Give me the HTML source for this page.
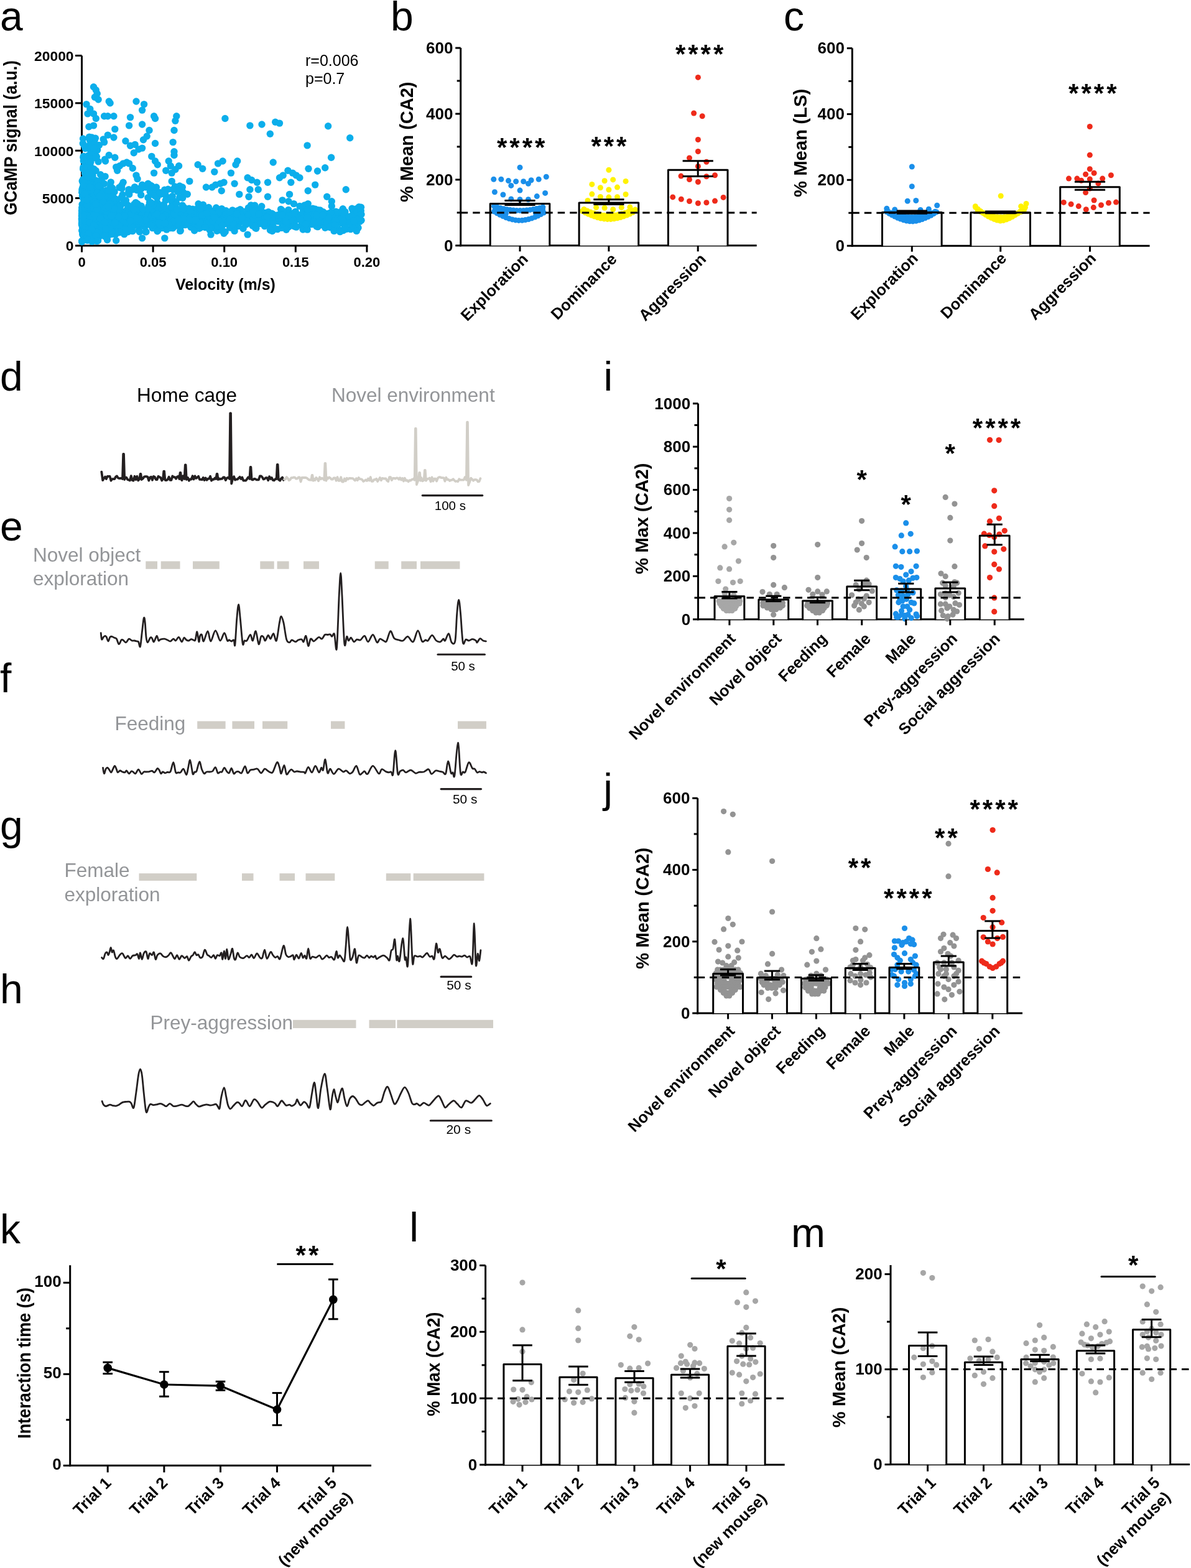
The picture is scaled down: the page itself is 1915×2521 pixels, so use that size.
<!DOCTYPE html>
<html><head><meta charset="utf-8"><title>Figure</title>
<style>html,body{margin:0;padding:0;background:#fff;} svg{display:block;} text{font-family:'Liberation Sans', Arial, Helvetica, sans-serif;}</style>
</head><body>
<svg width="1915" height="2521" viewBox="0 0 1915 2521">
<rect width="1915" height="2521" fill="#fff"/>
<text x="0" y="48.5" font-size="66">a</text>
<line x1="131.5" y1="89.5" x2="131.5" y2="396.5" stroke="#000" stroke-width="3"/>
<line x1="130" y1="395" x2="591.5" y2="395" stroke="#000" stroke-width="3"/>
<line x1="121" y1="395" x2="131.5" y2="395" stroke="#000" stroke-width="3"/>
<text x="118.5" y="403.4" font-size="22.8" font-weight="bold" text-anchor="end">0</text>
<line x1="121" y1="318.6" x2="131.5" y2="318.6" stroke="#000" stroke-width="3"/>
<text x="118.5" y="327" font-size="22.8" font-weight="bold" text-anchor="end">5000</text>
<line x1="121" y1="242.2" x2="131.5" y2="242.2" stroke="#000" stroke-width="3"/>
<text x="118.5" y="250.6" font-size="22.8" font-weight="bold" text-anchor="end">10000</text>
<line x1="121" y1="165.8" x2="131.5" y2="165.8" stroke="#000" stroke-width="3"/>
<text x="118.5" y="174.2" font-size="22.8" font-weight="bold" text-anchor="end">15000</text>
<line x1="121" y1="89.4" x2="131.5" y2="89.4" stroke="#000" stroke-width="3"/>
<text x="118.5" y="97.8" font-size="22.8" font-weight="bold" text-anchor="end">20000</text>
<line x1="131.5" y1="395" x2="131.5" y2="405.5" stroke="#000" stroke-width="3"/>
<text x="131.5" y="428.5" font-size="22" font-weight="bold" text-anchor="middle">0</text>
<line x1="246.1" y1="395" x2="246.1" y2="405.5" stroke="#000" stroke-width="3"/>
<text x="246.1" y="428.5" font-size="22" font-weight="bold" text-anchor="middle">0.05</text>
<line x1="360.7" y1="395" x2="360.7" y2="405.5" stroke="#000" stroke-width="3"/>
<text x="360.7" y="428.5" font-size="22" font-weight="bold" text-anchor="middle">0.10</text>
<line x1="475.3" y1="395" x2="475.3" y2="405.5" stroke="#000" stroke-width="3"/>
<text x="475.3" y="428.5" font-size="22" font-weight="bold" text-anchor="middle">0.15</text>
<line x1="589.9" y1="395" x2="589.9" y2="405.5" stroke="#000" stroke-width="3"/>
<text x="589.9" y="428.5" font-size="22" font-weight="bold" text-anchor="middle">0.20</text>
<g fill="#0BAEEB"><circle cx="205.8" cy="344.2" r="5.7"/><circle cx="138.3" cy="341.4" r="5.7"/><circle cx="297.9" cy="353.4" r="5.7"/><circle cx="284" cy="349.2" r="5.7"/><circle cx="133.9" cy="354.4" r="5.7"/><circle cx="141.2" cy="350.1" r="5.7"/><circle cx="246.1" cy="349.4" r="5.7"/><circle cx="172.5" cy="355.3" r="5.7"/><circle cx="345.7" cy="340.8" r="5.7"/><circle cx="234.3" cy="355.1" r="5.7"/><circle cx="566" cy="335.3" r="5.7"/><circle cx="193.7" cy="346.6" r="5.7"/><circle cx="151.9" cy="346" r="5.7"/><circle cx="457.7" cy="346.5" r="5.7"/><circle cx="160.7" cy="362.1" r="5.7"/><circle cx="224.5" cy="357.4" r="5.7"/><circle cx="303.8" cy="348.7" r="5.7"/><circle cx="167.5" cy="350.3" r="5.7"/><circle cx="375.3" cy="358.1" r="5.7"/><circle cx="323.3" cy="348.2" r="5.7"/><circle cx="258.8" cy="356.1" r="5.7"/><circle cx="386.1" cy="337" r="5.7"/><circle cx="178.8" cy="360.8" r="5.7"/><circle cx="496.3" cy="356.2" r="5.7"/><circle cx="404.1" cy="357.1" r="5.7"/><circle cx="146.3" cy="328.2" r="5.7"/><circle cx="243.4" cy="351.2" r="5.7"/><circle cx="275.2" cy="356.4" r="5.7"/><circle cx="134" cy="358.6" r="5.7"/><circle cx="316.8" cy="364.1" r="5.7"/><circle cx="496.5" cy="356.6" r="5.7"/><circle cx="327.9" cy="339.3" r="5.7"/><circle cx="320.3" cy="367.2" r="5.7"/><circle cx="543.7" cy="347" r="5.7"/><circle cx="268.3" cy="353" r="5.7"/><circle cx="387.5" cy="354" r="5.7"/><circle cx="356.5" cy="335.6" r="5.7"/><circle cx="192" cy="352.1" r="5.7"/><circle cx="229.9" cy="352.3" r="5.7"/><circle cx="262.6" cy="353" r="5.7"/><circle cx="157.5" cy="349.2" r="5.7"/><circle cx="427.6" cy="349.5" r="5.7"/><circle cx="148.6" cy="351.3" r="5.7"/><circle cx="493.8" cy="342.9" r="5.7"/><circle cx="139.5" cy="361.7" r="5.7"/><circle cx="501.8" cy="348.1" r="5.7"/><circle cx="459.7" cy="346.9" r="5.7"/><circle cx="242.2" cy="356.7" r="5.7"/><circle cx="219.1" cy="335.4" r="5.7"/><circle cx="153.4" cy="365.8" r="5.7"/><circle cx="159.6" cy="350.7" r="5.7"/><circle cx="273.3" cy="345.3" r="5.7"/><circle cx="325.1" cy="351.5" r="5.7"/><circle cx="243.7" cy="350.7" r="5.7"/><circle cx="223.2" cy="370.8" r="5.7"/><circle cx="381.2" cy="360" r="5.7"/><circle cx="287.9" cy="361" r="5.7"/><circle cx="135.7" cy="360.1" r="5.7"/><circle cx="512.7" cy="348.2" r="5.7"/><circle cx="446.1" cy="368.6" r="5.7"/><circle cx="232.6" cy="354.7" r="5.7"/><circle cx="349.4" cy="349.1" r="5.7"/><circle cx="136.8" cy="346.1" r="5.7"/><circle cx="156.1" cy="349" r="5.7"/><circle cx="211.9" cy="351.3" r="5.7"/><circle cx="153.5" cy="351.4" r="5.7"/><circle cx="143.1" cy="352.7" r="5.7"/><circle cx="495.7" cy="350" r="5.7"/><circle cx="338.4" cy="347.6" r="5.7"/><circle cx="214.7" cy="346.2" r="5.7"/><circle cx="221.2" cy="339.5" r="5.7"/><circle cx="578.1" cy="339.8" r="5.7"/><circle cx="264.6" cy="355.1" r="5.7"/><circle cx="143.2" cy="351.1" r="5.7"/><circle cx="212.9" cy="352.9" r="5.7"/><circle cx="155.9" cy="335.4" r="5.7"/><circle cx="132.6" cy="341.5" r="5.7"/><circle cx="152.4" cy="354.6" r="5.7"/><circle cx="301.6" cy="341.1" r="5.7"/><circle cx="567.6" cy="349.7" r="5.7"/><circle cx="488.4" cy="353.7" r="5.7"/><circle cx="222.2" cy="357.7" r="5.7"/><circle cx="157.3" cy="350" r="5.7"/><circle cx="434.3" cy="361.9" r="5.7"/><circle cx="208" cy="348.8" r="5.7"/><circle cx="572.2" cy="336" r="5.7"/><circle cx="481.4" cy="346" r="5.7"/><circle cx="410.3" cy="366.3" r="5.7"/><circle cx="173.5" cy="359.4" r="5.7"/><circle cx="133.1" cy="352.3" r="5.7"/><circle cx="133" cy="352.7" r="5.7"/><circle cx="382.3" cy="344.9" r="5.7"/><circle cx="552" cy="370.5" r="5.7"/><circle cx="574.4" cy="344.9" r="5.7"/><circle cx="551" cy="355.4" r="5.7"/><circle cx="173.6" cy="346.9" r="5.7"/><circle cx="165" cy="348.1" r="5.7"/><circle cx="513.2" cy="340" r="5.7"/><circle cx="473.4" cy="363.8" r="5.7"/><circle cx="447.2" cy="349.9" r="5.7"/><circle cx="140.2" cy="361.5" r="5.7"/><circle cx="436.3" cy="367.3" r="5.7"/><circle cx="416.5" cy="356.8" r="5.7"/><circle cx="440.6" cy="350.7" r="5.7"/><circle cx="209.1" cy="344.3" r="5.7"/><circle cx="234" cy="372.8" r="5.7"/><circle cx="236.3" cy="338.5" r="5.7"/><circle cx="158" cy="356" r="5.7"/><circle cx="148.1" cy="340.7" r="5.7"/><circle cx="451.6" cy="336.4" r="5.7"/><circle cx="152.3" cy="340.4" r="5.7"/><circle cx="362.2" cy="372.7" r="5.7"/><circle cx="215.8" cy="355.8" r="5.7"/><circle cx="132" cy="352.8" r="5.7"/><circle cx="562.2" cy="357.6" r="5.7"/><circle cx="536" cy="359.9" r="5.7"/><circle cx="250.2" cy="340.4" r="5.7"/><circle cx="169" cy="363" r="5.7"/><circle cx="181.2" cy="353.1" r="5.7"/><circle cx="323.7" cy="345.3" r="5.7"/><circle cx="183.6" cy="355.4" r="5.7"/><circle cx="519.8" cy="349.2" r="5.7"/><circle cx="217.1" cy="362.4" r="5.7"/><circle cx="515.9" cy="348.5" r="5.7"/><circle cx="244.5" cy="342.7" r="5.7"/><circle cx="295.9" cy="356.4" r="5.7"/><circle cx="291.8" cy="342.3" r="5.7"/><circle cx="161.4" cy="350.4" r="5.7"/><circle cx="131.6" cy="349.9" r="5.7"/><circle cx="268" cy="356.5" r="5.7"/><circle cx="401.5" cy="358.6" r="5.7"/><circle cx="289.3" cy="354.1" r="5.7"/><circle cx="307.7" cy="350.6" r="5.7"/><circle cx="310.2" cy="355.4" r="5.7"/><circle cx="180.2" cy="353.9" r="5.7"/><circle cx="284.1" cy="336.9" r="5.7"/><circle cx="310.9" cy="350.3" r="5.7"/><circle cx="254.3" cy="370.3" r="5.7"/><circle cx="337.6" cy="361.7" r="5.7"/><circle cx="382.4" cy="351.8" r="5.7"/><circle cx="258.4" cy="361" r="5.7"/><circle cx="541.5" cy="353.5" r="5.7"/><circle cx="386.2" cy="336.9" r="5.7"/><circle cx="183.7" cy="365.8" r="5.7"/><circle cx="309.8" cy="336.1" r="5.7"/><circle cx="150.3" cy="357.2" r="5.7"/><circle cx="147" cy="354.6" r="5.7"/><circle cx="177.7" cy="350.3" r="5.7"/><circle cx="138.4" cy="358.7" r="5.7"/><circle cx="511" cy="364.6" r="5.7"/><circle cx="154.2" cy="354.1" r="5.7"/><circle cx="151.6" cy="363.7" r="5.7"/><circle cx="501.4" cy="345.6" r="5.7"/><circle cx="549.2" cy="352.7" r="5.7"/><circle cx="235" cy="372.8" r="5.7"/><circle cx="468.2" cy="349.4" r="5.7"/><circle cx="155.9" cy="360.8" r="5.7"/><circle cx="211.5" cy="347.2" r="5.7"/><circle cx="164.7" cy="357.2" r="5.7"/><circle cx="132.3" cy="339" r="5.7"/><circle cx="307" cy="353" r="5.7"/><circle cx="208.7" cy="350.9" r="5.7"/><circle cx="343.8" cy="354.6" r="5.7"/><circle cx="572.3" cy="351.7" r="5.7"/><circle cx="440.1" cy="347.5" r="5.7"/><circle cx="185.6" cy="352.2" r="5.7"/><circle cx="134.1" cy="350.2" r="5.7"/><circle cx="148.7" cy="358.1" r="5.7"/><circle cx="245.2" cy="338" r="5.7"/><circle cx="183.4" cy="359.8" r="5.7"/><circle cx="153.1" cy="341.7" r="5.7"/><circle cx="386.9" cy="356.9" r="5.7"/><circle cx="141" cy="339.2" r="5.7"/><circle cx="246.5" cy="346.8" r="5.7"/><circle cx="138.3" cy="340.2" r="5.7"/><circle cx="448.5" cy="356" r="5.7"/><circle cx="140" cy="349.5" r="5.7"/><circle cx="488" cy="353.9" r="5.7"/><circle cx="259" cy="357.2" r="5.7"/><circle cx="531.2" cy="342.3" r="5.7"/><circle cx="186.4" cy="344.2" r="5.7"/><circle cx="177" cy="343.9" r="5.7"/><circle cx="144.6" cy="350" r="5.7"/><circle cx="166.4" cy="349.1" r="5.7"/><circle cx="201.5" cy="356.3" r="5.7"/><circle cx="193.8" cy="337.9" r="5.7"/><circle cx="280.5" cy="348" r="5.7"/><circle cx="132.2" cy="344.3" r="5.7"/><circle cx="180.8" cy="337.6" r="5.7"/><circle cx="305.5" cy="350.1" r="5.7"/><circle cx="163" cy="371.2" r="5.7"/><circle cx="144" cy="348.3" r="5.7"/><circle cx="459.5" cy="360.6" r="5.7"/><circle cx="469.6" cy="347.3" r="5.7"/><circle cx="232.9" cy="364.5" r="5.7"/><circle cx="570.4" cy="352" r="5.7"/><circle cx="212.9" cy="344.8" r="5.7"/><circle cx="350.4" cy="363.1" r="5.7"/><circle cx="237.7" cy="353.1" r="5.7"/><circle cx="148.7" cy="349.1" r="5.7"/><circle cx="138" cy="351.8" r="5.7"/><circle cx="156.3" cy="358" r="5.7"/><circle cx="140.2" cy="342.1" r="5.7"/><circle cx="369.7" cy="366" r="5.7"/><circle cx="191.1" cy="351.1" r="5.7"/><circle cx="261.6" cy="344.3" r="5.7"/><circle cx="155" cy="357.8" r="5.7"/><circle cx="555.7" cy="349.2" r="5.7"/><circle cx="563.4" cy="357.6" r="5.7"/><circle cx="558.5" cy="353.3" r="5.7"/><circle cx="200.7" cy="351.7" r="5.7"/><circle cx="228.2" cy="351.1" r="5.7"/><circle cx="268.5" cy="357.2" r="5.7"/><circle cx="282.7" cy="351.6" r="5.7"/><circle cx="131.6" cy="351.8" r="5.7"/><circle cx="235.5" cy="347.8" r="5.7"/><circle cx="134.3" cy="344.2" r="5.7"/><circle cx="175.3" cy="350.4" r="5.7"/><circle cx="323.3" cy="365.5" r="5.7"/><circle cx="362.4" cy="354.1" r="5.7"/><circle cx="396.1" cy="345.3" r="5.7"/><circle cx="206.7" cy="357.3" r="5.7"/><circle cx="572" cy="343.3" r="5.7"/><circle cx="354.4" cy="340.4" r="5.7"/><circle cx="134.5" cy="342.2" r="5.7"/><circle cx="345.6" cy="367" r="5.7"/><circle cx="406.7" cy="349.7" r="5.7"/><circle cx="291.9" cy="355.8" r="5.7"/><circle cx="282.5" cy="343.6" r="5.7"/><circle cx="464.3" cy="364.8" r="5.7"/><circle cx="322.5" cy="341.3" r="5.7"/><circle cx="382.8" cy="359.5" r="5.7"/><circle cx="174.5" cy="347" r="5.7"/><circle cx="219.8" cy="350.6" r="5.7"/><circle cx="143.7" cy="345.8" r="5.7"/><circle cx="345.9" cy="360.8" r="5.7"/><circle cx="345" cy="355.6" r="5.7"/><circle cx="131.5" cy="360.4" r="5.7"/><circle cx="446" cy="351.6" r="5.7"/><circle cx="297.6" cy="361.6" r="5.7"/><circle cx="363.4" cy="338.7" r="5.7"/><circle cx="181.3" cy="345.8" r="5.7"/><circle cx="138.6" cy="352.8" r="5.7"/><circle cx="167.3" cy="337.7" r="5.7"/><circle cx="410.3" cy="341.6" r="5.7"/><circle cx="228.6" cy="353" r="5.7"/><circle cx="270.6" cy="357.4" r="5.7"/><circle cx="340" cy="364.8" r="5.7"/><circle cx="354.1" cy="347.2" r="5.7"/><circle cx="181.9" cy="349.2" r="5.7"/><circle cx="412.3" cy="355.2" r="5.7"/><circle cx="131.9" cy="341" r="5.7"/><circle cx="136.6" cy="353" r="5.7"/><circle cx="382.1" cy="338.8" r="5.7"/><circle cx="372.7" cy="354.1" r="5.7"/><circle cx="264" cy="341.5" r="5.7"/><circle cx="264.7" cy="338.1" r="5.7"/><circle cx="165.7" cy="339.2" r="5.7"/><circle cx="567.3" cy="350" r="5.7"/><circle cx="261.4" cy="352.1" r="5.7"/><circle cx="460.1" cy="342.3" r="5.7"/><circle cx="186.6" cy="353.3" r="5.7"/><circle cx="168.6" cy="345.9" r="5.7"/><circle cx="321.1" cy="353.4" r="5.7"/><circle cx="151.3" cy="372.4" r="5.7"/><circle cx="149.3" cy="354.6" r="5.7"/><circle cx="460.3" cy="369.3" r="5.7"/><circle cx="388.6" cy="352.4" r="5.7"/><circle cx="174.9" cy="343.5" r="5.7"/><circle cx="132.7" cy="357.4" r="5.7"/><circle cx="131.6" cy="360.8" r="5.7"/><circle cx="198" cy="351" r="5.7"/><circle cx="151.1" cy="355.6" r="5.7"/><circle cx="473.3" cy="345.3" r="5.7"/><circle cx="131.5" cy="351.4" r="5.7"/><circle cx="146.7" cy="367.8" r="5.7"/><circle cx="531" cy="355.7" r="5.7"/><circle cx="193.7" cy="369.4" r="5.7"/><circle cx="224.4" cy="372.8" r="5.7"/><circle cx="325.2" cy="331.9" r="5.7"/><circle cx="219.8" cy="357.6" r="5.7"/><circle cx="135" cy="348.5" r="5.7"/><circle cx="143.2" cy="347.9" r="5.7"/><circle cx="537.4" cy="357.5" r="5.7"/><circle cx="180.4" cy="352.5" r="5.7"/><circle cx="163.1" cy="341.3" r="5.7"/><circle cx="224.8" cy="334.4" r="5.7"/><circle cx="455" cy="356.3" r="5.7"/><circle cx="347.6" cy="334" r="5.7"/><circle cx="304.6" cy="362" r="5.7"/><circle cx="398.2" cy="338.2" r="5.7"/><circle cx="257.7" cy="347.2" r="5.7"/><circle cx="418.1" cy="355.8" r="5.7"/><circle cx="135.1" cy="357" r="5.7"/><circle cx="531.3" cy="344.7" r="5.7"/><circle cx="213.3" cy="344.5" r="5.7"/><circle cx="196.5" cy="353.1" r="5.7"/><circle cx="183.9" cy="372.8" r="5.7"/><circle cx="361.5" cy="354.9" r="5.7"/><circle cx="233.4" cy="341.1" r="5.7"/><circle cx="157.3" cy="348.4" r="5.7"/><circle cx="517" cy="346.5" r="5.7"/><circle cx="279.1" cy="348" r="5.7"/><circle cx="580.5" cy="333.2" r="5.7"/><circle cx="257.3" cy="347.9" r="5.7"/><circle cx="141.2" cy="347.2" r="5.7"/><circle cx="212.6" cy="346.1" r="5.7"/><circle cx="183.3" cy="348" r="5.7"/><circle cx="315" cy="340.6" r="5.7"/><circle cx="241.1" cy="360.7" r="5.7"/><circle cx="241.6" cy="359.7" r="5.7"/><circle cx="211.2" cy="352.7" r="5.7"/><circle cx="136.8" cy="355.3" r="5.7"/><circle cx="147.9" cy="329.4" r="5.7"/><circle cx="282.1" cy="363.2" r="5.7"/><circle cx="170.4" cy="363.9" r="5.7"/><circle cx="187.4" cy="351.4" r="5.7"/><circle cx="255.5" cy="342.8" r="5.7"/><circle cx="550.2" cy="341.4" r="5.7"/><circle cx="132.5" cy="365.6" r="5.7"/><circle cx="133.4" cy="356" r="5.7"/><circle cx="267.9" cy="369.1" r="5.7"/><circle cx="324.1" cy="342.9" r="5.7"/><circle cx="531.3" cy="351.4" r="5.7"/><circle cx="463.8" cy="337.4" r="5.7"/><circle cx="180.2" cy="369.5" r="5.7"/><circle cx="144.5" cy="345.6" r="5.7"/><circle cx="376.3" cy="342.9" r="5.7"/><circle cx="541.5" cy="353.6" r="5.7"/><circle cx="425.5" cy="363.6" r="5.7"/><circle cx="260.6" cy="353.8" r="5.7"/><circle cx="436.3" cy="352.2" r="5.7"/><circle cx="175.3" cy="340.7" r="5.7"/><circle cx="198.6" cy="357.4" r="5.7"/><circle cx="148.3" cy="351.6" r="5.7"/><circle cx="385.8" cy="339.3" r="5.7"/><circle cx="145.1" cy="342" r="5.7"/><circle cx="321.9" cy="347" r="5.7"/><circle cx="230.8" cy="349.5" r="5.7"/><circle cx="131.8" cy="340" r="5.7"/><circle cx="197.8" cy="372.4" r="5.7"/><circle cx="355.1" cy="346.2" r="5.7"/><circle cx="502" cy="357.6" r="5.7"/><circle cx="179.7" cy="350.5" r="5.7"/><circle cx="554.9" cy="353.5" r="5.7"/><circle cx="132.5" cy="358.5" r="5.7"/><circle cx="279.6" cy="355.5" r="5.7"/><circle cx="182.9" cy="359.4" r="5.7"/><circle cx="367.9" cy="346" r="5.7"/><circle cx="133.5" cy="354.2" r="5.7"/><circle cx="211.1" cy="362.8" r="5.7"/><circle cx="165.4" cy="345.2" r="5.7"/><circle cx="445.6" cy="352.1" r="5.7"/><circle cx="167.3" cy="361.6" r="5.7"/><circle cx="561.4" cy="357.4" r="5.7"/><circle cx="174.7" cy="336.8" r="5.7"/><circle cx="172" cy="351" r="5.7"/><circle cx="548.8" cy="358.6" r="5.7"/><circle cx="278.4" cy="349.1" r="5.7"/><circle cx="242.9" cy="345.8" r="5.7"/><circle cx="366.7" cy="346.9" r="5.7"/><circle cx="233" cy="353" r="5.7"/><circle cx="169.5" cy="346.8" r="5.7"/><circle cx="135.5" cy="352.2" r="5.7"/><circle cx="136.5" cy="365.8" r="5.7"/><circle cx="501.9" cy="340.1" r="5.7"/><circle cx="406" cy="331.6" r="5.7"/><circle cx="207.8" cy="351.8" r="5.7"/><circle cx="162" cy="338.4" r="5.7"/><circle cx="133.3" cy="357" r="5.7"/><circle cx="366.2" cy="357.4" r="5.7"/><circle cx="208.7" cy="345.7" r="5.7"/><circle cx="157.8" cy="344.5" r="5.7"/><circle cx="216.2" cy="351.3" r="5.7"/><circle cx="551.3" cy="335.7" r="5.7"/><circle cx="167.9" cy="336" r="5.7"/><circle cx="218.2" cy="344.5" r="5.7"/><circle cx="249.6" cy="365.8" r="5.7"/><circle cx="135.2" cy="359.6" r="5.7"/><circle cx="526.3" cy="350.1" r="5.7"/><circle cx="164" cy="363.5" r="5.7"/><circle cx="133.2" cy="337.7" r="5.7"/><circle cx="240.3" cy="345.9" r="5.7"/><circle cx="134.2" cy="365" r="5.7"/><circle cx="133.6" cy="333.7" r="5.7"/><circle cx="182.9" cy="344.1" r="5.7"/><circle cx="414.8" cy="345.2" r="5.7"/><circle cx="187.8" cy="356.1" r="5.7"/><circle cx="552.8" cy="356.4" r="5.7"/><circle cx="396.4" cy="355.9" r="5.7"/><circle cx="203.2" cy="351.6" r="5.7"/><circle cx="419.9" cy="350.7" r="5.7"/><circle cx="524.2" cy="365.1" r="5.7"/><circle cx="132.7" cy="366.7" r="5.7"/><circle cx="175.7" cy="372.6" r="5.7"/><circle cx="550.2" cy="348.1" r="5.7"/><circle cx="230.2" cy="351.5" r="5.7"/><circle cx="277.3" cy="342.4" r="5.7"/><circle cx="532.2" cy="345.1" r="5.7"/><circle cx="409.5" cy="337.4" r="5.7"/><circle cx="462" cy="349.8" r="5.7"/><circle cx="207.3" cy="363" r="5.7"/><circle cx="204.3" cy="361.1" r="5.7"/><circle cx="139.3" cy="340.1" r="5.7"/><circle cx="165.1" cy="351.3" r="5.7"/><circle cx="137.2" cy="357.9" r="5.7"/><circle cx="133.5" cy="358.6" r="5.7"/><circle cx="568.8" cy="353.9" r="5.7"/><circle cx="501.8" cy="344.8" r="5.7"/><circle cx="140.1" cy="352" r="5.7"/><circle cx="142.2" cy="364.9" r="5.7"/><circle cx="256" cy="351.3" r="5.7"/><circle cx="175.8" cy="361.8" r="5.7"/><circle cx="371.7" cy="345.5" r="5.7"/><circle cx="415.2" cy="344.2" r="5.7"/><circle cx="146.9" cy="361.8" r="5.7"/><circle cx="473.7" cy="354.5" r="5.7"/><circle cx="224.7" cy="340.8" r="5.7"/><circle cx="409.2" cy="349.4" r="5.7"/><circle cx="179.2" cy="345.3" r="5.7"/><circle cx="154" cy="343.1" r="5.7"/><circle cx="206.8" cy="358.9" r="5.7"/><circle cx="234.1" cy="341.3" r="5.7"/><circle cx="174.9" cy="351.9" r="5.7"/><circle cx="452.8" cy="366.4" r="5.7"/><circle cx="143.3" cy="372.8" r="5.7"/><circle cx="268.6" cy="344.6" r="5.7"/><circle cx="522.8" cy="366.3" r="5.7"/><circle cx="134.2" cy="352.6" r="5.7"/><circle cx="163.1" cy="347.3" r="5.7"/><circle cx="563.7" cy="368.6" r="5.7"/><circle cx="224.4" cy="361.3" r="5.7"/><circle cx="490.3" cy="357.8" r="5.7"/><circle cx="433.5" cy="349.4" r="5.7"/><circle cx="544.4" cy="342.4" r="5.7"/><circle cx="341.6" cy="344.3" r="5.7"/><circle cx="170.9" cy="354.7" r="5.7"/><circle cx="167" cy="348" r="5.7"/><circle cx="182.2" cy="361.5" r="5.7"/><circle cx="166.8" cy="358.7" r="5.7"/><circle cx="131.9" cy="357.5" r="5.7"/><circle cx="161.9" cy="340.1" r="5.7"/><circle cx="201.6" cy="347.1" r="5.7"/><circle cx="304" cy="336.9" r="5.7"/><circle cx="137" cy="344.6" r="5.7"/><circle cx="305.1" cy="346.3" r="5.7"/><circle cx="352.1" cy="347.2" r="5.7"/><circle cx="384" cy="348.7" r="5.7"/><circle cx="239.8" cy="353" r="5.7"/><circle cx="549.7" cy="344.3" r="5.7"/><circle cx="201.7" cy="358.8" r="5.7"/><circle cx="242.7" cy="354.7" r="5.7"/><circle cx="489" cy="343.3" r="5.7"/><circle cx="165.1" cy="351.6" r="5.7"/><circle cx="403.2" cy="351.2" r="5.7"/><circle cx="514.1" cy="350.6" r="5.7"/><circle cx="245.8" cy="347.7" r="5.7"/><circle cx="501.4" cy="359.3" r="5.7"/><circle cx="262.3" cy="350.7" r="5.7"/><circle cx="305.8" cy="350.2" r="5.7"/><circle cx="353" cy="348.3" r="5.7"/><circle cx="342.8" cy="353.4" r="5.7"/><circle cx="223.8" cy="356.3" r="5.7"/><circle cx="191.5" cy="351.6" r="5.7"/><circle cx="290.7" cy="347.8" r="5.7"/><circle cx="275.9" cy="353.3" r="5.7"/><circle cx="450.5" cy="345.9" r="5.7"/><circle cx="148.1" cy="352.6" r="5.7"/><circle cx="542.6" cy="341.7" r="5.7"/><circle cx="135.7" cy="353" r="5.7"/><circle cx="530.9" cy="365.6" r="5.7"/><circle cx="341.8" cy="339.5" r="5.7"/><circle cx="463.1" cy="343.4" r="5.7"/><circle cx="172.2" cy="338.8" r="5.7"/><circle cx="237.6" cy="342.3" r="5.7"/><circle cx="161.3" cy="364.7" r="5.7"/><circle cx="171" cy="359.8" r="5.7"/><circle cx="229" cy="345.4" r="5.7"/><circle cx="147.3" cy="351.2" r="5.7"/><circle cx="511.1" cy="337.7" r="5.7"/><circle cx="134.2" cy="364.8" r="5.7"/><circle cx="133.9" cy="357" r="5.7"/><circle cx="471.9" cy="342.9" r="5.7"/><circle cx="305" cy="343.6" r="5.7"/><circle cx="345.5" cy="354.5" r="5.7"/><circle cx="321.7" cy="343.1" r="5.7"/><circle cx="246.7" cy="356.5" r="5.7"/><circle cx="252.2" cy="359.3" r="5.7"/><circle cx="132.6" cy="358.7" r="5.7"/><circle cx="176.1" cy="358.2" r="5.7"/><circle cx="424.7" cy="349.7" r="5.7"/><circle cx="160.4" cy="360.8" r="5.7"/><circle cx="267.9" cy="347.9" r="5.7"/><circle cx="248.8" cy="348.7" r="5.7"/><circle cx="141.4" cy="361" r="5.7"/><circle cx="134.2" cy="347.8" r="5.7"/><circle cx="350.6" cy="339.4" r="5.7"/><circle cx="433.4" cy="344.6" r="5.7"/><circle cx="286" cy="341.9" r="5.7"/><circle cx="226.7" cy="348.1" r="5.7"/><circle cx="548.1" cy="340.4" r="5.7"/><circle cx="580.2" cy="338.7" r="5.7"/><circle cx="405.6" cy="349.2" r="5.7"/><circle cx="569.9" cy="356.6" r="5.7"/><circle cx="276.6" cy="333.1" r="5.7"/><circle cx="156.8" cy="356.6" r="5.7"/><circle cx="440.1" cy="348.6" r="5.7"/><circle cx="216" cy="352.8" r="5.7"/><circle cx="420.2" cy="341.6" r="5.7"/><circle cx="188.7" cy="336.1" r="5.7"/><circle cx="457.4" cy="345.2" r="5.7"/><circle cx="526.6" cy="343.5" r="5.7"/><circle cx="168.2" cy="352.3" r="5.7"/><circle cx="204.1" cy="341.3" r="5.7"/><circle cx="133.8" cy="349.4" r="5.7"/><circle cx="538" cy="346.8" r="5.7"/><circle cx="374.9" cy="347.3" r="5.7"/><circle cx="437.9" cy="354.6" r="5.7"/><circle cx="145.7" cy="363.4" r="5.7"/><circle cx="219.5" cy="353.8" r="5.7"/><circle cx="494.8" cy="362.1" r="5.7"/><circle cx="501.2" cy="355.3" r="5.7"/><circle cx="143.7" cy="339.4" r="5.7"/><circle cx="233.3" cy="352" r="5.7"/><circle cx="446" cy="353.9" r="5.7"/><circle cx="319" cy="327.8" r="5.7"/><circle cx="219.7" cy="350.6" r="5.7"/><circle cx="159.7" cy="360.7" r="5.7"/><circle cx="412.6" cy="336.3" r="5.7"/><circle cx="181.8" cy="346.7" r="5.7"/><circle cx="352.2" cy="340.1" r="5.7"/><circle cx="365.8" cy="352.6" r="5.7"/><circle cx="201.8" cy="349.2" r="5.7"/><circle cx="153.1" cy="351.4" r="5.7"/><circle cx="339.5" cy="360.8" r="5.7"/><circle cx="510" cy="347.2" r="5.7"/><circle cx="149.2" cy="349.7" r="5.7"/><circle cx="132.5" cy="339.1" r="5.7"/><circle cx="131.5" cy="353.9" r="5.7"/><circle cx="218.4" cy="348.2" r="5.7"/><circle cx="172.8" cy="361.3" r="5.7"/><circle cx="167" cy="357.2" r="5.7"/><circle cx="343.8" cy="356" r="5.7"/><circle cx="538.1" cy="350.7" r="5.7"/><circle cx="178.6" cy="349.2" r="5.7"/><circle cx="351.6" cy="348.4" r="5.7"/><circle cx="493.7" cy="349.7" r="5.7"/><circle cx="185.2" cy="360" r="5.7"/><circle cx="131.9" cy="358.2" r="5.7"/><circle cx="215.8" cy="360.1" r="5.7"/><circle cx="355.7" cy="370.3" r="5.7"/><circle cx="406.5" cy="344.5" r="5.7"/><circle cx="180.2" cy="349.3" r="5.7"/><circle cx="295.8" cy="352.9" r="5.7"/><circle cx="238.2" cy="351.2" r="5.7"/><circle cx="434.2" cy="348.5" r="5.7"/><circle cx="131.9" cy="370.8" r="5.7"/><circle cx="151.4" cy="357.9" r="5.7"/><circle cx="165.7" cy="359.4" r="5.7"/><circle cx="353.5" cy="357.8" r="5.7"/><circle cx="456" cy="348.1" r="5.7"/><circle cx="197.4" cy="344.9" r="5.7"/><circle cx="135.1" cy="340" r="5.7"/><circle cx="395.7" cy="361" r="5.7"/><circle cx="131.6" cy="343.5" r="5.7"/><circle cx="264.2" cy="363.2" r="5.7"/><circle cx="411.5" cy="357.3" r="5.7"/><circle cx="143.8" cy="349.7" r="5.7"/><circle cx="175.2" cy="343.9" r="5.7"/><circle cx="416.2" cy="349.6" r="5.7"/><circle cx="383.8" cy="343.8" r="5.7"/><circle cx="185.8" cy="362.6" r="5.7"/><circle cx="306.9" cy="365.3" r="5.7"/><circle cx="291.7" cy="345.6" r="5.7"/><circle cx="185.5" cy="365.4" r="5.7"/><circle cx="170.7" cy="368.7" r="5.7"/><circle cx="499.5" cy="344.8" r="5.7"/><circle cx="176.3" cy="350.8" r="5.7"/><circle cx="412.7" cy="338.1" r="5.7"/><circle cx="207" cy="356.3" r="5.7"/><circle cx="499.6" cy="354.4" r="5.7"/><circle cx="518.1" cy="345.9" r="5.7"/><circle cx="347.5" cy="355.9" r="5.7"/><circle cx="568" cy="363.3" r="5.7"/><circle cx="266.2" cy="344.4" r="5.7"/><circle cx="484.6" cy="362.6" r="5.7"/><circle cx="251.7" cy="353.2" r="5.7"/><circle cx="200" cy="362.4" r="5.7"/><circle cx="169.2" cy="353.9" r="5.7"/><circle cx="520.3" cy="353.9" r="5.7"/><circle cx="152" cy="347.4" r="5.7"/><circle cx="532.8" cy="350.8" r="5.7"/><circle cx="213.7" cy="350.2" r="5.7"/><circle cx="134.3" cy="349.8" r="5.7"/><circle cx="382.4" cy="360.3" r="5.7"/><circle cx="408.5" cy="361.3" r="5.7"/><circle cx="137.3" cy="358.3" r="5.7"/><circle cx="458.6" cy="355.8" r="5.7"/><circle cx="459.9" cy="349" r="5.7"/><circle cx="491.4" cy="353.4" r="5.7"/><circle cx="522.8" cy="347.6" r="5.7"/><circle cx="167.5" cy="352.8" r="5.7"/><circle cx="145.1" cy="335.2" r="5.7"/><circle cx="455.1" cy="347.9" r="5.7"/><circle cx="349.4" cy="346" r="5.7"/><circle cx="192.9" cy="362.2" r="5.7"/><circle cx="142.8" cy="339.7" r="5.7"/><circle cx="167.3" cy="343.1" r="5.7"/><circle cx="204.1" cy="353" r="5.7"/><circle cx="182.8" cy="350.6" r="5.7"/><circle cx="191.3" cy="353.2" r="5.7"/><circle cx="204.7" cy="359.5" r="5.7"/><circle cx="557.3" cy="368.2" r="5.7"/><circle cx="340.7" cy="351.8" r="5.7"/><circle cx="133.2" cy="359.3" r="5.7"/><circle cx="430.6" cy="346.7" r="5.7"/><circle cx="214.4" cy="354.4" r="5.7"/><circle cx="170.6" cy="361.7" r="5.7"/><circle cx="487.7" cy="338.1" r="5.7"/><circle cx="158.1" cy="342.9" r="5.7"/><circle cx="131.5" cy="347.1" r="5.7"/><circle cx="567.1" cy="337.6" r="5.7"/><circle cx="131.6" cy="361.4" r="5.7"/><circle cx="445.4" cy="350.9" r="5.7"/><circle cx="161.7" cy="359.3" r="5.7"/><circle cx="467.8" cy="351.2" r="5.7"/><circle cx="184" cy="344.9" r="5.7"/><circle cx="170" cy="353.9" r="5.7"/><circle cx="386.4" cy="355.6" r="5.7"/><circle cx="350.7" cy="351.4" r="5.7"/><circle cx="139.6" cy="348.3" r="5.7"/><circle cx="439.2" cy="364.3" r="5.7"/><circle cx="346" cy="356.8" r="5.7"/><circle cx="233.5" cy="344.6" r="5.7"/><circle cx="506.5" cy="336.1" r="5.7"/><circle cx="132.7" cy="342.2" r="5.7"/><circle cx="167.6" cy="353" r="5.7"/><circle cx="281" cy="333.1" r="5.7"/><circle cx="227.2" cy="346.8" r="5.7"/><circle cx="262.3" cy="355.6" r="5.7"/><circle cx="295.8" cy="351" r="5.7"/><circle cx="356.1" cy="365.8" r="5.7"/><circle cx="215.1" cy="353.8" r="5.7"/><circle cx="475.1" cy="347" r="5.7"/><circle cx="364.9" cy="351.7" r="5.7"/><circle cx="252.4" cy="356.7" r="5.7"/><circle cx="430.8" cy="355.4" r="5.7"/><circle cx="262.8" cy="353.6" r="5.7"/><circle cx="502.9" cy="351" r="5.7"/><circle cx="197.8" cy="345.9" r="5.7"/><circle cx="388.5" cy="348.7" r="5.7"/><circle cx="154.6" cy="355.6" r="5.7"/><circle cx="179.9" cy="356.3" r="5.7"/><circle cx="155.8" cy="342.2" r="5.7"/><circle cx="207.4" cy="342.8" r="5.7"/><circle cx="403.6" cy="329.9" r="5.7"/><circle cx="143.2" cy="347.6" r="5.7"/><circle cx="229.2" cy="352.4" r="5.7"/><circle cx="571.4" cy="347.6" r="5.7"/><circle cx="250.7" cy="364.8" r="5.7"/><circle cx="164.8" cy="354.1" r="5.7"/><circle cx="167.7" cy="354.6" r="5.7"/><circle cx="230.9" cy="343" r="5.7"/><circle cx="441.8" cy="349.6" r="5.7"/><circle cx="382.9" cy="363.6" r="5.7"/><circle cx="263.3" cy="351.5" r="5.7"/><circle cx="151.3" cy="358.4" r="5.7"/><circle cx="411" cy="356.7" r="5.7"/><circle cx="518.4" cy="361.6" r="5.7"/><circle cx="415.9" cy="346.7" r="5.7"/><circle cx="244.7" cy="349.6" r="5.7"/><circle cx="499.6" cy="337.9" r="5.7"/><circle cx="431.2" cy="356.6" r="5.7"/><circle cx="374.9" cy="367.4" r="5.7"/><circle cx="353.4" cy="358.6" r="5.7"/><circle cx="346.1" cy="349.3" r="5.7"/><circle cx="142.5" cy="364.5" r="5.7"/><circle cx="394.4" cy="344.2" r="5.7"/><circle cx="346.9" cy="351.5" r="5.7"/><circle cx="259.7" cy="342.5" r="5.7"/><circle cx="342.5" cy="362.3" r="5.7"/><circle cx="533.7" cy="344.5" r="5.7"/><circle cx="161.3" cy="359.8" r="5.7"/><circle cx="231.1" cy="363.7" r="5.7"/><circle cx="275.6" cy="349.1" r="5.7"/><circle cx="301.6" cy="351.8" r="5.7"/><circle cx="155.8" cy="347.4" r="5.7"/><circle cx="289.7" cy="371.4" r="5.7"/><circle cx="143" cy="361" r="5.7"/><circle cx="396.8" cy="356.3" r="5.7"/><circle cx="286.3" cy="361.8" r="5.7"/><circle cx="290.9" cy="363.8" r="5.7"/><circle cx="240.1" cy="345.9" r="5.7"/><circle cx="377.6" cy="353.3" r="5.7"/><circle cx="232.6" cy="351.1" r="5.7"/><circle cx="571.9" cy="355.8" r="5.7"/><circle cx="217.8" cy="345" r="5.7"/><circle cx="235.6" cy="349.1" r="5.7"/><circle cx="132" cy="359.2" r="5.7"/><circle cx="385.7" cy="347.1" r="5.7"/><circle cx="216.5" cy="352" r="5.7"/><circle cx="411.3" cy="345.4" r="5.7"/><circle cx="540.4" cy="357.4" r="5.7"/><circle cx="448.4" cy="352.5" r="5.7"/><circle cx="232.4" cy="350.4" r="5.7"/><circle cx="432.8" cy="347.1" r="5.7"/><circle cx="453.5" cy="357.9" r="5.7"/><circle cx="311.1" cy="358.6" r="5.7"/><circle cx="173.3" cy="343.7" r="5.7"/><circle cx="351.9" cy="353.2" r="5.7"/><circle cx="459.4" cy="347.6" r="5.7"/><circle cx="195.3" cy="360.2" r="5.7"/><circle cx="304.1" cy="340" r="5.7"/><circle cx="217.5" cy="340" r="5.7"/><circle cx="480.1" cy="352.4" r="5.7"/><circle cx="181.8" cy="343.2" r="5.7"/><circle cx="246.8" cy="351.2" r="5.7"/><circle cx="399.5" cy="350.9" r="5.7"/><circle cx="190.8" cy="351.2" r="5.7"/><circle cx="270.8" cy="344.2" r="5.7"/><circle cx="247.9" cy="359.6" r="5.7"/><circle cx="220.5" cy="361" r="5.7"/><circle cx="532.6" cy="349.7" r="5.7"/><circle cx="465.3" cy="353.8" r="5.7"/><circle cx="516.9" cy="350.5" r="5.7"/><circle cx="467.5" cy="356.1" r="5.7"/><circle cx="348.8" cy="350.2" r="5.7"/><circle cx="548.7" cy="351.3" r="5.7"/><circle cx="361.5" cy="351.5" r="5.7"/><circle cx="151.5" cy="347.5" r="5.7"/><circle cx="175.6" cy="350.2" r="5.7"/><circle cx="153.8" cy="359.2" r="5.7"/><circle cx="515.8" cy="350.1" r="5.7"/><circle cx="507" cy="356.5" r="5.7"/><circle cx="335.4" cy="349" r="5.7"/><circle cx="508.9" cy="363.9" r="5.7"/><circle cx="440" cy="348.4" r="5.7"/><circle cx="382.5" cy="356.3" r="5.7"/><circle cx="295.4" cy="351.9" r="5.7"/><circle cx="501.3" cy="360.6" r="5.7"/><circle cx="307.5" cy="352" r="5.7"/><circle cx="150.8" cy="345.2" r="5.7"/><circle cx="277.2" cy="342.5" r="5.7"/><circle cx="151.9" cy="348" r="5.7"/><circle cx="276.4" cy="362.1" r="5.7"/><circle cx="488.1" cy="351.3" r="5.7"/><circle cx="131.6" cy="346.3" r="5.7"/><circle cx="311.4" cy="359.5" r="5.7"/><circle cx="366.7" cy="347" r="5.7"/><circle cx="243.7" cy="358.4" r="5.7"/><circle cx="554.9" cy="340.6" r="5.7"/><circle cx="350.5" cy="345.9" r="5.7"/><circle cx="133" cy="361.5" r="5.7"/><circle cx="534.6" cy="359.7" r="5.7"/><circle cx="208.3" cy="341.3" r="5.7"/><circle cx="273.2" cy="352.6" r="5.7"/><circle cx="511.3" cy="338.1" r="5.7"/><circle cx="344.5" cy="348.6" r="5.7"/><circle cx="211.3" cy="346.2" r="5.7"/><circle cx="268.5" cy="357.7" r="5.7"/><circle cx="292.8" cy="350.7" r="5.7"/><circle cx="250.8" cy="357.3" r="5.7"/><circle cx="245.2" cy="366.6" r="5.7"/><circle cx="194.8" cy="356.8" r="5.7"/><circle cx="465.2" cy="359.8" r="5.7"/><circle cx="187.6" cy="345.7" r="5.7"/><circle cx="283.5" cy="339.1" r="5.7"/><circle cx="442.4" cy="353.4" r="5.7"/><circle cx="208.4" cy="354.4" r="5.7"/><circle cx="323.7" cy="344.9" r="5.7"/><circle cx="349.7" cy="350.9" r="5.7"/><circle cx="400" cy="353.8" r="5.7"/><circle cx="503.3" cy="354.1" r="5.7"/><circle cx="197.4" cy="352.2" r="5.7"/><circle cx="131.6" cy="344.3" r="5.7"/><circle cx="335.5" cy="333.5" r="5.7"/><circle cx="362.6" cy="346.9" r="5.7"/><circle cx="337.2" cy="369.7" r="5.7"/><circle cx="339.9" cy="360.7" r="5.7"/><circle cx="328.9" cy="360.9" r="5.7"/><circle cx="375.7" cy="348.5" r="5.7"/><circle cx="260.9" cy="339.1" r="5.7"/><circle cx="424.2" cy="347.1" r="5.7"/><circle cx="133.8" cy="348.2" r="5.7"/><circle cx="431.5" cy="340.7" r="5.7"/><circle cx="223.1" cy="357.9" r="5.7"/><circle cx="461.9" cy="348.9" r="5.7"/><circle cx="183.2" cy="362.2" r="5.7"/><circle cx="198" cy="358.1" r="5.7"/><circle cx="248.8" cy="347.9" r="5.7"/><circle cx="353.6" cy="348.8" r="5.7"/><circle cx="313.9" cy="352.6" r="5.7"/><circle cx="134.1" cy="340" r="5.7"/><circle cx="317.9" cy="340.9" r="5.7"/><circle cx="525.7" cy="352.8" r="5.7"/><circle cx="230.4" cy="351" r="5.7"/><circle cx="326.6" cy="329.2" r="5.7"/><circle cx="268.9" cy="360.6" r="5.7"/><circle cx="241" cy="341.6" r="5.7"/><circle cx="169.3" cy="344.1" r="5.7"/><circle cx="153.6" cy="350.6" r="5.7"/><circle cx="377.3" cy="351.4" r="5.7"/><circle cx="147" cy="347.9" r="5.7"/><circle cx="492.5" cy="352.2" r="5.7"/><circle cx="148.5" cy="337.9" r="5.7"/><circle cx="178.2" cy="349.9" r="5.7"/><circle cx="406.5" cy="350.4" r="5.7"/><circle cx="431.2" cy="348.9" r="5.7"/><circle cx="394.6" cy="342.9" r="5.7"/><circle cx="140.1" cy="362.4" r="5.7"/><circle cx="346.3" cy="353.9" r="5.7"/><circle cx="535.1" cy="360.6" r="5.7"/><circle cx="181.9" cy="338.2" r="5.7"/><circle cx="131.9" cy="354.5" r="5.7"/><circle cx="132" cy="360.7" r="5.7"/><circle cx="139.4" cy="364.3" r="5.7"/><circle cx="201.2" cy="352.1" r="5.7"/><circle cx="486.9" cy="356.6" r="5.7"/><circle cx="274" cy="343.8" r="5.7"/><circle cx="317.8" cy="348.4" r="5.7"/><circle cx="252.3" cy="353.6" r="5.7"/><circle cx="445.8" cy="355.7" r="5.7"/><circle cx="220.8" cy="358.9" r="5.7"/><circle cx="243.3" cy="361" r="5.7"/><circle cx="229.8" cy="346.8" r="5.7"/><circle cx="437.8" cy="371.5" r="5.7"/><circle cx="313.5" cy="352.2" r="5.7"/><circle cx="564.4" cy="348.5" r="5.7"/><circle cx="388.6" cy="347.9" r="5.7"/><circle cx="334" cy="358.2" r="5.7"/><circle cx="566.8" cy="345.8" r="5.7"/><circle cx="200.3" cy="361.6" r="5.7"/><circle cx="247.9" cy="345.1" r="5.7"/><circle cx="377.9" cy="356.8" r="5.7"/><circle cx="331.8" cy="339.1" r="5.7"/><circle cx="191.5" cy="360.9" r="5.7"/><circle cx="131.5" cy="352.2" r="5.7"/><circle cx="323.8" cy="342.5" r="5.7"/><circle cx="457.6" cy="349.5" r="5.7"/><circle cx="468.7" cy="353.1" r="5.7"/><circle cx="454.9" cy="344" r="5.7"/><circle cx="188.3" cy="359.7" r="5.7"/><circle cx="480.4" cy="346.9" r="5.7"/><circle cx="522.3" cy="363.6" r="5.7"/><circle cx="214.5" cy="342.1" r="5.7"/><circle cx="445.8" cy="345.9" r="5.7"/><circle cx="166" cy="351.4" r="5.7"/><circle cx="175.7" cy="371.3" r="5.7"/><circle cx="334.6" cy="355.7" r="5.7"/><circle cx="167.7" cy="360.1" r="5.7"/><circle cx="182.1" cy="351.3" r="5.7"/><circle cx="261.7" cy="366.6" r="5.7"/><circle cx="140.7" cy="346.3" r="5.7"/><circle cx="175.4" cy="365.2" r="5.7"/><circle cx="320.2" cy="337.3" r="5.7"/><circle cx="291" cy="362.2" r="5.7"/><circle cx="269.4" cy="356.1" r="5.7"/><circle cx="163.8" cy="354.4" r="5.7"/><circle cx="160.7" cy="353.9" r="5.7"/><circle cx="312.3" cy="359.2" r="5.7"/><circle cx="236.8" cy="356.3" r="5.7"/><circle cx="134.6" cy="352" r="5.7"/><circle cx="581" cy="354.3" r="5.7"/><circle cx="348.6" cy="348.6" r="5.7"/><circle cx="439.5" cy="345" r="5.7"/><circle cx="213.7" cy="341.9" r="5.7"/><circle cx="289.8" cy="349.2" r="5.7"/><circle cx="576.1" cy="351.2" r="5.7"/><circle cx="490.2" cy="362.5" r="5.7"/><circle cx="184.3" cy="350.5" r="5.7"/><circle cx="434.4" cy="370" r="5.7"/><circle cx="427" cy="342.2" r="5.7"/><circle cx="459.4" cy="345.1" r="5.7"/><circle cx="133.9" cy="352.9" r="5.7"/><circle cx="166.2" cy="349.9" r="5.7"/><circle cx="135.4" cy="348.2" r="5.7"/><circle cx="308.7" cy="344.9" r="5.7"/><circle cx="545.5" cy="358.3" r="5.7"/><circle cx="519.7" cy="340.8" r="5.7"/><circle cx="234.6" cy="346.9" r="5.7"/><circle cx="146.7" cy="345.1" r="5.7"/><circle cx="312.3" cy="353.1" r="5.7"/><circle cx="352.9" cy="339.2" r="5.7"/><circle cx="232.9" cy="354.9" r="5.7"/><circle cx="256.6" cy="339.5" r="5.7"/><circle cx="577.1" cy="332.7" r="5.7"/><circle cx="172" cy="345.1" r="5.7"/><circle cx="216.5" cy="349.9" r="5.7"/><circle cx="514.8" cy="338" r="5.7"/><circle cx="134.9" cy="360.7" r="5.7"/><circle cx="438.9" cy="354.6" r="5.7"/><circle cx="572.5" cy="363.4" r="5.7"/><circle cx="136" cy="342.6" r="5.7"/><circle cx="540" cy="340.1" r="5.7"/><circle cx="373.3" cy="354.9" r="5.7"/><circle cx="421.3" cy="340.5" r="5.7"/><circle cx="143.8" cy="354.4" r="5.7"/><circle cx="147.5" cy="345.6" r="5.7"/><circle cx="271.6" cy="348.4" r="5.7"/><circle cx="151.6" cy="345.9" r="5.7"/><circle cx="373.8" cy="337.9" r="5.7"/><circle cx="164.5" cy="350.4" r="5.7"/><circle cx="133.7" cy="346" r="5.7"/><circle cx="536.3" cy="354.1" r="5.7"/><circle cx="490.7" cy="347.9" r="5.7"/><circle cx="256.1" cy="354.5" r="5.7"/><circle cx="142.3" cy="336.6" r="5.7"/><circle cx="346.2" cy="358.6" r="5.7"/><circle cx="258.4" cy="360" r="5.7"/><circle cx="269.9" cy="338" r="5.7"/><circle cx="346.1" cy="347.7" r="5.7"/><circle cx="136.1" cy="346.7" r="5.7"/><circle cx="394.7" cy="356" r="5.7"/><circle cx="493.3" cy="353" r="5.7"/><circle cx="185.9" cy="355.7" r="5.7"/><circle cx="187.4" cy="348.8" r="5.7"/><circle cx="472.8" cy="354.1" r="5.7"/><circle cx="276.2" cy="347" r="5.7"/><circle cx="203.7" cy="348" r="5.7"/><circle cx="567.7" cy="353.9" r="5.7"/><circle cx="136.1" cy="341.4" r="5.7"/><circle cx="169" cy="359.2" r="5.7"/><circle cx="269.8" cy="352.9" r="5.7"/><circle cx="166.3" cy="345" r="5.7"/><circle cx="221.2" cy="327.8" r="5.7"/><circle cx="530.1" cy="353.2" r="5.7"/><circle cx="142.4" cy="355.9" r="5.7"/><circle cx="136.2" cy="333.8" r="5.7"/><circle cx="402.3" cy="357.9" r="5.7"/><circle cx="132.1" cy="328.6" r="5.7"/><circle cx="451.9" cy="354" r="5.7"/><circle cx="131.5" cy="347.5" r="5.7"/><circle cx="468.1" cy="356.9" r="5.7"/><circle cx="250.8" cy="352.4" r="5.7"/><circle cx="521.1" cy="349.2" r="5.7"/><circle cx="150.5" cy="340.5" r="5.7"/><circle cx="160.6" cy="349.7" r="5.7"/><circle cx="165" cy="364.8" r="5.7"/><circle cx="139.3" cy="341.5" r="5.7"/><circle cx="278.3" cy="345.3" r="5.7"/><circle cx="188.4" cy="348.2" r="5.7"/><circle cx="391.2" cy="340.1" r="5.7"/><circle cx="454.8" cy="356.4" r="5.7"/><circle cx="137.3" cy="354.3" r="5.7"/><circle cx="406" cy="362.9" r="5.7"/><circle cx="135.9" cy="344" r="5.7"/><circle cx="454.2" cy="359.8" r="5.7"/><circle cx="489.2" cy="337.3" r="5.7"/><circle cx="277.1" cy="332.8" r="5.7"/><circle cx="269.5" cy="349.6" r="5.7"/><circle cx="494.2" cy="352" r="5.7"/><circle cx="467.7" cy="346" r="5.7"/><circle cx="222.4" cy="347.2" r="5.7"/><circle cx="328.2" cy="344.4" r="5.7"/><circle cx="131.6" cy="360.7" r="5.7"/><circle cx="288" cy="352.6" r="5.7"/><circle cx="146.8" cy="354.9" r="5.7"/><circle cx="489.8" cy="366.8" r="5.7"/><circle cx="204.8" cy="353.5" r="5.7"/><circle cx="417.3" cy="359.6" r="5.7"/><circle cx="136.7" cy="336.6" r="5.7"/><circle cx="278" cy="366.7" r="5.7"/><circle cx="286.8" cy="361.9" r="5.7"/><circle cx="132.4" cy="353.5" r="5.7"/><circle cx="559.7" cy="350.6" r="5.7"/><circle cx="143.3" cy="346.1" r="5.7"/><circle cx="180.8" cy="350.6" r="5.7"/><circle cx="142.2" cy="353.4" r="5.7"/><circle cx="386.1" cy="350.9" r="5.7"/><circle cx="330.6" cy="349.9" r="5.7"/><circle cx="318.5" cy="364.6" r="5.7"/><circle cx="143.4" cy="353.4" r="5.7"/><circle cx="492.5" cy="352" r="5.7"/><circle cx="147.3" cy="354" r="5.7"/><circle cx="277.4" cy="358.4" r="5.7"/><circle cx="147.1" cy="351.5" r="5.7"/><circle cx="238.1" cy="344" r="5.7"/><circle cx="486.9" cy="342.8" r="5.7"/><circle cx="152.6" cy="364.2" r="5.7"/><circle cx="156.6" cy="357.7" r="5.7"/><circle cx="464.1" cy="343.6" r="5.7"/><circle cx="244.4" cy="354.7" r="5.7"/><circle cx="472.9" cy="359.9" r="5.7"/><circle cx="541.4" cy="352.8" r="5.7"/><circle cx="433" cy="354.8" r="5.7"/><circle cx="210" cy="346.1" r="5.7"/><circle cx="251" cy="336.1" r="5.7"/><circle cx="521.7" cy="353.3" r="5.7"/><circle cx="457" cy="349.8" r="5.7"/><circle cx="288.8" cy="353.8" r="5.7"/><circle cx="553" cy="345.5" r="5.7"/><circle cx="245.1" cy="354.1" r="5.7"/><circle cx="348.6" cy="358.4" r="5.7"/><circle cx="137.8" cy="343.5" r="5.7"/><circle cx="249.8" cy="353.2" r="5.7"/><circle cx="150.8" cy="351.5" r="5.7"/><circle cx="561.3" cy="348.1" r="5.7"/><circle cx="348.8" cy="371.3" r="5.7"/><circle cx="453.3" cy="338.2" r="5.7"/><circle cx="133.6" cy="363.3" r="5.7"/><circle cx="353.5" cy="352.7" r="5.7"/><circle cx="188.2" cy="338.6" r="5.7"/><circle cx="301.1" cy="340.8" r="5.7"/><circle cx="180.8" cy="356.9" r="5.7"/><circle cx="290.2" cy="370.7" r="5.7"/><circle cx="193" cy="343" r="5.7"/><circle cx="199.2" cy="354.1" r="5.7"/><circle cx="327.9" cy="354.9" r="5.7"/><circle cx="551.7" cy="358.2" r="5.7"/><circle cx="264.8" cy="352" r="5.7"/><circle cx="296.9" cy="348.8" r="5.7"/><circle cx="149" cy="347.9" r="5.7"/><circle cx="195" cy="357.3" r="5.7"/><circle cx="178.6" cy="347.5" r="5.7"/><circle cx="140.7" cy="367.1" r="5.7"/><circle cx="336.2" cy="356.2" r="5.7"/><circle cx="315.3" cy="354.8" r="5.7"/><circle cx="392.7" cy="356.1" r="5.7"/><circle cx="262.2" cy="362.7" r="5.7"/><circle cx="265.9" cy="355" r="5.7"/><circle cx="201" cy="351.2" r="5.7"/><circle cx="286.4" cy="345.4" r="5.7"/><circle cx="228.8" cy="352.6" r="5.7"/><circle cx="216.7" cy="352.1" r="5.7"/><circle cx="487.4" cy="350.7" r="5.7"/><circle cx="276.4" cy="340.6" r="5.7"/><circle cx="192" cy="344.3" r="5.7"/><circle cx="430" cy="352" r="5.7"/><circle cx="155.2" cy="335.6" r="5.7"/><circle cx="252.9" cy="344.4" r="5.7"/><circle cx="136.8" cy="358.5" r="5.7"/><circle cx="407.6" cy="345.5" r="5.7"/><circle cx="144.6" cy="348.1" r="5.7"/><circle cx="409.6" cy="330.1" r="5.7"/><circle cx="154.3" cy="355.6" r="5.7"/><circle cx="372.4" cy="344.6" r="5.7"/><circle cx="339.6" cy="342.1" r="5.7"/><circle cx="289" cy="364.3" r="5.7"/><circle cx="409.7" cy="352.1" r="5.7"/><circle cx="268.8" cy="365.9" r="5.7"/><circle cx="438" cy="356.3" r="5.7"/><circle cx="148.2" cy="369.8" r="5.7"/><circle cx="493.4" cy="336.9" r="5.7"/><circle cx="323.4" cy="351.1" r="5.7"/><circle cx="279.4" cy="340.6" r="5.7"/><circle cx="243.3" cy="354" r="5.7"/><circle cx="437.2" cy="343.3" r="5.7"/><circle cx="227.3" cy="359.8" r="5.7"/><circle cx="258.4" cy="364.7" r="5.7"/><circle cx="194.8" cy="347.9" r="5.7"/><circle cx="231.9" cy="359.4" r="5.7"/><circle cx="205.2" cy="354.3" r="5.7"/><circle cx="439.3" cy="345.6" r="5.7"/><circle cx="254.7" cy="359.6" r="5.7"/><circle cx="161.6" cy="353" r="5.7"/><circle cx="318" cy="346.9" r="5.7"/><circle cx="321.2" cy="335.1" r="5.7"/><circle cx="205.8" cy="341.4" r="5.7"/><circle cx="475.3" cy="340.1" r="5.7"/><circle cx="167.1" cy="369.8" r="5.7"/><circle cx="247" cy="350.4" r="5.7"/><circle cx="134.9" cy="352.1" r="5.7"/><circle cx="312.6" cy="370.7" r="5.7"/><circle cx="430.9" cy="351.1" r="5.7"/><circle cx="299.2" cy="341.1" r="5.7"/><circle cx="288.8" cy="351.6" r="5.7"/><circle cx="378.1" cy="357.6" r="5.7"/><circle cx="328.1" cy="346.3" r="5.7"/><circle cx="216.1" cy="339.3" r="5.7"/><circle cx="292.7" cy="355.6" r="5.7"/><circle cx="142.7" cy="357.6" r="5.7"/><circle cx="310.7" cy="345.3" r="5.7"/><circle cx="317.3" cy="335.4" r="5.7"/><circle cx="274.2" cy="366.6" r="5.7"/><circle cx="253" cy="371.7" r="5.7"/><circle cx="213.1" cy="371.6" r="5.7"/><circle cx="295.1" cy="349.3" r="5.7"/><circle cx="203.7" cy="356.2" r="5.7"/><circle cx="567.5" cy="346.7" r="5.7"/><circle cx="144.8" cy="360.6" r="5.7"/><circle cx="509.3" cy="357.3" r="5.7"/><circle cx="576" cy="366.2" r="5.7"/><circle cx="505" cy="355.8" r="5.7"/><circle cx="193.8" cy="349.1" r="5.7"/><circle cx="286" cy="357" r="5.7"/><circle cx="161.2" cy="351.6" r="5.7"/><circle cx="347.1" cy="357.8" r="5.7"/><circle cx="578.5" cy="356.3" r="5.7"/><circle cx="350.7" cy="343" r="5.7"/><circle cx="439.7" cy="349.1" r="5.7"/><circle cx="199.7" cy="351.7" r="5.7"/><circle cx="198.8" cy="352.2" r="5.7"/><circle cx="474.5" cy="362.3" r="5.7"/><circle cx="165" cy="358" r="5.7"/><circle cx="279.4" cy="357.8" r="5.7"/><circle cx="356.4" cy="353.7" r="5.7"/><circle cx="295.7" cy="340.3" r="5.7"/><circle cx="240.4" cy="351.7" r="5.7"/><circle cx="147" cy="343.5" r="5.7"/><circle cx="144.1" cy="339.4" r="5.7"/><circle cx="142.9" cy="346.5" r="5.7"/><circle cx="462.2" cy="342.3" r="5.7"/><circle cx="337.9" cy="350.4" r="5.7"/><circle cx="131.9" cy="354.3" r="5.7"/><circle cx="429.1" cy="357.4" r="5.7"/><circle cx="217.2" cy="339.3" r="5.7"/><circle cx="157.9" cy="351.9" r="5.7"/><circle cx="515.6" cy="347.6" r="5.7"/><circle cx="321.5" cy="356.9" r="5.7"/><circle cx="229.8" cy="343.8" r="5.7"/><circle cx="135.8" cy="342.7" r="5.7"/><circle cx="554.2" cy="358.6" r="5.7"/><circle cx="252.7" cy="356.2" r="5.7"/><circle cx="134.5" cy="355.9" r="5.7"/><circle cx="534.1" cy="346.9" r="5.7"/><circle cx="512.2" cy="357.3" r="5.7"/><circle cx="457.6" cy="355.3" r="5.7"/><circle cx="554.5" cy="340.5" r="5.7"/><circle cx="278.3" cy="345.4" r="5.7"/><circle cx="231.5" cy="353.4" r="5.7"/><circle cx="397.5" cy="350.1" r="5.7"/><circle cx="496.4" cy="344.2" r="5.7"/><circle cx="273.1" cy="349.8" r="5.7"/><circle cx="158.9" cy="357.6" r="5.7"/><circle cx="218.9" cy="342.6" r="5.7"/><circle cx="194" cy="330.4" r="5.7"/><circle cx="310.8" cy="343.5" r="5.7"/><circle cx="229.8" cy="344.5" r="5.7"/><circle cx="237.1" cy="347.4" r="5.7"/><circle cx="463.9" cy="349.7" r="5.7"/><circle cx="216.2" cy="351.3" r="5.7"/><circle cx="191.6" cy="345.9" r="5.7"/><circle cx="176.7" cy="339.1" r="5.7"/><circle cx="212.4" cy="348.7" r="5.7"/><circle cx="154.6" cy="352.5" r="5.7"/><circle cx="187" cy="355.1" r="5.7"/><circle cx="469.9" cy="345" r="5.7"/><circle cx="470.7" cy="344.8" r="5.7"/><circle cx="450.6" cy="347.1" r="5.7"/><circle cx="399.9" cy="344.7" r="5.7"/><circle cx="226.3" cy="345.8" r="5.7"/><circle cx="548.1" cy="353" r="5.7"/><circle cx="282.8" cy="350.1" r="5.7"/><circle cx="149" cy="342.2" r="5.7"/><circle cx="390.5" cy="352.7" r="5.7"/><circle cx="324.3" cy="333.1" r="5.7"/><circle cx="222.7" cy="351.2" r="5.7"/><circle cx="169.4" cy="339.7" r="5.7"/><circle cx="494.4" cy="344.1" r="5.7"/><circle cx="301.3" cy="344.3" r="5.7"/><circle cx="187.2" cy="350.3" r="5.7"/><circle cx="362.4" cy="359.8" r="5.7"/><circle cx="314" cy="354.6" r="5.7"/><circle cx="140.4" cy="343.6" r="5.7"/><circle cx="159.8" cy="347" r="5.7"/><circle cx="365.3" cy="357.5" r="5.7"/><circle cx="144.5" cy="359" r="5.7"/><circle cx="280.6" cy="354.5" r="5.7"/><circle cx="196.2" cy="344.7" r="5.7"/><circle cx="173.4" cy="348.5" r="5.7"/><circle cx="147.9" cy="352.9" r="5.7"/><circle cx="237.1" cy="358.3" r="5.7"/><circle cx="519" cy="348.7" r="5.7"/><circle cx="487.1" cy="369" r="5.7"/><circle cx="149.2" cy="351.8" r="5.7"/><circle cx="374.9" cy="349.4" r="5.7"/><circle cx="365.8" cy="356.7" r="5.7"/><circle cx="363.2" cy="344.4" r="5.7"/><circle cx="386.2" cy="351.3" r="5.7"/><circle cx="216.5" cy="334.9" r="5.7"/><circle cx="346.4" cy="349.7" r="5.7"/><circle cx="521.6" cy="347.6" r="5.7"/><circle cx="406.8" cy="352" r="5.7"/><circle cx="134.1" cy="353.8" r="5.7"/><circle cx="156" cy="349.1" r="5.7"/><circle cx="227.8" cy="344.6" r="5.7"/><circle cx="134" cy="356" r="5.7"/><circle cx="160.5" cy="340.1" r="5.7"/><circle cx="472.8" cy="363.7" r="5.7"/><circle cx="182.1" cy="357.3" r="5.7"/><circle cx="250.7" cy="354.6" r="5.7"/><circle cx="131.5" cy="358.7" r="5.7"/><circle cx="469.4" cy="350.3" r="5.7"/><circle cx="134.4" cy="358.4" r="5.7"/><circle cx="482.4" cy="353.5" r="5.7"/><circle cx="178.9" cy="353.1" r="5.7"/><circle cx="144.9" cy="349.9" r="5.7"/><circle cx="522.8" cy="357.1" r="5.7"/><circle cx="416.2" cy="340.2" r="5.7"/><circle cx="233.1" cy="344.7" r="5.7"/><circle cx="415" cy="348.2" r="5.7"/><circle cx="141.1" cy="357.6" r="5.7"/><circle cx="544.9" cy="369" r="5.7"/><circle cx="381.8" cy="342.4" r="5.7"/><circle cx="409.6" cy="345.7" r="5.7"/><circle cx="258.6" cy="362" r="5.7"/><circle cx="135.8" cy="354.3" r="5.7"/><circle cx="286.2" cy="360" r="5.7"/><circle cx="532.2" cy="341.4" r="5.7"/><circle cx="134.5" cy="341" r="5.7"/><circle cx="388.3" cy="349.2" r="5.7"/><circle cx="303.2" cy="357.7" r="5.7"/><circle cx="561.1" cy="358.4" r="5.7"/><circle cx="180.5" cy="359.6" r="5.7"/><circle cx="136.4" cy="357" r="5.7"/><circle cx="166.3" cy="344.6" r="5.7"/><circle cx="201" cy="342.7" r="5.7"/><circle cx="369.6" cy="341.3" r="5.7"/><circle cx="176.9" cy="350.9" r="5.7"/><circle cx="255.1" cy="341.2" r="5.7"/><circle cx="537.6" cy="355.7" r="5.7"/><circle cx="502.6" cy="345.7" r="5.7"/><circle cx="151.4" cy="358.6" r="5.7"/><circle cx="457.2" cy="354.4" r="5.7"/><circle cx="304.1" cy="351.1" r="5.7"/><circle cx="367.4" cy="356.7" r="5.7"/><circle cx="330.2" cy="365.6" r="5.7"/><circle cx="467.4" cy="347.9" r="5.7"/><circle cx="145.6" cy="353.4" r="5.7"/><circle cx="167.7" cy="343.6" r="5.7"/><circle cx="136.6" cy="352.5" r="5.7"/><circle cx="387.6" cy="345.9" r="5.7"/><circle cx="256.5" cy="345.7" r="5.7"/><circle cx="265.8" cy="346.5" r="5.7"/><circle cx="220.7" cy="349.8" r="5.7"/><circle cx="131.8" cy="348.6" r="5.7"/><circle cx="577.4" cy="351.4" r="5.7"/><circle cx="396.7" cy="355" r="5.7"/><circle cx="568.8" cy="355.2" r="5.7"/><circle cx="275.2" cy="353.1" r="5.7"/><circle cx="250.4" cy="347.5" r="5.7"/><circle cx="131.7" cy="341.5" r="5.7"/><circle cx="526.3" cy="358.9" r="5.7"/><circle cx="537.2" cy="360.9" r="5.7"/><circle cx="359.6" cy="351.5" r="5.7"/><circle cx="150.6" cy="345" r="5.7"/><circle cx="133" cy="348.9" r="5.7"/><circle cx="196" cy="367.6" r="5.7"/><circle cx="162" cy="362.1" r="5.7"/><circle cx="531.2" cy="364.1" r="5.7"/><circle cx="157.6" cy="348" r="5.7"/><circle cx="411.8" cy="367.2" r="5.7"/><circle cx="206.9" cy="345.1" r="5.7"/><circle cx="204.5" cy="336.8" r="5.7"/><circle cx="222.9" cy="359.2" r="5.7"/><circle cx="467.5" cy="354" r="5.7"/><circle cx="177.3" cy="340.8" r="5.7"/><circle cx="346.1" cy="348.6" r="5.7"/><circle cx="460" cy="356.6" r="5.7"/><circle cx="543.9" cy="369.3" r="5.7"/><circle cx="277.8" cy="356.5" r="5.7"/><circle cx="197.1" cy="351.4" r="5.7"/><circle cx="321" cy="340" r="5.7"/><circle cx="156.4" cy="345.1" r="5.7"/><circle cx="254.3" cy="347.8" r="5.7"/><circle cx="134.1" cy="352.2" r="5.7"/><circle cx="252.7" cy="346.5" r="5.7"/><circle cx="131.5" cy="338.7" r="5.7"/><circle cx="473.6" cy="342.2" r="5.7"/><circle cx="246.5" cy="363.3" r="5.7"/><circle cx="191.5" cy="356.9" r="5.7"/><circle cx="244.7" cy="360.2" r="5.7"/><circle cx="211.4" cy="363.2" r="5.7"/><circle cx="464.1" cy="346.7" r="5.7"/><circle cx="515.7" cy="347.8" r="5.7"/><circle cx="254.3" cy="345.3" r="5.7"/><circle cx="311.8" cy="354.7" r="5.7"/><circle cx="140.3" cy="346.8" r="5.7"/><circle cx="205.8" cy="372.8" r="5.7"/><circle cx="518.9" cy="345.8" r="5.7"/><circle cx="489.8" cy="329.9" r="5.7"/><circle cx="341.6" cy="355" r="5.7"/><circle cx="454.5" cy="339.5" r="5.7"/><circle cx="335.8" cy="346.7" r="5.7"/><circle cx="196.2" cy="370.5" r="5.7"/><circle cx="271.4" cy="360.6" r="5.7"/><circle cx="356.7" cy="353.8" r="5.7"/><circle cx="502.9" cy="344" r="5.7"/><circle cx="133" cy="346.6" r="5.7"/><circle cx="256.2" cy="339.5" r="5.7"/><circle cx="140.3" cy="355.9" r="5.7"/><circle cx="320.8" cy="358.4" r="5.7"/><circle cx="242.6" cy="362.3" r="5.7"/><circle cx="234.2" cy="353.5" r="5.7"/><circle cx="145.5" cy="343.8" r="5.7"/><circle cx="304" cy="335.2" r="5.7"/><circle cx="145.1" cy="347.2" r="5.7"/><circle cx="141.9" cy="356.4" r="5.7"/><circle cx="295.4" cy="351.5" r="5.7"/><circle cx="307" cy="341.5" r="5.7"/><circle cx="173.5" cy="355.2" r="5.7"/><circle cx="286.8" cy="353.3" r="5.7"/><circle cx="324.8" cy="343.8" r="5.7"/><circle cx="138.4" cy="347.2" r="5.7"/><circle cx="252.7" cy="344.4" r="5.7"/><circle cx="395.2" cy="359.6" r="5.7"/><circle cx="420.7" cy="331.8" r="5.7"/><circle cx="399.4" cy="334.2" r="5.7"/><circle cx="143.2" cy="347.3" r="5.7"/><circle cx="158.3" cy="358.9" r="5.7"/><circle cx="554.5" cy="365.1" r="5.7"/><circle cx="150.2" cy="357.2" r="5.7"/><circle cx="432.5" cy="345.6" r="5.7"/><circle cx="224.4" cy="349.2" r="5.7"/><circle cx="132.1" cy="356.4" r="5.7"/><circle cx="197.3" cy="354.8" r="5.7"/><circle cx="391" cy="367.5" r="5.7"/><circle cx="342.3" cy="343.4" r="5.7"/><circle cx="494.2" cy="369.1" r="5.7"/><circle cx="493.4" cy="358.8" r="5.7"/><circle cx="157.5" cy="351.7" r="5.7"/><circle cx="424.8" cy="359.3" r="5.7"/><circle cx="375.4" cy="349.4" r="5.7"/><circle cx="224.7" cy="355.3" r="5.7"/><circle cx="408.7" cy="338.5" r="5.7"/><circle cx="134.5" cy="355.8" r="5.7"/><circle cx="332.9" cy="342.7" r="5.7"/><circle cx="449.4" cy="345.1" r="5.7"/><circle cx="145.3" cy="340" r="5.7"/><circle cx="182.1" cy="357.3" r="5.7"/><circle cx="164" cy="366.9" r="5.7"/><circle cx="321.1" cy="346.1" r="5.7"/><circle cx="145.4" cy="347.3" r="5.7"/><circle cx="447.9" cy="350.9" r="5.7"/><circle cx="161.9" cy="358.1" r="5.7"/><circle cx="379.2" cy="353.8" r="5.7"/><circle cx="227.8" cy="340.7" r="5.7"/><circle cx="299.2" cy="337.7" r="5.7"/><circle cx="380.6" cy="344" r="5.7"/><circle cx="132" cy="370.9" r="5.7"/><circle cx="212.8" cy="345.6" r="5.7"/><circle cx="494.9" cy="343.2" r="5.7"/><circle cx="447.7" cy="346.2" r="5.7"/><circle cx="459.1" cy="350.3" r="5.7"/><circle cx="374.8" cy="359" r="5.7"/><circle cx="155.1" cy="345.4" r="5.7"/><circle cx="476.4" cy="365.1" r="5.7"/><circle cx="336.7" cy="340.7" r="5.7"/><circle cx="138.8" cy="354.3" r="5.7"/><circle cx="508.9" cy="346.2" r="5.7"/><circle cx="325.2" cy="346.4" r="5.7"/><circle cx="219.9" cy="350" r="5.7"/><circle cx="265.4" cy="359" r="5.7"/><circle cx="217.1" cy="355.4" r="5.7"/><circle cx="131.6" cy="358.2" r="5.7"/><circle cx="132.4" cy="355.1" r="5.7"/><circle cx="261.6" cy="348.9" r="5.7"/><circle cx="152.2" cy="351.7" r="5.7"/><circle cx="370" cy="352.4" r="5.7"/><circle cx="280.4" cy="344.7" r="5.7"/><circle cx="184.5" cy="361" r="5.7"/><circle cx="552.3" cy="355.9" r="5.7"/><circle cx="577.4" cy="340.7" r="5.7"/><circle cx="429.3" cy="349.1" r="5.7"/><circle cx="494.4" cy="349.6" r="5.7"/><circle cx="349.6" cy="363.4" r="5.7"/><circle cx="220.7" cy="354.5" r="5.7"/><circle cx="494.7" cy="336.5" r="5.7"/><circle cx="539.5" cy="354.5" r="5.7"/><circle cx="424.6" cy="358.1" r="5.7"/><circle cx="410.1" cy="363.6" r="5.7"/><circle cx="215.8" cy="352.1" r="5.7"/><circle cx="305.4" cy="354" r="5.7"/><circle cx="210.8" cy="349.8" r="5.7"/><circle cx="205.6" cy="341.7" r="5.7"/><circle cx="222.4" cy="352.2" r="5.7"/><circle cx="178.6" cy="350.7" r="5.7"/><circle cx="150" cy="343.6" r="5.7"/><circle cx="131.7" cy="345" r="5.7"/><circle cx="255.3" cy="358.3" r="5.7"/><circle cx="314.5" cy="353.1" r="5.7"/><circle cx="137.4" cy="346.5" r="5.7"/><circle cx="197.8" cy="356.4" r="5.7"/><circle cx="305.6" cy="338.6" r="5.7"/><circle cx="538.7" cy="361.8" r="5.7"/><circle cx="322.1" cy="335.2" r="5.7"/><circle cx="139.4" cy="346.6" r="5.7"/><circle cx="574" cy="341.3" r="5.7"/><circle cx="218.4" cy="350.1" r="5.7"/><circle cx="491.7" cy="360.4" r="5.7"/><circle cx="137.6" cy="369.7" r="5.7"/><circle cx="189" cy="349.7" r="5.7"/><circle cx="183" cy="346.4" r="5.7"/><circle cx="186.4" cy="350.7" r="5.7"/><circle cx="389.2" cy="349.7" r="5.7"/><circle cx="166" cy="343" r="5.7"/><circle cx="332.4" cy="343.3" r="5.7"/><circle cx="165" cy="360.8" r="5.7"/><circle cx="406.7" cy="340.2" r="5.7"/><circle cx="139.3" cy="354.1" r="5.7"/><circle cx="453.5" cy="345.9" r="5.7"/><circle cx="150.2" cy="357" r="5.7"/><circle cx="162.7" cy="368.4" r="5.7"/><circle cx="352.5" cy="355.5" r="5.7"/><circle cx="528.6" cy="349.7" r="5.7"/><circle cx="416" cy="344.1" r="5.7"/><circle cx="357.5" cy="362.1" r="5.7"/><circle cx="211" cy="344.2" r="5.7"/><circle cx="136.2" cy="353.7" r="5.7"/><circle cx="345.1" cy="350.1" r="5.7"/><circle cx="147.6" cy="353.8" r="5.7"/><circle cx="158" cy="369.7" r="5.7"/><circle cx="136.7" cy="310" r="5.7"/><circle cx="133.6" cy="355.9" r="5.7"/><circle cx="141.2" cy="352.7" r="5.7"/><circle cx="133.3" cy="344" r="5.7"/><circle cx="138" cy="373" r="5.7"/><circle cx="142.5" cy="373.4" r="5.7"/><circle cx="133.8" cy="333.7" r="5.7"/><circle cx="143.5" cy="363.1" r="5.7"/><circle cx="165.3" cy="356.4" r="5.7"/><circle cx="140.7" cy="349.6" r="5.7"/><circle cx="150.8" cy="342.3" r="5.7"/><circle cx="146.1" cy="369.7" r="5.7"/><circle cx="142.9" cy="338.6" r="5.7"/><circle cx="174.2" cy="367.8" r="5.7"/><circle cx="142.5" cy="361.7" r="5.7"/><circle cx="201.4" cy="369" r="5.7"/><circle cx="192" cy="373.8" r="5.7"/><circle cx="141.4" cy="377.2" r="5.7"/><circle cx="169" cy="338.8" r="5.7"/><circle cx="138.2" cy="365.7" r="5.7"/><circle cx="150.8" cy="340.7" r="5.7"/><circle cx="133.8" cy="375" r="5.7"/><circle cx="146" cy="375.8" r="5.7"/><circle cx="135" cy="359.3" r="5.7"/><circle cx="147.7" cy="304.5" r="5.7"/><circle cx="138.1" cy="365.6" r="5.7"/><circle cx="142" cy="342.7" r="5.7"/><circle cx="145.4" cy="311.3" r="5.7"/><circle cx="135.9" cy="338.3" r="5.7"/><circle cx="137.9" cy="370.2" r="5.7"/><circle cx="162.1" cy="351.2" r="5.7"/><circle cx="135.9" cy="366.5" r="5.7"/><circle cx="141.4" cy="367.3" r="5.7"/><circle cx="159.2" cy="316.7" r="5.7"/><circle cx="164.6" cy="375.7" r="5.7"/><circle cx="158.3" cy="350.5" r="5.7"/><circle cx="173.7" cy="375.8" r="5.7"/><circle cx="161.8" cy="355.9" r="5.7"/><circle cx="180.4" cy="302.1" r="5.7"/><circle cx="163" cy="351.8" r="5.7"/><circle cx="135.8" cy="369.5" r="5.7"/><circle cx="151.6" cy="362.7" r="5.7"/><circle cx="134.6" cy="340.4" r="5.7"/><circle cx="149.5" cy="350.7" r="5.7"/><circle cx="156.9" cy="371.1" r="5.7"/><circle cx="210" cy="355.5" r="5.7"/><circle cx="160.5" cy="324.6" r="5.7"/><circle cx="174.5" cy="369.3" r="5.7"/><circle cx="133.1" cy="368.8" r="5.7"/><circle cx="179.5" cy="367" r="5.7"/><circle cx="185.5" cy="372.8" r="5.7"/><circle cx="137.5" cy="347.6" r="5.7"/><circle cx="155.3" cy="354.9" r="5.7"/><circle cx="148.6" cy="321.7" r="5.7"/><circle cx="145.7" cy="365.8" r="5.7"/><circle cx="183.3" cy="338.1" r="5.7"/><circle cx="143.1" cy="325.6" r="5.7"/><circle cx="144.8" cy="240.7" r="5.7"/><circle cx="134.3" cy="374.4" r="5.7"/><circle cx="138" cy="282.3" r="5.7"/><circle cx="188.1" cy="373.2" r="5.7"/><circle cx="135.9" cy="342.8" r="5.7"/><circle cx="145.2" cy="347.6" r="5.7"/><circle cx="141.5" cy="375" r="5.7"/><circle cx="162.8" cy="344.7" r="5.7"/><circle cx="180.4" cy="321.9" r="5.7"/><circle cx="139.1" cy="370.5" r="5.7"/><circle cx="133.5" cy="336.6" r="5.7"/><circle cx="135.2" cy="359.2" r="5.7"/><circle cx="139.2" cy="370.6" r="5.7"/><circle cx="143.4" cy="376.9" r="5.7"/><circle cx="137.7" cy="255.7" r="5.7"/><circle cx="153.7" cy="374.1" r="5.7"/><circle cx="180" cy="360.1" r="5.7"/><circle cx="150.2" cy="372.3" r="5.7"/><circle cx="152.7" cy="347.4" r="5.7"/><circle cx="157.3" cy="359.4" r="5.7"/><circle cx="165.7" cy="374.3" r="5.7"/><circle cx="150.5" cy="312.2" r="5.7"/><circle cx="156.1" cy="366.3" r="5.7"/><circle cx="147" cy="321.7" r="5.7"/><circle cx="197.1" cy="343.3" r="5.7"/><circle cx="134.9" cy="369.4" r="5.7"/><circle cx="148.2" cy="375.6" r="5.7"/><circle cx="161.6" cy="363.8" r="5.7"/><circle cx="140.7" cy="356.3" r="5.7"/><circle cx="135" cy="347.2" r="5.7"/><circle cx="135.4" cy="349.9" r="5.7"/><circle cx="163.2" cy="347" r="5.7"/><circle cx="141.3" cy="272.5" r="5.7"/><circle cx="160.8" cy="364.2" r="5.7"/><circle cx="161.2" cy="367.5" r="5.7"/><circle cx="191.8" cy="364.7" r="5.7"/><circle cx="165.6" cy="364.8" r="5.7"/><circle cx="140.2" cy="377.3" r="5.7"/><circle cx="177.5" cy="369.8" r="5.7"/><circle cx="168.7" cy="352.9" r="5.7"/><circle cx="146" cy="371.7" r="5.7"/><circle cx="145.7" cy="374.2" r="5.7"/><circle cx="157" cy="315.3" r="5.7"/><circle cx="169.5" cy="376.1" r="5.7"/><circle cx="140.3" cy="350.4" r="5.7"/><circle cx="153.6" cy="356.7" r="5.7"/><circle cx="159.6" cy="377.4" r="5.7"/><circle cx="194.3" cy="341.8" r="5.7"/><circle cx="150.9" cy="354.1" r="5.7"/><circle cx="156.6" cy="241.1" r="5.7"/><circle cx="136.1" cy="342.1" r="5.7"/><circle cx="168" cy="365.1" r="5.7"/><circle cx="138.6" cy="358" r="5.7"/><circle cx="157.2" cy="352.8" r="5.7"/><circle cx="142.5" cy="351.7" r="5.7"/><circle cx="152.6" cy="357.1" r="5.7"/><circle cx="138.5" cy="369.4" r="5.7"/><circle cx="166.9" cy="315.2" r="5.7"/><circle cx="172.4" cy="358.3" r="5.7"/><circle cx="139.4" cy="360.6" r="5.7"/><circle cx="135.2" cy="309.3" r="5.7"/><circle cx="146.4" cy="357.9" r="5.7"/><circle cx="163.2" cy="333.8" r="5.7"/><circle cx="137.3" cy="370.3" r="5.7"/><circle cx="154.6" cy="361.4" r="5.7"/><circle cx="174" cy="350.9" r="5.7"/><circle cx="157.6" cy="324.9" r="5.7"/><circle cx="179.9" cy="376.3" r="5.7"/><circle cx="167.6" cy="333.2" r="5.7"/><circle cx="165" cy="374" r="5.7"/><circle cx="143.5" cy="374.6" r="5.7"/><circle cx="148.4" cy="366" r="5.7"/><circle cx="142.7" cy="361.8" r="5.7"/><circle cx="161.6" cy="375" r="5.7"/><circle cx="200.7" cy="346.6" r="5.7"/><circle cx="185" cy="361.9" r="5.7"/><circle cx="177.3" cy="340.5" r="5.7"/><circle cx="138.8" cy="373.2" r="5.7"/><circle cx="142.9" cy="358.3" r="5.7"/><circle cx="154.5" cy="370.4" r="5.7"/><circle cx="148.5" cy="365" r="5.7"/><circle cx="149.3" cy="377" r="5.7"/><circle cx="142.6" cy="375.9" r="5.7"/><circle cx="163.9" cy="372.3" r="5.7"/><circle cx="136.7" cy="367.3" r="5.7"/><circle cx="152.4" cy="370.2" r="5.7"/><circle cx="138.2" cy="351.2" r="5.7"/><circle cx="142.2" cy="326.6" r="5.7"/><circle cx="140.6" cy="336.6" r="5.7"/><circle cx="157.9" cy="352.4" r="5.7"/><circle cx="137.9" cy="362.2" r="5.7"/><circle cx="138.1" cy="365.5" r="5.7"/><circle cx="137.6" cy="363.8" r="5.7"/><circle cx="153.2" cy="350.3" r="5.7"/><circle cx="141.4" cy="364.8" r="5.7"/><circle cx="154.5" cy="355" r="5.7"/><circle cx="147.3" cy="285.1" r="5.7"/><circle cx="140.1" cy="345.1" r="5.7"/><circle cx="158.6" cy="367" r="5.7"/><circle cx="159.5" cy="375.5" r="5.7"/><circle cx="133.6" cy="358" r="5.7"/><circle cx="157.3" cy="359.6" r="5.7"/><circle cx="167.2" cy="376.8" r="5.7"/><circle cx="157.3" cy="354.1" r="5.7"/><circle cx="160" cy="329.9" r="5.7"/><circle cx="139.2" cy="363.5" r="5.7"/><circle cx="184.9" cy="362.4" r="5.7"/><circle cx="141.4" cy="359.9" r="5.7"/><circle cx="179.6" cy="348.6" r="5.7"/><circle cx="136.1" cy="342.4" r="5.7"/><circle cx="138.6" cy="347.8" r="5.7"/><circle cx="136.8" cy="356.5" r="5.7"/><circle cx="137.9" cy="374.2" r="5.7"/><circle cx="175.5" cy="371" r="5.7"/><circle cx="173.8" cy="374.6" r="5.7"/><circle cx="154.3" cy="375" r="5.7"/><circle cx="133.3" cy="376" r="5.7"/><circle cx="165.1" cy="347.8" r="5.7"/><circle cx="139.7" cy="376" r="5.7"/><circle cx="160.7" cy="346.9" r="5.7"/><circle cx="149.1" cy="333.3" r="5.7"/><circle cx="142.4" cy="366.9" r="5.7"/><circle cx="142.8" cy="358.5" r="5.7"/><circle cx="208.1" cy="369.1" r="5.7"/><circle cx="135.5" cy="369.5" r="5.7"/><circle cx="140.1" cy="326.6" r="5.7"/><circle cx="150.5" cy="356.4" r="5.7"/><circle cx="158.9" cy="376.1" r="5.7"/><circle cx="134.5" cy="368" r="5.7"/><circle cx="163" cy="327" r="5.7"/><circle cx="166.3" cy="369.7" r="5.7"/><circle cx="135.1" cy="357.4" r="5.7"/><circle cx="140.5" cy="365.3" r="5.7"/><circle cx="161.1" cy="354.7" r="5.7"/><circle cx="139.2" cy="365.6" r="5.7"/><circle cx="138" cy="312" r="5.7"/><circle cx="148.6" cy="356.3" r="5.7"/><circle cx="153.4" cy="357.6" r="5.7"/><circle cx="139.6" cy="363.8" r="5.7"/><circle cx="153.1" cy="369.1" r="5.7"/><circle cx="141.5" cy="336.1" r="5.7"/><circle cx="142.9" cy="335.3" r="5.7"/><circle cx="171" cy="354.1" r="5.7"/><circle cx="189.2" cy="362.1" r="5.7"/><circle cx="149.2" cy="322.8" r="5.7"/><circle cx="157.8" cy="350.9" r="5.7"/><circle cx="142.2" cy="376.1" r="5.7"/><circle cx="139" cy="353.9" r="5.7"/><circle cx="140" cy="372.3" r="5.7"/><circle cx="161.2" cy="335.5" r="5.7"/><circle cx="147.8" cy="359.5" r="5.7"/><circle cx="150" cy="368.4" r="5.7"/><circle cx="166.2" cy="371.3" r="5.7"/><circle cx="140.1" cy="312.5" r="5.7"/><circle cx="144.7" cy="371.4" r="5.7"/><circle cx="141.7" cy="337.6" r="5.7"/><circle cx="139.3" cy="299.2" r="5.7"/><circle cx="164.4" cy="369.7" r="5.7"/><circle cx="151.5" cy="316" r="5.7"/><circle cx="138.4" cy="375.9" r="5.7"/><circle cx="146.1" cy="346.5" r="5.7"/><circle cx="179" cy="368.4" r="5.7"/><circle cx="145.1" cy="370.5" r="5.7"/><circle cx="151.9" cy="356.1" r="5.7"/><circle cx="143.5" cy="373.1" r="5.7"/><circle cx="151.6" cy="329.6" r="5.7"/><circle cx="144.4" cy="373.1" r="5.7"/><circle cx="154.2" cy="364.5" r="5.7"/><circle cx="199.8" cy="376.6" r="5.7"/><circle cx="158.9" cy="370.9" r="5.7"/><circle cx="157.3" cy="356.9" r="5.7"/><circle cx="156.1" cy="343.6" r="5.7"/><circle cx="148.3" cy="362.8" r="5.7"/><circle cx="138" cy="331.6" r="5.7"/><circle cx="143.9" cy="374" r="5.7"/><circle cx="207.1" cy="304.6" r="5.7"/><circle cx="171.6" cy="358" r="5.7"/><circle cx="138.6" cy="341.4" r="5.7"/><circle cx="155.2" cy="359.6" r="5.7"/><circle cx="142.7" cy="360.2" r="5.7"/><circle cx="137.4" cy="325.6" r="5.7"/><circle cx="158.3" cy="375" r="5.7"/><circle cx="150.8" cy="373.5" r="5.7"/><circle cx="139.7" cy="328.9" r="5.7"/><circle cx="185.5" cy="370.7" r="5.7"/><circle cx="138.4" cy="353.7" r="5.7"/><circle cx="135.6" cy="288.5" r="5.7"/><circle cx="166.5" cy="349.7" r="5.7"/><circle cx="182.9" cy="376.1" r="5.7"/><circle cx="146.4" cy="370" r="5.7"/><circle cx="156.5" cy="342.2" r="5.7"/><circle cx="151.8" cy="368.2" r="5.7"/><circle cx="172.7" cy="375.6" r="5.7"/><circle cx="143.2" cy="356.6" r="5.7"/><circle cx="136.8" cy="337.1" r="5.7"/><circle cx="155.8" cy="376.5" r="5.7"/><circle cx="148.5" cy="358.7" r="5.7"/><circle cx="162.4" cy="373.8" r="5.7"/><circle cx="153.5" cy="355" r="5.7"/><circle cx="147.4" cy="349.2" r="5.7"/><circle cx="152.1" cy="372.8" r="5.7"/><circle cx="161.7" cy="367" r="5.7"/><circle cx="185.2" cy="329.4" r="5.7"/><circle cx="152.8" cy="373.2" r="5.7"/><circle cx="153.2" cy="374.9" r="5.7"/><circle cx="141.8" cy="359.6" r="5.7"/><circle cx="141.3" cy="357.5" r="5.7"/><circle cx="153.6" cy="372.8" r="5.7"/><circle cx="151.7" cy="357.5" r="5.7"/><circle cx="156.7" cy="371.7" r="5.7"/><circle cx="133.7" cy="364" r="5.7"/><circle cx="136.4" cy="370.3" r="5.7"/><circle cx="145.2" cy="324.1" r="5.7"/><circle cx="185.7" cy="377" r="5.7"/><circle cx="133.2" cy="302.9" r="5.7"/><circle cx="177.1" cy="355.5" r="5.7"/><circle cx="135.9" cy="347.1" r="5.7"/><circle cx="138.1" cy="373.1" r="5.7"/><circle cx="174.3" cy="369.5" r="5.7"/><circle cx="157.4" cy="358.5" r="5.7"/><circle cx="137.5" cy="368.5" r="5.7"/><circle cx="140.8" cy="355" r="5.7"/><circle cx="139.4" cy="370.5" r="5.7"/><circle cx="169.1" cy="345.2" r="5.7"/><circle cx="157.5" cy="375.8" r="5.7"/><circle cx="133.6" cy="271.7" r="5.7"/><circle cx="166.7" cy="376.3" r="5.7"/><circle cx="161.1" cy="333.6" r="5.7"/><circle cx="158.8" cy="366.6" r="5.7"/><circle cx="143.1" cy="311.5" r="5.7"/><circle cx="158.7" cy="377.1" r="5.7"/><circle cx="156.8" cy="363.8" r="5.7"/><circle cx="142.2" cy="375" r="5.7"/><circle cx="134" cy="347.9" r="5.7"/><circle cx="173.6" cy="373.2" r="5.7"/><circle cx="140.4" cy="371.7" r="5.7"/><circle cx="144.1" cy="371" r="5.7"/><circle cx="166.2" cy="223.9" r="5.7"/><circle cx="192.8" cy="336.7" r="5.7"/><circle cx="162" cy="338.2" r="5.7"/><circle cx="136.4" cy="315.4" r="5.7"/><circle cx="133" cy="371.7" r="5.7"/><circle cx="168.5" cy="351.9" r="5.7"/><circle cx="157.7" cy="374.9" r="5.7"/><circle cx="169.2" cy="344.6" r="5.7"/><circle cx="141.4" cy="289.8" r="5.7"/><circle cx="144.8" cy="348.4" r="5.7"/><circle cx="133" cy="331.6" r="5.7"/><circle cx="146.2" cy="305.6" r="5.7"/><circle cx="167.1" cy="331" r="5.7"/><circle cx="156.1" cy="335.3" r="5.7"/><circle cx="155.4" cy="332.1" r="5.7"/><circle cx="147.1" cy="337.6" r="5.7"/><circle cx="147.3" cy="293.2" r="5.7"/><circle cx="148.1" cy="357.7" r="5.7"/><circle cx="144.4" cy="287.6" r="5.7"/><circle cx="136.8" cy="337.2" r="5.7"/><circle cx="133.3" cy="370.6" r="5.7"/><circle cx="180.8" cy="371.7" r="5.7"/><circle cx="150.5" cy="359.8" r="5.7"/><circle cx="137.5" cy="315.4" r="5.7"/><circle cx="148.3" cy="364.5" r="5.7"/><circle cx="169.1" cy="337.6" r="5.7"/><circle cx="143" cy="303.6" r="5.7"/><circle cx="169.4" cy="332" r="5.7"/><circle cx="141.6" cy="350" r="5.7"/><circle cx="138.6" cy="330.4" r="5.7"/><circle cx="150.7" cy="330.4" r="5.7"/><circle cx="161.3" cy="336.5" r="5.7"/><circle cx="161.9" cy="377" r="5.7"/><circle cx="133.5" cy="374.4" r="5.7"/><circle cx="142.7" cy="353.3" r="5.7"/><circle cx="156.9" cy="361.5" r="5.7"/><circle cx="141.6" cy="366.1" r="5.7"/><circle cx="147.7" cy="329.1" r="5.7"/><circle cx="148" cy="375" r="5.7"/><circle cx="146.9" cy="369.2" r="5.7"/><circle cx="140.9" cy="349.3" r="5.7"/><circle cx="158.6" cy="334.7" r="5.7"/><circle cx="160.4" cy="376.3" r="5.7"/><circle cx="158.9" cy="332.5" r="5.7"/><circle cx="140.7" cy="295.3" r="5.7"/><circle cx="151" cy="365.7" r="5.7"/><circle cx="141.2" cy="353" r="5.7"/><circle cx="184.9" cy="319.2" r="5.7"/><circle cx="156" cy="296.4" r="5.7"/><circle cx="150.9" cy="359.1" r="5.7"/><circle cx="148.9" cy="331.3" r="5.7"/><circle cx="133.8" cy="372.8" r="5.7"/><circle cx="133.3" cy="372.4" r="5.7"/><circle cx="132.8" cy="302.1" r="5.7"/><circle cx="176.7" cy="369.9" r="5.7"/><circle cx="145.6" cy="366.1" r="5.7"/><circle cx="158.4" cy="325.9" r="5.7"/><circle cx="151.6" cy="358.7" r="5.7"/><circle cx="174" cy="319.2" r="5.7"/><circle cx="173.2" cy="348.9" r="5.7"/><circle cx="164" cy="362.2" r="5.7"/><circle cx="148.8" cy="295.2" r="5.7"/><circle cx="156.6" cy="351.5" r="5.7"/><circle cx="161" cy="365.2" r="5.7"/><circle cx="170.2" cy="315.7" r="5.7"/><circle cx="137.9" cy="359.5" r="5.7"/><circle cx="177.8" cy="375.9" r="5.7"/><circle cx="184.7" cy="330.7" r="5.7"/><circle cx="145.7" cy="362" r="5.7"/><circle cx="162.1" cy="341.3" r="5.7"/><circle cx="164.2" cy="341.4" r="5.7"/><circle cx="158.4" cy="376.5" r="5.7"/><circle cx="138.9" cy="298" r="5.7"/><circle cx="144.8" cy="319.8" r="5.7"/><circle cx="153.3" cy="355.1" r="5.7"/><circle cx="159.1" cy="376.2" r="5.7"/><circle cx="165.2" cy="350.8" r="5.7"/><circle cx="158.9" cy="368.9" r="5.7"/><circle cx="134.3" cy="357" r="5.7"/><circle cx="153.5" cy="363.2" r="5.7"/><circle cx="168.8" cy="335" r="5.7"/><circle cx="137.6" cy="348.1" r="5.7"/><circle cx="180" cy="345.3" r="5.7"/><circle cx="176.8" cy="346.9" r="5.7"/><circle cx="135.2" cy="355.2" r="5.7"/><circle cx="147.4" cy="332" r="5.7"/><circle cx="139" cy="373.5" r="5.7"/><circle cx="155.1" cy="358.6" r="5.7"/><circle cx="143.4" cy="342.6" r="5.7"/><circle cx="143.1" cy="372.6" r="5.7"/><circle cx="135.8" cy="368.3" r="5.7"/><circle cx="140.4" cy="364.9" r="5.7"/><circle cx="195.8" cy="372" r="5.7"/><circle cx="146" cy="367.8" r="5.7"/><circle cx="148.3" cy="367.4" r="5.7"/><circle cx="138.4" cy="362.4" r="5.7"/><circle cx="147.9" cy="364.4" r="5.7"/><circle cx="145" cy="364.8" r="5.7"/><circle cx="152" cy="371.5" r="5.7"/><circle cx="137.1" cy="315.2" r="5.7"/><circle cx="178.3" cy="351.1" r="5.7"/><circle cx="147.4" cy="338.3" r="5.7"/><circle cx="138.4" cy="340.7" r="5.7"/><circle cx="145.9" cy="360.9" r="5.7"/><circle cx="167.7" cy="341.1" r="5.7"/><circle cx="146.2" cy="369.1" r="5.7"/><circle cx="169.3" cy="357.9" r="5.7"/><circle cx="175.4" cy="368.6" r="5.7"/><circle cx="146" cy="339.1" r="5.7"/><circle cx="146.9" cy="376.3" r="5.7"/><circle cx="147.7" cy="366.1" r="5.7"/><circle cx="161.5" cy="304.4" r="5.7"/><circle cx="134.5" cy="375.5" r="5.7"/><circle cx="151.4" cy="356.8" r="5.7"/><circle cx="133.5" cy="363.6" r="5.7"/><circle cx="170.6" cy="334.6" r="5.7"/><circle cx="149.2" cy="350.5" r="5.7"/><circle cx="146.5" cy="288.6" r="5.7"/><circle cx="158.4" cy="338.7" r="5.7"/><circle cx="161.5" cy="364.4" r="5.7"/><circle cx="171.3" cy="366.6" r="5.7"/><circle cx="147.8" cy="364.5" r="5.7"/><circle cx="140.7" cy="372.1" r="5.7"/><circle cx="154.6" cy="324.1" r="5.7"/><circle cx="162.6" cy="348.7" r="5.7"/><circle cx="138.7" cy="317.2" r="5.7"/><circle cx="148" cy="375.7" r="5.7"/><circle cx="149.7" cy="363.6" r="5.7"/><circle cx="181.9" cy="348.8" r="5.7"/><circle cx="133.3" cy="355" r="5.7"/><circle cx="159.7" cy="369.1" r="5.7"/><circle cx="151.4" cy="329" r="5.7"/><circle cx="144.2" cy="373.2" r="5.7"/><circle cx="179.4" cy="348.5" r="5.7"/><circle cx="133.4" cy="318" r="5.7"/><circle cx="162.3" cy="317.9" r="5.7"/><circle cx="134.7" cy="350.2" r="5.7"/><circle cx="179.4" cy="322.6" r="5.7"/><circle cx="159.3" cy="345.8" r="5.7"/><circle cx="161.5" cy="352.8" r="5.7"/><circle cx="134.1" cy="353.4" r="5.7"/><circle cx="141.9" cy="332.3" r="5.7"/><circle cx="135.2" cy="370.8" r="5.7"/><circle cx="149.9" cy="374.9" r="5.7"/><circle cx="163.3" cy="335.3" r="5.7"/><circle cx="193.8" cy="365.8" r="5.7"/><circle cx="135.7" cy="330.1" r="5.7"/><circle cx="141.9" cy="367.2" r="5.7"/><circle cx="168.2" cy="373.5" r="5.7"/><circle cx="133.4" cy="369.1" r="5.7"/><circle cx="158.2" cy="356.4" r="5.7"/><circle cx="142.6" cy="334.6" r="5.7"/><circle cx="178.4" cy="374.4" r="5.7"/><circle cx="144.3" cy="370.8" r="5.7"/><circle cx="148.4" cy="367" r="5.7"/><circle cx="149.3" cy="355.6" r="5.7"/><circle cx="141.6" cy="371.3" r="5.7"/><circle cx="176.5" cy="329.9" r="5.7"/><circle cx="143.9" cy="376.6" r="5.7"/><circle cx="161.8" cy="338.3" r="5.7"/><circle cx="162.1" cy="363.1" r="5.7"/><circle cx="137.9" cy="375.7" r="5.7"/><circle cx="160.4" cy="354.6" r="5.7"/><circle cx="162.2" cy="364.2" r="5.7"/><circle cx="166.2" cy="370.8" r="5.7"/><circle cx="135.2" cy="324.9" r="5.7"/><circle cx="178.2" cy="292.9" r="5.7"/><circle cx="133.9" cy="367" r="5.7"/><circle cx="142.3" cy="360.5" r="5.7"/><circle cx="133.5" cy="373.7" r="5.7"/><circle cx="169.3" cy="345.4" r="5.7"/><circle cx="143.5" cy="361.7" r="5.7"/><circle cx="141.6" cy="364" r="5.7"/><circle cx="146.4" cy="368.8" r="5.7"/><circle cx="146.8" cy="358.6" r="5.7"/><circle cx="171.3" cy="362.4" r="5.7"/><circle cx="145.3" cy="371.7" r="5.7"/><circle cx="169.9" cy="369.4" r="5.7"/><circle cx="169.1" cy="283.6" r="5.7"/><circle cx="147.1" cy="341.7" r="5.7"/><circle cx="186.3" cy="344.1" r="5.7"/><circle cx="150.7" cy="344.4" r="5.7"/><circle cx="148.4" cy="377.1" r="5.7"/><circle cx="139.2" cy="325.7" r="5.7"/><circle cx="138.9" cy="369.5" r="5.7"/><circle cx="167.7" cy="366" r="5.7"/><circle cx="151.1" cy="253.7" r="5.7"/><circle cx="163.2" cy="367.9" r="5.7"/><circle cx="147.7" cy="366" r="5.7"/><circle cx="136.9" cy="317.9" r="5.7"/><circle cx="142" cy="374.6" r="5.7"/><circle cx="158.8" cy="374.5" r="5.7"/><circle cx="157.5" cy="360.9" r="5.7"/><circle cx="168.6" cy="256.3" r="5.7"/><circle cx="170.8" cy="360.6" r="5.7"/><circle cx="156.3" cy="332.6" r="5.7"/><circle cx="141" cy="355.9" r="5.7"/><circle cx="141.4" cy="359" r="5.7"/><circle cx="137.5" cy="376.9" r="5.7"/><circle cx="151.2" cy="315.2" r="5.7"/><circle cx="147.7" cy="275.1" r="5.7"/><circle cx="191.5" cy="362.5" r="5.7"/><circle cx="135.4" cy="334" r="5.7"/><circle cx="157.3" cy="329.6" r="5.7"/><circle cx="135.4" cy="371.2" r="5.7"/><circle cx="135.7" cy="354.6" r="5.7"/><circle cx="135.1" cy="331.4" r="5.7"/><circle cx="135" cy="337.4" r="5.7"/><circle cx="139.9" cy="320.3" r="5.7"/><circle cx="134.3" cy="357.6" r="5.7"/><circle cx="152.8" cy="352" r="5.7"/><circle cx="142.3" cy="321.2" r="5.7"/><circle cx="168.5" cy="371.4" r="5.7"/><circle cx="136.1" cy="370.2" r="5.7"/><circle cx="153.2" cy="374.6" r="5.7"/><circle cx="146.5" cy="354.2" r="5.7"/><circle cx="144.5" cy="361.6" r="5.7"/><circle cx="144.6" cy="354.5" r="5.7"/><circle cx="158.5" cy="362.4" r="5.7"/><circle cx="162.5" cy="375.6" r="5.7"/><circle cx="134" cy="360.9" r="5.7"/><circle cx="140.9" cy="364.1" r="5.7"/><circle cx="151.2" cy="370.3" r="5.7"/><circle cx="167.9" cy="350.2" r="5.7"/><circle cx="142.8" cy="373.5" r="5.7"/><circle cx="159.3" cy="315.2" r="5.7"/><circle cx="140" cy="370.3" r="5.7"/><circle cx="137.9" cy="264.9" r="5.7"/><circle cx="136" cy="337.1" r="5.7"/><circle cx="157.6" cy="332.3" r="5.7"/><circle cx="160.3" cy="376.4" r="5.7"/><circle cx="163.6" cy="374.9" r="5.7"/><circle cx="177.6" cy="376.4" r="5.7"/><circle cx="139.4" cy="376.1" r="5.7"/><circle cx="136.1" cy="371" r="5.7"/><circle cx="190.8" cy="348.5" r="5.7"/><circle cx="165.2" cy="312.1" r="5.7"/><circle cx="147.9" cy="369.5" r="5.7"/><circle cx="135.4" cy="340.7" r="5.7"/><circle cx="136.6" cy="374.6" r="5.7"/><circle cx="171.8" cy="372.1" r="5.7"/><circle cx="139.3" cy="334.7" r="5.7"/><circle cx="148.4" cy="374.5" r="5.7"/><circle cx="158.4" cy="337.3" r="5.7"/><circle cx="175.8" cy="377.4" r="5.7"/><circle cx="168.5" cy="327.9" r="5.7"/><circle cx="176.6" cy="359.3" r="5.7"/><circle cx="148.7" cy="352.3" r="5.7"/><circle cx="170.1" cy="375.3" r="5.7"/><circle cx="157.9" cy="376" r="5.7"/><circle cx="152.7" cy="364.3" r="5.7"/><circle cx="138.5" cy="377.2" r="5.7"/><circle cx="132.8" cy="331.5" r="5.7"/><circle cx="138.2" cy="334.1" r="5.7"/><circle cx="145.1" cy="350.2" r="5.7"/><circle cx="136" cy="371.4" r="5.7"/><circle cx="143.6" cy="280" r="5.7"/><circle cx="137.9" cy="356.9" r="5.7"/><circle cx="139.4" cy="343.4" r="5.7"/><circle cx="141.6" cy="328.2" r="5.7"/><circle cx="139.4" cy="365.5" r="5.7"/><circle cx="142.2" cy="368.1" r="5.7"/><circle cx="133.8" cy="353.2" r="5.7"/><circle cx="146.9" cy="277.6" r="5.7"/><circle cx="133" cy="375.4" r="5.7"/><circle cx="135.6" cy="374.3" r="5.7"/><circle cx="144.7" cy="358.4" r="5.7"/><circle cx="164.5" cy="361.6" r="5.7"/><circle cx="161.6" cy="350.3" r="5.7"/><circle cx="151.7" cy="313" r="5.7"/><circle cx="137.5" cy="314" r="5.7"/><circle cx="177.4" cy="330.3" r="5.7"/><circle cx="134" cy="347.8" r="5.7"/><circle cx="138.8" cy="328.2" r="5.7"/><circle cx="179.6" cy="372.3" r="5.7"/><circle cx="154.4" cy="303.1" r="5.7"/><circle cx="169.5" cy="369.9" r="5.7"/><circle cx="146.8" cy="368.1" r="5.7"/><circle cx="145.6" cy="374.8" r="5.7"/><circle cx="150.8" cy="362.2" r="5.7"/><circle cx="169.1" cy="307.5" r="5.7"/><circle cx="137" cy="340.1" r="5.7"/><circle cx="174.7" cy="341.1" r="5.7"/><circle cx="201.9" cy="369.1" r="5.7"/><circle cx="132.7" cy="376.9" r="5.7"/><circle cx="158.6" cy="370.6" r="5.7"/><circle cx="175.5" cy="367.1" r="5.7"/><circle cx="169.9" cy="339.2" r="5.7"/><circle cx="140.9" cy="336.3" r="5.7"/><circle cx="184.9" cy="357.7" r="5.7"/><circle cx="169.9" cy="367.7" r="5.7"/><circle cx="161.5" cy="351.8" r="5.7"/><circle cx="153.7" cy="289.9" r="5.7"/><circle cx="155.8" cy="372.9" r="5.7"/><circle cx="168.5" cy="357.3" r="5.7"/><circle cx="139.7" cy="305.2" r="5.7"/><circle cx="179.3" cy="347" r="5.7"/><circle cx="163.3" cy="288.5" r="5.7"/><circle cx="147.4" cy="368.6" r="5.7"/><circle cx="141.9" cy="315.9" r="5.7"/><circle cx="152.1" cy="344.7" r="5.7"/><circle cx="134.3" cy="258.6" r="5.7"/><circle cx="149.6" cy="250.4" r="5.7"/><circle cx="154.1" cy="250" r="5.7"/><circle cx="144.9" cy="293.9" r="5.7"/><circle cx="133.1" cy="293.1" r="5.7"/><circle cx="159.1" cy="297.8" r="5.7"/><circle cx="147.7" cy="292.8" r="5.7"/><circle cx="158.1" cy="259.9" r="5.7"/><circle cx="142.3" cy="253.4" r="5.7"/><circle cx="133.7" cy="288.4" r="5.7"/><circle cx="137.1" cy="312.2" r="5.7"/><circle cx="146.7" cy="282.7" r="5.7"/><circle cx="145.9" cy="304.5" r="5.7"/><circle cx="153.4" cy="222.3" r="5.7"/><circle cx="152.2" cy="250.3" r="5.7"/><circle cx="142.9" cy="300.9" r="5.7"/><circle cx="160.8" cy="308.7" r="5.7"/><circle cx="142.2" cy="250.1" r="5.7"/><circle cx="154.1" cy="274.4" r="5.7"/><circle cx="144.7" cy="226" r="5.7"/><circle cx="141.2" cy="284.6" r="5.7"/><circle cx="146.4" cy="236.3" r="5.7"/><circle cx="143.3" cy="296.1" r="5.7"/><circle cx="155.4" cy="252" r="5.7"/><circle cx="132.2" cy="291" r="5.7"/><circle cx="151.2" cy="228.7" r="5.7"/><circle cx="145.6" cy="302.9" r="5.7"/><circle cx="138.7" cy="252.9" r="5.7"/><circle cx="135" cy="300.7" r="5.7"/><circle cx="147.8" cy="221" r="5.7"/><circle cx="148.5" cy="280.6" r="5.7"/><circle cx="138.4" cy="296.4" r="5.7"/><circle cx="135.5" cy="312.2" r="5.7"/><circle cx="163.1" cy="305.7" r="5.7"/><circle cx="146.9" cy="222.9" r="5.7"/><circle cx="135.6" cy="304.9" r="5.7"/><circle cx="156.3" cy="240.3" r="5.7"/><circle cx="145.2" cy="266.7" r="5.7"/><circle cx="154" cy="307.5" r="5.7"/><circle cx="145.4" cy="290.3" r="5.7"/><circle cx="161.6" cy="280.8" r="5.7"/><circle cx="145.9" cy="299.3" r="5.7"/><circle cx="138.8" cy="296.8" r="5.7"/><circle cx="138.7" cy="254.9" r="5.7"/><circle cx="151.1" cy="271.7" r="5.7"/><circle cx="147.3" cy="252.7" r="5.7"/><circle cx="143.1" cy="235.5" r="5.7"/><circle cx="145.5" cy="275.1" r="5.7"/><circle cx="147.5" cy="307.1" r="5.7"/><circle cx="131.7" cy="309.3" r="5.7"/><circle cx="148.9" cy="306.9" r="5.7"/><circle cx="139.6" cy="295.7" r="5.7"/><circle cx="146" cy="274.9" r="5.7"/><circle cx="147.8" cy="282.7" r="5.7"/><circle cx="147.6" cy="272" r="5.7"/><circle cx="156" cy="311.5" r="5.7"/><circle cx="140.7" cy="296.5" r="5.7"/><circle cx="144.8" cy="232.2" r="5.7"/><circle cx="133.5" cy="223" r="5.7"/><circle cx="148" cy="224.9" r="5.7"/><circle cx="141.8" cy="266.5" r="5.7"/><circle cx="145.6" cy="232.7" r="5.7"/><circle cx="150.8" cy="297.5" r="5.7"/><circle cx="151.5" cy="226.8" r="5.7"/><circle cx="148.8" cy="272.8" r="5.7"/><circle cx="144.8" cy="273.6" r="5.7"/><circle cx="141.7" cy="287" r="5.7"/><circle cx="149" cy="282.7" r="5.7"/><circle cx="158.2" cy="306.7" r="5.7"/><circle cx="155.7" cy="300.7" r="5.7"/><circle cx="144.2" cy="317.5" r="5.7"/><circle cx="138.9" cy="316.2" r="5.7"/><circle cx="136.2" cy="271.9" r="5.7"/><circle cx="144.6" cy="295.4" r="5.7"/><circle cx="133.9" cy="269" r="5.7"/><circle cx="134.7" cy="304.2" r="5.7"/><circle cx="137.1" cy="238.8" r="5.7"/><circle cx="159.4" cy="233.5" r="5.7"/><circle cx="140.2" cy="282.1" r="5.7"/><circle cx="150" cy="296.1" r="5.7"/><circle cx="141.9" cy="259.2" r="5.7"/><circle cx="148.3" cy="297.1" r="5.7"/><circle cx="143.1" cy="315" r="5.7"/><circle cx="140.6" cy="299.6" r="5.7"/><circle cx="147.1" cy="244.2" r="5.7"/><circle cx="136.6" cy="278.7" r="5.7"/><circle cx="134.4" cy="251.1" r="5.7"/><circle cx="167.5" cy="295.4" r="5.7"/><circle cx="147" cy="271.2" r="5.7"/><circle cx="140" cy="269.7" r="5.7"/><circle cx="143.6" cy="220.1" r="5.7"/><circle cx="140.6" cy="235.8" r="5.7"/><circle cx="140.8" cy="298.5" r="5.7"/><circle cx="155.4" cy="296.1" r="5.7"/><circle cx="145.2" cy="223.1" r="5.7"/><circle cx="141.2" cy="284.5" r="5.7"/><circle cx="153.7" cy="252.2" r="5.7"/><circle cx="154" cy="302.5" r="5.7"/><circle cx="146.5" cy="236.4" r="5.7"/><circle cx="157.8" cy="293" r="5.7"/><circle cx="145.3" cy="273.5" r="5.7"/><circle cx="131.9" cy="304.9" r="5.7"/><circle cx="139.8" cy="294.7" r="5.7"/><circle cx="162.2" cy="303.8" r="5.7"/><circle cx="161.2" cy="305" r="5.7"/><circle cx="133.3" cy="230.6" r="5.7"/><circle cx="143.6" cy="312.9" r="5.7"/><circle cx="145.8" cy="260.4" r="5.7"/><circle cx="150.8" cy="273.7" r="5.7"/><circle cx="133.9" cy="252.9" r="5.7"/><circle cx="155.6" cy="233.2" r="5.7"/><circle cx="152.2" cy="225" r="5.7"/><circle cx="143.3" cy="278.1" r="5.7"/><circle cx="164.5" cy="308.3" r="5.7"/><circle cx="151.7" cy="316.9" r="5.7"/><circle cx="143.4" cy="222.6" r="5.7"/><circle cx="152.6" cy="232.1" r="5.7"/><circle cx="135.4" cy="234.3" r="5.7"/><circle cx="150.7" cy="238.4" r="5.7"/><circle cx="139" cy="307" r="5.7"/><circle cx="136.2" cy="294.4" r="5.7"/><circle cx="133.6" cy="377.9" r="5.7"/><circle cx="135.6" cy="376.5" r="5.7"/><circle cx="155.5" cy="387.8" r="5.7"/><circle cx="142.8" cy="376.5" r="5.7"/><circle cx="136.1" cy="379.4" r="5.7"/><circle cx="140.9" cy="385.4" r="5.7"/><circle cx="146.5" cy="381.7" r="5.7"/><circle cx="160.5" cy="379.6" r="5.7"/><circle cx="168.9" cy="380.3" r="5.7"/><circle cx="157" cy="382.4" r="5.7"/><circle cx="131.7" cy="388.8" r="5.7"/><circle cx="143.1" cy="382.4" r="5.7"/><circle cx="134.2" cy="380" r="5.7"/><circle cx="140.4" cy="386.4" r="5.7"/><circle cx="172.5" cy="385.7" r="5.7"/><circle cx="138" cy="383" r="5.7"/><circle cx="155.8" cy="383.3" r="5.7"/><circle cx="142.4" cy="375.7" r="5.7"/><circle cx="154.7" cy="378.8" r="5.7"/><circle cx="138.4" cy="383.9" r="5.7"/><circle cx="131.9" cy="387.1" r="5.7"/><circle cx="141.2" cy="385.8" r="5.7"/><circle cx="148" cy="388.4" r="5.7"/><circle cx="157.6" cy="387" r="5.7"/><circle cx="131.7" cy="387.8" r="5.7"/><circle cx="216.6" cy="300.6" r="5.7"/><circle cx="215.6" cy="328.5" r="5.7"/><circle cx="240.5" cy="325.5" r="5.7"/><circle cx="149.4" cy="323.7" r="5.7"/><circle cx="132.4" cy="314.9" r="5.7"/><circle cx="147.5" cy="328" r="5.7"/><circle cx="295.1" cy="310.3" r="5.7"/><circle cx="267.6" cy="316.5" r="5.7"/><circle cx="226.7" cy="313.4" r="5.7"/><circle cx="295.9" cy="333.5" r="5.7"/><circle cx="253.1" cy="330.4" r="5.7"/><circle cx="160.7" cy="307.4" r="5.7"/><circle cx="220.2" cy="305.8" r="5.7"/><circle cx="276" cy="319" r="5.7"/><circle cx="152.5" cy="336.9" r="5.7"/><circle cx="207.7" cy="312.4" r="5.7"/><circle cx="163.2" cy="336.2" r="5.7"/><circle cx="131.7" cy="334.1" r="5.7"/><circle cx="238.8" cy="336.9" r="5.7"/><circle cx="156.9" cy="331.5" r="5.7"/><circle cx="241.9" cy="298" r="5.7"/><circle cx="132.5" cy="335.4" r="5.7"/><circle cx="288.9" cy="299" r="5.7"/><circle cx="145.9" cy="329.2" r="5.7"/><circle cx="205.4" cy="329.7" r="5.7"/><circle cx="186.7" cy="323.8" r="5.7"/><circle cx="161.1" cy="336.4" r="5.7"/><circle cx="138.4" cy="334.3" r="5.7"/><circle cx="139.2" cy="317.4" r="5.7"/><circle cx="238.9" cy="331.6" r="5.7"/><circle cx="258.4" cy="312.2" r="5.7"/><circle cx="174.1" cy="323.2" r="5.7"/><circle cx="151.1" cy="301.4" r="5.7"/><circle cx="212.5" cy="336.5" r="5.7"/><circle cx="146.6" cy="314" r="5.7"/><circle cx="181.2" cy="312.8" r="5.7"/><circle cx="156.9" cy="308.7" r="5.7"/><circle cx="260.5" cy="335.8" r="5.7"/><circle cx="217.4" cy="333.6" r="5.7"/><circle cx="241.2" cy="308.3" r="5.7"/><circle cx="258.3" cy="332.5" r="5.7"/><circle cx="139.4" cy="315.5" r="5.7"/><circle cx="213.3" cy="334.9" r="5.7"/><circle cx="151.7" cy="319.3" r="5.7"/><circle cx="141" cy="316.9" r="5.7"/><circle cx="158.5" cy="331.7" r="5.7"/><circle cx="187.8" cy="321.5" r="5.7"/><circle cx="244.5" cy="336.7" r="5.7"/><circle cx="244.5" cy="332.8" r="5.7"/><circle cx="166" cy="316.6" r="5.7"/><circle cx="237.9" cy="317.8" r="5.7"/><circle cx="281.8" cy="333.3" r="5.7"/><circle cx="169.2" cy="315.5" r="5.7"/><circle cx="161.5" cy="334.5" r="5.7"/><circle cx="156.4" cy="310" r="5.7"/><circle cx="265.8" cy="312.9" r="5.7"/><circle cx="294.2" cy="308.8" r="5.7"/><circle cx="169" cy="329.9" r="5.7"/><circle cx="243.9" cy="336.4" r="5.7"/><circle cx="221.8" cy="335.9" r="5.7"/><circle cx="134.9" cy="322.3" r="5.7"/><circle cx="146.3" cy="301.2" r="5.7"/><circle cx="276.5" cy="324.5" r="5.7"/><circle cx="152.4" cy="335.3" r="5.7"/><circle cx="202.5" cy="322" r="5.7"/><circle cx="177.5" cy="312.9" r="5.7"/><circle cx="206.7" cy="309.8" r="5.7"/><circle cx="140.8" cy="336.2" r="5.7"/><circle cx="181.5" cy="323.6" r="5.7"/><circle cx="160.2" cy="315.2" r="5.7"/><circle cx="155.8" cy="329.8" r="5.7"/><circle cx="197.1" cy="313.1" r="5.7"/><circle cx="253.9" cy="327.9" r="5.7"/><circle cx="191.8" cy="301.4" r="5.7"/><circle cx="288.8" cy="317.6" r="5.7"/><circle cx="140.7" cy="324.7" r="5.7"/><circle cx="227.1" cy="331.1" r="5.7"/><circle cx="133.9" cy="298.3" r="5.7"/><circle cx="283.5" cy="335.1" r="5.7"/><circle cx="195.2" cy="317.6" r="5.7"/><circle cx="167.4" cy="336.2" r="5.7"/><circle cx="249.9" cy="310.1" r="5.7"/><circle cx="190.2" cy="335.9" r="5.7"/><circle cx="182.7" cy="335.8" r="5.7"/><circle cx="295.3" cy="336.5" r="5.7"/><circle cx="165.6" cy="310.2" r="5.7"/><circle cx="144.2" cy="335.6" r="5.7"/><circle cx="137" cy="334.3" r="5.7"/><circle cx="207.1" cy="306.7" r="5.7"/><circle cx="148.6" cy="334.1" r="5.7"/><circle cx="252.8" cy="325.9" r="5.7"/><circle cx="173.5" cy="335.2" r="5.7"/><circle cx="158.8" cy="298.9" r="5.7"/><circle cx="142.1" cy="331.7" r="5.7"/><circle cx="247.9" cy="303.5" r="5.7"/><circle cx="282.3" cy="324" r="5.7"/><circle cx="293.7" cy="318.3" r="5.7"/><circle cx="165.7" cy="324.3" r="5.7"/><circle cx="242.9" cy="312" r="5.7"/><circle cx="143.6" cy="333.6" r="5.7"/><circle cx="294.1" cy="335.5" r="5.7"/><circle cx="262.9" cy="329.1" r="5.7"/><circle cx="159.5" cy="331.8" r="5.7"/><circle cx="195.8" cy="297.8" r="5.7"/><circle cx="145.9" cy="305.6" r="5.7"/><circle cx="170.8" cy="334.1" r="5.7"/><circle cx="248.7" cy="329" r="5.7"/><circle cx="151" cy="326.2" r="5.7"/><circle cx="264.7" cy="305.1" r="5.7"/><circle cx="215.2" cy="336.9" r="5.7"/><circle cx="252.5" cy="318.2" r="5.7"/><circle cx="281.3" cy="300" r="5.7"/><circle cx="171.7" cy="305.9" r="5.7"/><circle cx="264.1" cy="331.5" r="5.7"/><circle cx="178" cy="327.8" r="5.7"/><circle cx="175.9" cy="327.7" r="5.7"/><circle cx="141.3" cy="332.6" r="5.7"/><circle cx="283.5" cy="326.5" r="5.7"/><circle cx="226.9" cy="303.7" r="5.7"/><circle cx="250.9" cy="332.1" r="5.7"/><circle cx="285.7" cy="308.3" r="5.7"/><circle cx="301.3" cy="312.3" r="5.7"/><circle cx="250.8" cy="307.8" r="5.7"/><circle cx="160.3" cy="315.8" r="5.7"/><circle cx="180.5" cy="306.4" r="5.7"/><circle cx="144.1" cy="321.2" r="5.7"/><circle cx="173.2" cy="307.4" r="5.7"/><circle cx="174.6" cy="306.1" r="5.7"/><circle cx="270.2" cy="304.2" r="5.7"/><circle cx="144.7" cy="300.8" r="5.7"/><circle cx="248.6" cy="314.8" r="5.7"/><circle cx="230.2" cy="336.5" r="5.7"/><circle cx="275" cy="320.8" r="5.7"/><circle cx="193.4" cy="329.1" r="5.7"/><circle cx="256.6" cy="309.5" r="5.7"/><circle cx="274.9" cy="333" r="5.7"/><circle cx="173.9" cy="332" r="5.7"/><circle cx="140.2" cy="329.5" r="5.7"/><circle cx="133" cy="308.7" r="5.7"/><circle cx="156.5" cy="336.2" r="5.7"/><circle cx="136.7" cy="311.6" r="5.7"/><circle cx="152.5" cy="324.5" r="5.7"/><circle cx="184" cy="308.4" r="5.7"/><circle cx="293.2" cy="330.1" r="5.7"/><circle cx="226.2" cy="303.3" r="5.7"/><circle cx="196" cy="303" r="5.7"/><circle cx="246.4" cy="330" r="5.7"/><circle cx="275.8" cy="319.7" r="5.7"/><circle cx="140.8" cy="319" r="5.7"/><circle cx="266.3" cy="322.1" r="5.7"/><circle cx="198.4" cy="326.3" r="5.7"/><circle cx="277.2" cy="315.4" r="5.7"/><circle cx="153.8" cy="328.3" r="5.7"/><circle cx="177.6" cy="299.6" r="5.7"/><circle cx="238.8" cy="335.2" r="5.7"/><circle cx="284.5" cy="336.7" r="5.7"/><circle cx="218.2" cy="325.6" r="5.7"/><circle cx="243.1" cy="325.8" r="5.7"/><circle cx="139.3" cy="321.9" r="5.7"/><circle cx="264.4" cy="309.1" r="5.7"/><circle cx="150.5" cy="139.8" r="5.7"/><circle cx="154.3" cy="144.8" r="5.7"/><circle cx="156.2" cy="150.5" r="5.7"/><circle cx="152.4" cy="156.2" r="5.7"/><circle cx="158.1" cy="160" r="5.7"/><circle cx="139" cy="167.6" r="5.7"/><circle cx="144.8" cy="175.2" r="5.7"/><circle cx="141" cy="182.9" r="5.7"/><circle cx="150.5" cy="182.9" r="5.7"/><circle cx="154.3" cy="190.5" r="5.7"/><circle cx="142.9" cy="203.8" r="5.7"/><circle cx="150.5" cy="201.9" r="5.7"/><circle cx="175.2" cy="163" r="5.7"/><circle cx="177.1" cy="165.7" r="5.7"/><circle cx="167.6" cy="186.7" r="5.7"/><circle cx="173.3" cy="186.7" r="5.7"/><circle cx="182.9" cy="186.7" r="5.7"/><circle cx="219" cy="163" r="5.7"/><circle cx="231.6" cy="167.6" r="5.7"/><circle cx="228.6" cy="177.1" r="5.7"/><circle cx="209.5" cy="188.6" r="5.7"/><circle cx="207.6" cy="201.9" r="5.7"/><circle cx="228.6" cy="200" r="5.7"/><circle cx="247.6" cy="186.7" r="5.7"/><circle cx="249.5" cy="190.5" r="5.7"/><circle cx="283.8" cy="186.7" r="5.7"/><circle cx="281.9" cy="194.3" r="5.7"/><circle cx="280" cy="209.5" r="5.7"/><circle cx="240" cy="209.5" r="5.7"/><circle cx="236.2" cy="219" r="5.7"/><circle cx="230.5" cy="224.8" r="5.7"/><circle cx="201.9" cy="226.7" r="5.7"/><circle cx="209.5" cy="234.3" r="5.7"/><circle cx="217.1" cy="232.4" r="5.7"/><circle cx="215.2" cy="245.7" r="5.7"/><circle cx="222.9" cy="240" r="5.7"/><circle cx="228.6" cy="238.1" r="5.7"/><circle cx="249.5" cy="230.5" r="5.7"/><circle cx="278.1" cy="228.6" r="5.7"/><circle cx="280" cy="243.8" r="5.7"/><circle cx="280" cy="249.5" r="5.7"/><circle cx="243.8" cy="251.4" r="5.7"/><circle cx="249.5" cy="259" r="5.7"/><circle cx="253.3" cy="264.8" r="5.7"/><circle cx="271.2" cy="259" r="5.7"/><circle cx="274.3" cy="266.7" r="5.7"/><circle cx="287.6" cy="266.7" r="5.7"/><circle cx="281.9" cy="272.4" r="5.7"/><circle cx="266.7" cy="274.3" r="5.7"/><circle cx="276.2" cy="278.1" r="5.7"/><circle cx="247.6" cy="278.1" r="5.7"/><circle cx="219" cy="281.9" r="5.7"/><circle cx="221" cy="287.6" r="5.7"/><circle cx="198.1" cy="293.3" r="5.7"/><circle cx="213.3" cy="270.5" r="5.7"/><circle cx="203.8" cy="261" r="5.7"/><circle cx="198.1" cy="262.9" r="5.7"/><circle cx="192.4" cy="266.7" r="5.7"/><circle cx="207.6" cy="262.9" r="5.7"/><circle cx="186.7" cy="268.6" r="5.7"/><circle cx="188.6" cy="274.3" r="5.7"/><circle cx="175.2" cy="249.5" r="5.7"/><circle cx="184.8" cy="253.3" r="5.7"/><circle cx="169.5" cy="259" r="5.7"/><circle cx="167.6" cy="228.6" r="5.7"/><circle cx="173.3" cy="217.1" r="5.7"/><circle cx="182.9" cy="221" r="5.7"/><circle cx="184.8" cy="207.6" r="5.7"/><circle cx="361.9" cy="190.5" r="5.7"/><circle cx="401.9" cy="201.9" r="5.7"/><circle cx="421" cy="200" r="5.7"/><circle cx="434.3" cy="215.2" r="5.7"/><circle cx="442.7" cy="196.2" r="5.7"/><circle cx="449.5" cy="198.1" r="5.7"/><circle cx="527.6" cy="202.7" r="5.7"/><circle cx="562.7" cy="221.7" r="5.7"/><circle cx="494.1" cy="233.9" r="5.7"/><circle cx="496" cy="271.2" r="5.7"/><circle cx="510.5" cy="275" r="5.7"/><circle cx="522.7" cy="269.7" r="5.7"/><circle cx="532.6" cy="253.3" r="5.7"/><circle cx="439.2" cy="261" r="5.7"/><circle cx="381.7" cy="259" r="5.7"/><circle cx="379" cy="264.8" r="5.7"/><circle cx="371.4" cy="278.1" r="5.7"/><circle cx="358.1" cy="259" r="5.7"/><circle cx="350.5" cy="262.9" r="5.7"/><circle cx="344.8" cy="276.2" r="5.7"/><circle cx="318.1" cy="264.8" r="5.7"/><circle cx="325.7" cy="271.2" r="5.7"/><circle cx="304.8" cy="291.4" r="5.7"/><circle cx="293.3" cy="301" r="5.7"/><circle cx="283.8" cy="304.8" r="5.7"/><circle cx="276.2" cy="291.4" r="5.7"/><circle cx="278.1" cy="304.8" r="5.7"/><circle cx="251.4" cy="301" r="5.7"/><circle cx="243.8" cy="299" r="5.7"/><circle cx="234.3" cy="301" r="5.7"/><circle cx="224.8" cy="302.9" r="5.7"/><circle cx="213.3" cy="304.8" r="5.7"/><circle cx="228.6" cy="297.1" r="5.7"/><circle cx="238.1" cy="295.2" r="5.7"/><circle cx="331.4" cy="301" r="5.7"/><circle cx="341" cy="301" r="5.7"/><circle cx="346.7" cy="297.1" r="5.7"/><circle cx="354.3" cy="295.2" r="5.7"/><circle cx="360" cy="293.3" r="5.7"/><circle cx="356.2" cy="306.7" r="5.7"/><circle cx="377.1" cy="295.2" r="5.7"/><circle cx="384.8" cy="312.4" r="5.7"/><circle cx="398.1" cy="285.7" r="5.7"/><circle cx="404.6" cy="289.5" r="5.7"/><circle cx="413.3" cy="293.3" r="5.7"/><circle cx="415.2" cy="304.8" r="5.7"/><circle cx="401.9" cy="304.8" r="5.7"/><circle cx="400" cy="316.2" r="5.7"/><circle cx="430.5" cy="293.3" r="5.7"/><circle cx="430.5" cy="316.2" r="5.7"/><circle cx="449.5" cy="285.7" r="5.7"/><circle cx="455.2" cy="281.9" r="5.7"/><circle cx="462.9" cy="274.3" r="5.7"/><circle cx="470.5" cy="278.1" r="5.7"/><circle cx="476.2" cy="281.9" r="5.7"/><circle cx="481.9" cy="285.7" r="5.7"/><circle cx="467.8" cy="293.3" r="5.7"/><circle cx="465.5" cy="312.4" r="5.7"/><circle cx="454.1" cy="321.9" r="5.7"/><circle cx="495.2" cy="306.7" r="5.7"/><circle cx="506.7" cy="297.1" r="5.7"/><circle cx="525.7" cy="316.2" r="5.7"/><circle cx="533.3" cy="323.8" r="5.7"/><circle cx="556.2" cy="304.8" r="5.7"/><circle cx="495.2" cy="327.6" r="5.7"/><circle cx="533.3" cy="331.4" r="5.7"/><circle cx="502.9" cy="335.2" r="5.7"/><circle cx="464" cy="323.8" r="5.7"/><circle cx="472.4" cy="327.6" r="5.7"/><circle cx="481.9" cy="331.4" r="5.7"/><circle cx="579.8" cy="339" r="5.7"/><circle cx="581" cy="344.8" r="5.7"/><circle cx="339" cy="377.1" r="5.7"/><circle cx="360" cy="375.2" r="5.7"/><circle cx="398.1" cy="377.1" r="5.7"/><circle cx="377.1" cy="371.4" r="5.7"/><circle cx="537.1" cy="371.4" r="5.7"/><circle cx="546.7" cy="372.6" r="5.7"/><circle cx="573.3" cy="371.4" r="5.7"/><circle cx="186.7" cy="386.7" r="5.7"/><circle cx="264.8" cy="382.9" r="5.7"/><circle cx="228.6" cy="382.9" r="5.7"/></g>
<text x="362.4" y="466" font-size="25.5" font-weight="bold" text-anchor="middle" textLength="161" lengthAdjust="spacingAndGlyphs">Velocity (m/s)</text>
<text x="27.2" y="221.6" font-size="29.5" font-weight="bold" text-anchor="middle" transform="rotate(-90 27.2 221.6)" textLength="249" lengthAdjust="spacingAndGlyphs">GCaMP signal (a.u.)</text>
<text x="491" y="105.7" font-size="25">r=0.006</text>
<text x="491" y="135.2" font-size="25">p=0.7</text>
<text x="628" y="49" font-size="66">b</text>
<line x1="740.7" y1="77.1" x2="740.7" y2="396.3" stroke="#000" stroke-width="3"/>
<line x1="739.2" y1="394.8" x2="1216.7" y2="394.8" stroke="#000" stroke-width="3"/>
<line x1="732.2" y1="394.8" x2="740.7" y2="394.8" stroke="#000" stroke-width="3"/>
<text x="728.4" y="403.6" font-size="26" font-weight="bold" text-anchor="end">0</text>
<line x1="732.2" y1="288.9" x2="740.7" y2="288.9" stroke="#000" stroke-width="3"/>
<text x="728.4" y="297.7" font-size="26" font-weight="bold" text-anchor="end">200</text>
<line x1="732.2" y1="183" x2="740.7" y2="183" stroke="#000" stroke-width="3"/>
<text x="728.4" y="191.8" font-size="26" font-weight="bold" text-anchor="end">400</text>
<line x1="732.2" y1="77.1" x2="740.7" y2="77.1" stroke="#000" stroke-width="3"/>
<text x="728.4" y="85.9" font-size="26" font-weight="bold" text-anchor="end">600</text>
<line x1="734.7" y1="341.9" x2="740.7" y2="341.9" stroke="#000" stroke-width="3"/>
<line x1="734.7" y1="235.9" x2="740.7" y2="235.9" stroke="#000" stroke-width="3"/>
<line x1="734.7" y1="130" x2="740.7" y2="130" stroke="#000" stroke-width="3"/>
<rect x="788.2" y="327.4" width="95.6" height="67.4" fill="#fff"/>
<rect x="931.1" y="326" width="95.6" height="68.8" fill="#fff"/>
<rect x="1074.4" y="273.3" width="95.6" height="121.5" fill="#fff"/>
<g fill="#1A8FEA"><circle cx="836" cy="269.3" r="4.5"/><circle cx="793.8" cy="288.3" r="4.5"/><circle cx="805.8" cy="288.3" r="4.5"/><circle cx="817.5" cy="290.6" r="4.5"/><circle cx="829.6" cy="291.8" r="4.5"/><circle cx="841.7" cy="291.8" r="4.5"/><circle cx="854.1" cy="289.7" r="4.5"/><circle cx="866.2" cy="288.3" r="4.5"/><circle cx="878.3" cy="284.2" r="4.5"/><circle cx="821.8" cy="298.4" r="4.5"/><circle cx="849.4" cy="295.3" r="4.5"/><circle cx="795.4" cy="308.7" r="4.5"/><circle cx="836" cy="306.1" r="4.5"/><circle cx="876.6" cy="310.4" r="4.5"/><circle cx="808.9" cy="313" r="4.5"/><circle cx="863.3" cy="315.6" r="4.5"/><circle cx="821.8" cy="319.9" r="4.5"/><circle cx="836" cy="320.8" r="4.5"/><circle cx="849.4" cy="320.8" r="4.5"/><circle cx="794.5" cy="331.5" r="4.5"/><circle cx="799.5" cy="333.1" r="4.5"/><circle cx="804.7" cy="334.5" r="4.5"/><circle cx="809.9" cy="335.7" r="4.5"/><circle cx="815" cy="336.7" r="4.5"/><circle cx="820.2" cy="337.5" r="4.5"/><circle cx="825.4" cy="338" r="4.5"/><circle cx="830.8" cy="338.4" r="4.5"/><circle cx="836.2" cy="338.5" r="4.5"/><circle cx="841.6" cy="338.4" r="4.5"/><circle cx="847" cy="338" r="4.5"/><circle cx="852.2" cy="337.4" r="4.5"/><circle cx="857.4" cy="336.6" r="4.5"/><circle cx="862.6" cy="335.6" r="4.5"/><circle cx="867.7" cy="334.4" r="4.5"/><circle cx="872.9" cy="333" r="4.5"/><circle cx="794.5" cy="340" r="4.5"/><circle cx="799.1" cy="342.7" r="4.5"/><circle cx="803.8" cy="345.3" r="4.5"/><circle cx="808.6" cy="347.6" r="4.5"/><circle cx="813.6" cy="349.7" r="4.5"/><circle cx="818.6" cy="351.5" r="4.5"/><circle cx="823.8" cy="352.9" r="4.5"/><circle cx="828.9" cy="353.9" r="4.5"/><circle cx="834.1" cy="354.4" r="4.5"/><circle cx="839.5" cy="354.3" r="4.5"/><circle cx="844.7" cy="353.6" r="4.5"/><circle cx="849.9" cy="352.5" r="4.5"/><circle cx="855.1" cy="350.9" r="4.5"/><circle cx="860.1" cy="349.1" r="4.5"/><circle cx="864.8" cy="347" r="4.5"/><circle cx="869.6" cy="344.6" r="4.5"/><circle cx="874.2" cy="342" r="4.5"/><circle cx="797" cy="335.5" r="4.5"/><circle cx="802.3" cy="338.5" r="4.5"/><circle cx="807.7" cy="341.1" r="4.5"/><circle cx="813.4" cy="343.2" r="4.5"/><circle cx="861.4" cy="342.2" r="4.5"/><circle cx="867" cy="339.9" r="4.5"/><circle cx="872.5" cy="337" r="4.5"/></g>
<g fill="#FFF200"><circle cx="978.9" cy="273.2" r="4.5"/><circle cx="972.1" cy="290.7" r="4.5"/><circle cx="985.7" cy="288.9" r="4.5"/><circle cx="1006.1" cy="291.4" r="4.5"/><circle cx="951.8" cy="296.4" r="4.5"/><circle cx="965.4" cy="301.8" r="4.5"/><circle cx="978.9" cy="305" r="4.5"/><circle cx="992.5" cy="301.1" r="4.5"/><circle cx="951.8" cy="312.1" r="4.5"/><circle cx="1006.1" cy="312.5" r="4.5"/><circle cx="965.4" cy="316.4" r="4.5"/><circle cx="978.9" cy="317.1" r="4.5"/><circle cx="992.5" cy="316.8" r="4.5"/><circle cx="945" cy="322.5" r="4.5"/><circle cx="958.6" cy="333.6" r="4.5"/><circle cx="972.1" cy="334.3" r="4.5"/><circle cx="985.7" cy="336.8" r="4.5"/><circle cx="999.3" cy="333.6" r="4.5"/><circle cx="1012.9" cy="332.9" r="4.5"/><circle cx="1021.4" cy="337.1" r="4.5"/><circle cx="936.5" cy="339.5" r="4.5"/><circle cx="941.2" cy="342" r="4.5"/><circle cx="946.1" cy="344.3" r="4.5"/><circle cx="951" cy="346.3" r="4.5"/><circle cx="955.8" cy="348.1" r="4.5"/><circle cx="960.9" cy="349.7" r="4.5"/><circle cx="966" cy="351" r="4.5"/><circle cx="971.4" cy="351.9" r="4.5"/><circle cx="976.7" cy="352.4" r="4.5"/><circle cx="982" cy="352.4" r="4.5"/><circle cx="987.3" cy="351.8" r="4.5"/><circle cx="992.6" cy="350.8" r="4.5"/><circle cx="997.7" cy="349.5" r="4.5"/><circle cx="1002.8" cy="347.9" r="4.5"/><circle cx="1007.7" cy="346.1" r="4.5"/><circle cx="1012.6" cy="344" r="4.5"/><circle cx="1017.5" cy="341.6" r="4.5"/><circle cx="939" cy="336.5" r="4.5"/><circle cx="944.2" cy="338.9" r="4.5"/><circle cx="949.4" cy="341" r="4.5"/><circle cx="954.8" cy="342.8" r="4.5"/><circle cx="960.4" cy="344.3" r="4.5"/><circle cx="966" cy="345.4" r="4.5"/><circle cx="971.6" cy="346.2" r="4.5"/><circle cx="977.2" cy="346.5" r="4.5"/><circle cx="982.8" cy="346.4" r="4.5"/><circle cx="988.4" cy="345.9" r="4.5"/><circle cx="994" cy="345.1" r="4.5"/><circle cx="999.6" cy="343.8" r="4.5"/><circle cx="1005" cy="342.3" r="4.5"/><circle cx="1010.4" cy="340.3" r="4.5"/><circle cx="1015.6" cy="338.1" r="4.5"/></g>
<g fill="#EE2A1A"><circle cx="1122.4" cy="124.4" r="4.5"/><circle cx="1115.6" cy="182" r="4.5"/><circle cx="1129.2" cy="186.8" r="4.5"/><circle cx="1122.4" cy="224.5" r="4.5"/><circle cx="1122.4" cy="243.5" r="4.5"/><circle cx="1108.5" cy="253.9" r="4.5"/><circle cx="1135.9" cy="260.3" r="4.5"/><circle cx="1122.4" cy="267.5" r="4.5"/><circle cx="1095" cy="283.1" r="4.5"/><circle cx="1108.5" cy="288.5" r="4.5"/><circle cx="1122.4" cy="292.5" r="4.5"/><circle cx="1135.9" cy="283.7" r="4.5"/><circle cx="1149.5" cy="281.7" r="4.5"/><circle cx="1081.7" cy="316.9" r="4.5"/><circle cx="1095.3" cy="320.3" r="4.5"/><circle cx="1108.5" cy="323.5" r="4.5"/><circle cx="1122.4" cy="326.7" r="4.5"/><circle cx="1135.9" cy="325.8" r="4.5"/><circle cx="1149.5" cy="323.1" r="4.5"/><circle cx="1163.1" cy="317.4" r="4.5"/></g>
<polyline points="788.2,394.8 788.2,327.4 883.8,327.4 883.8,394.8" fill="none" stroke="#000" stroke-width="3" stroke-linejoin="round" stroke-linecap="round" stroke-linejoin="miter" stroke-linecap="butt"/>
<line x1="836" y1="394.8" x2="836" y2="404.3" stroke="#000" stroke-width="3"/>
<line x1="836" y1="322.5" x2="836" y2="329.4" stroke="#000" stroke-width="3"/>
<line x1="811.4" y1="322.5" x2="860.6" y2="322.5" stroke="#000" stroke-width="3"/>
<line x1="811.4" y1="329.4" x2="860.6" y2="329.4" stroke="#000" stroke-width="3"/>
<polyline points="931.1,394.8 931.1,326 1026.7,326 1026.7,394.8" fill="none" stroke="#000" stroke-width="3" stroke-linejoin="round" stroke-linecap="round" stroke-linejoin="miter" stroke-linecap="butt"/>
<line x1="978.9" y1="394.8" x2="978.9" y2="404.3" stroke="#000" stroke-width="3"/>
<line x1="978.9" y1="320.7" x2="978.9" y2="328.6" stroke="#000" stroke-width="3"/>
<line x1="954.3" y1="320.7" x2="1003.5" y2="320.7" stroke="#000" stroke-width="3"/>
<line x1="954.3" y1="328.6" x2="1003.5" y2="328.6" stroke="#000" stroke-width="3"/>
<polyline points="1074.4,394.8 1074.4,273.3 1170,273.3 1170,394.8" fill="none" stroke="#000" stroke-width="3" stroke-linejoin="round" stroke-linecap="round" stroke-linejoin="miter" stroke-linecap="butt"/>
<line x1="1122.2" y1="394.8" x2="1122.2" y2="404.3" stroke="#000" stroke-width="3"/>
<line x1="1122.2" y1="258.7" x2="1122.2" y2="283.6" stroke="#000" stroke-width="3"/>
<line x1="1097.6" y1="258.7" x2="1146.8" y2="258.7" stroke="#000" stroke-width="3"/>
<line x1="1097.6" y1="283.6" x2="1146.8" y2="283.6" stroke="#000" stroke-width="3"/>
<line x1="740.7" y1="341.9" x2="1216.7" y2="341.9" stroke="#000" stroke-width="3" stroke-dasharray="11.5 8"/>
<text x="839.7" y="250.6" font-size="42" font-weight="bold" text-anchor="middle" letter-spacing="4">****</text>
<text x="980.9" y="249.4" font-size="42" font-weight="bold" text-anchor="middle" letter-spacing="4">***</text>
<text x="1126.6" y="101" font-size="42" font-weight="bold" text-anchor="middle" letter-spacing="4">****</text>
<text transform="translate(850.5,418.3) rotate(-45)" font-size="25.5" font-weight="bold" text-anchor="end">Exploration</text>
<text transform="translate(993.4,418.3) rotate(-45)" font-size="25.5" font-weight="bold" text-anchor="end">Dominance</text>
<text transform="translate(1136.7,418.3) rotate(-45)" font-size="25.5" font-weight="bold" text-anchor="end">Aggression</text>
<text x="664.4" y="228.2" font-size="29.2" font-weight="bold" text-anchor="middle" transform="rotate(-90 664.4 228.2)" textLength="193.5" lengthAdjust="spacingAndGlyphs">% Mean (CA2)</text>
<text x="1260" y="48.6" font-size="66">c</text>
<line x1="1370.3" y1="77.6" x2="1370.3" y2="396.7" stroke="#000" stroke-width="3"/>
<line x1="1368.8" y1="395.2" x2="1848.6" y2="395.2" stroke="#000" stroke-width="3"/>
<line x1="1361.8" y1="395.2" x2="1370.3" y2="395.2" stroke="#000" stroke-width="3"/>
<text x="1358" y="404" font-size="26" font-weight="bold" text-anchor="end">0</text>
<line x1="1361.8" y1="289.3" x2="1370.3" y2="289.3" stroke="#000" stroke-width="3"/>
<text x="1358" y="298.2" font-size="26" font-weight="bold" text-anchor="end">200</text>
<line x1="1361.8" y1="183.5" x2="1370.3" y2="183.5" stroke="#000" stroke-width="3"/>
<text x="1358" y="192.3" font-size="26" font-weight="bold" text-anchor="end">400</text>
<line x1="1361.8" y1="77.6" x2="1370.3" y2="77.6" stroke="#000" stroke-width="3"/>
<text x="1358" y="86.4" font-size="26" font-weight="bold" text-anchor="end">600</text>
<line x1="1364.3" y1="342.3" x2="1370.3" y2="342.3" stroke="#000" stroke-width="3"/>
<line x1="1364.3" y1="236.4" x2="1370.3" y2="236.4" stroke="#000" stroke-width="3"/>
<line x1="1364.3" y1="130.5" x2="1370.3" y2="130.5" stroke="#000" stroke-width="3"/>
<rect x="1418.5" y="341.5" width="95.6" height="53.7" fill="#fff"/>
<rect x="1560.9" y="341.7" width="95.6" height="53.5" fill="#fff"/>
<rect x="1704.7" y="300.7" width="95.6" height="94.5" fill="#fff"/>
<g fill="#1A8FEA"><circle cx="1466.3" cy="268" r="4.5"/><circle cx="1466.3" cy="299.7" r="4.5"/><circle cx="1459.2" cy="323.3" r="4.5"/><circle cx="1472.8" cy="322.5" r="4.5"/><circle cx="1506.7" cy="330.3" r="4.5"/><circle cx="1425.8" cy="335.3" r="4.5"/><circle cx="1438.7" cy="337" r="4.5"/><circle cx="1493.3" cy="336.3" r="4.5"/><circle cx="1480" cy="337.5" r="4.5"/><circle cx="1425.5" cy="340.5" r="4.5"/><circle cx="1429.8" cy="343.2" r="4.5"/><circle cx="1434.2" cy="345.7" r="4.5"/><circle cx="1438.7" cy="348.1" r="4.5"/><circle cx="1443.3" cy="350.2" r="4.5"/><circle cx="1448" cy="352.1" r="4.5"/><circle cx="1452.8" cy="353.7" r="4.5"/><circle cx="1457.7" cy="355" r="4.5"/><circle cx="1462.8" cy="355.8" r="4.5"/><circle cx="1467.8" cy="355.9" r="4.5"/><circle cx="1472.9" cy="355.2" r="4.5"/><circle cx="1477.9" cy="354.1" r="4.5"/><circle cx="1482.8" cy="352.5" r="4.5"/><circle cx="1487.7" cy="350.6" r="4.5"/><circle cx="1492.3" cy="348.5" r="4.5"/><circle cx="1497" cy="346.2" r="4.5"/><circle cx="1501.4" cy="343.6" r="4.5"/><circle cx="1505.9" cy="340.9" r="4.5"/><circle cx="1428" cy="340" r="4.5"/><circle cx="1433.1" cy="342.3" r="4.5"/><circle cx="1438.5" cy="344.3" r="4.5"/><circle cx="1443.8" cy="345.9" r="4.5"/><circle cx="1449.3" cy="347.3" r="4.5"/><circle cx="1454.8" cy="348.2" r="4.5"/><circle cx="1460.3" cy="348.8" r="4.5"/><circle cx="1465.8" cy="349" r="4.5"/><circle cx="1471.3" cy="348.8" r="4.5"/><circle cx="1476.8" cy="348.3" r="4.5"/><circle cx="1482.3" cy="347.3" r="4.5"/><circle cx="1487.8" cy="346" r="4.5"/><circle cx="1493.2" cy="344.4" r="4.5"/><circle cx="1498.5" cy="342.4" r="4.5"/><circle cx="1503.6" cy="340.2" r="4.5"/></g>
<g fill="#FFF200"><circle cx="1609.2" cy="315" r="4.5"/><circle cx="1650" cy="327.5" r="4.5"/><circle cx="1641.7" cy="331.7" r="4.5"/><circle cx="1568.3" cy="331.7" r="4.5"/><circle cx="1568.5" cy="333" r="4.5"/><circle cx="1572.4" cy="336.2" r="4.5"/><circle cx="1576.4" cy="339.5" r="4.5"/><circle cx="1580.5" cy="342.4" r="4.5"/><circle cx="1584.8" cy="345.3" r="4.5"/><circle cx="1589.3" cy="348" r="4.5"/><circle cx="1593.8" cy="350.3" r="4.5"/><circle cx="1598.5" cy="352.4" r="4.5"/><circle cx="1603.3" cy="354" r="4.5"/><circle cx="1608.4" cy="355" r="4.5"/><circle cx="1613.5" cy="354.4" r="4.5"/><circle cx="1618.4" cy="352.9" r="4.5"/><circle cx="1623.1" cy="350.9" r="4.5"/><circle cx="1627.6" cy="348.6" r="4.5"/><circle cx="1632.1" cy="345.9" r="4.5"/><circle cx="1636.3" cy="343" r="4.5"/><circle cx="1640.4" cy="340" r="4.5"/><circle cx="1644.5" cy="336.8" r="4.5"/><circle cx="1648.4" cy="333.5" r="4.5"/><circle cx="1572" cy="337.5" r="4.5"/><circle cx="1576.9" cy="340.3" r="4.5"/><circle cx="1581.9" cy="342.8" r="4.5"/><circle cx="1587.2" cy="344.9" r="4.5"/><circle cx="1592.4" cy="346.6" r="4.5"/><circle cx="1597.9" cy="347.9" r="4.5"/><circle cx="1603.5" cy="348.7" r="4.5"/><circle cx="1609.1" cy="349" r="4.5"/><circle cx="1614.8" cy="348.8" r="4.5"/><circle cx="1620.4" cy="348" r="4.5"/><circle cx="1625.8" cy="346.8" r="4.5"/><circle cx="1631.2" cy="345.1" r="4.5"/><circle cx="1636.5" cy="343" r="4.5"/><circle cx="1641.6" cy="340.6" r="4.5"/><circle cx="1646.4" cy="337.8" r="4.5"/></g>
<g fill="#EE2A1A"><circle cx="1752.3" cy="203.5" r="4.5"/><circle cx="1752.3" cy="249.2" r="4.5"/><circle cx="1752.3" cy="271.7" r="4.5"/><circle cx="1745.6" cy="280.2" r="4.5"/><circle cx="1759.1" cy="278.2" r="4.5"/><circle cx="1786.4" cy="281.7" r="4.5"/><circle cx="1718.5" cy="287.1" r="4.5"/><circle cx="1731.8" cy="287.1" r="4.5"/><circle cx="1738.6" cy="290.2" r="4.5"/><circle cx="1752.3" cy="287.9" r="4.5"/><circle cx="1772.7" cy="287.1" r="4.5"/><circle cx="1765.9" cy="294.9" r="4.5"/><circle cx="1752.3" cy="303" r="4.5"/><circle cx="1745.6" cy="309.6" r="4.5"/><circle cx="1759.1" cy="322" r="4.5"/><circle cx="1710.3" cy="325.4" r="4.5"/><circle cx="1722.1" cy="328.2" r="4.5"/><circle cx="1734.3" cy="331.6" r="4.5"/><circle cx="1746.3" cy="336.7" r="4.5"/><circle cx="1758.3" cy="333.6" r="4.5"/><circle cx="1770.5" cy="329.7" r="4.5"/><circle cx="1782.5" cy="326.2" r="4.5"/><circle cx="1794.5" cy="325.1" r="4.5"/></g>
<polyline points="1418.5,395.2 1418.5,341.5 1514.1,341.5 1514.1,395.2" fill="none" stroke="#000" stroke-width="3" stroke-linejoin="round" stroke-linecap="round" stroke-linejoin="miter" stroke-linecap="butt"/>
<line x1="1466.3" y1="395.2" x2="1466.3" y2="404.7" stroke="#000" stroke-width="3"/>
<line x1="1466.3" y1="339.1" x2="1466.3" y2="343.3" stroke="#000" stroke-width="3"/>
<line x1="1441.7" y1="339.1" x2="1490.9" y2="339.1" stroke="#000" stroke-width="3"/>
<line x1="1441.7" y1="343.3" x2="1490.9" y2="343.3" stroke="#000" stroke-width="3"/>
<polyline points="1560.9,395.2 1560.9,341.7 1656.5,341.7 1656.5,395.2" fill="none" stroke="#000" stroke-width="3" stroke-linejoin="round" stroke-linecap="round" stroke-linejoin="miter" stroke-linecap="butt"/>
<line x1="1608.7" y1="395.2" x2="1608.7" y2="404.7" stroke="#000" stroke-width="3"/>
<line x1="1608.7" y1="340.1" x2="1608.7" y2="342.8" stroke="#000" stroke-width="3"/>
<line x1="1584.1" y1="340.1" x2="1633.3" y2="340.1" stroke="#000" stroke-width="3"/>
<line x1="1584.1" y1="342.8" x2="1633.3" y2="342.8" stroke="#000" stroke-width="3"/>
<polyline points="1704.7,395.2 1704.7,300.7 1800.3,300.7 1800.3,395.2" fill="none" stroke="#000" stroke-width="3" stroke-linejoin="round" stroke-linecap="round" stroke-linejoin="miter" stroke-linecap="butt"/>
<line x1="1752.5" y1="395.2" x2="1752.5" y2="404.7" stroke="#000" stroke-width="3"/>
<line x1="1752.5" y1="292.2" x2="1752.5" y2="305.3" stroke="#000" stroke-width="3"/>
<line x1="1727.9" y1="292.2" x2="1777.1" y2="292.2" stroke="#000" stroke-width="3"/>
<line x1="1727.9" y1="305.3" x2="1777.1" y2="305.3" stroke="#000" stroke-width="3"/>
<line x1="1370.3" y1="342.3" x2="1848.6" y2="342.3" stroke="#000" stroke-width="3" stroke-dasharray="11.5 8"/>
<text x="1758.8" y="164.2" font-size="42" font-weight="bold" text-anchor="middle" letter-spacing="4">****</text>
<text transform="translate(1477.5,416.9) rotate(-45)" font-size="25.5" font-weight="bold" text-anchor="end">Exploration</text>
<text transform="translate(1619.9,416.9) rotate(-45)" font-size="25.5" font-weight="bold" text-anchor="end">Dominance</text>
<text transform="translate(1763.7,416.9) rotate(-45)" font-size="25.5" font-weight="bold" text-anchor="end">Aggression</text>
<text x="1296.8" y="229.9" font-size="29.2" font-weight="bold" text-anchor="middle" transform="rotate(-90 1296.8 229.9)" textLength="174.3" lengthAdjust="spacingAndGlyphs">% Mean (LS)</text>
<text x="0" y="627.9" font-size="66">d</text>
<text x="220" y="645.6" font-size="31.5">Home cage</text>
<text x="533" y="645.6" font-size="31.5" fill="#939598">Novel environment</text>
<polyline points="163.3,758.6 165.2,772.2 167.1,769.1 169,766.6 170.9,770 172.8,765.9 174.7,765.9 176.6,765.9 178.5,772.7 180.4,770.2 182.3,770.2 184.2,770.2 186.1,766.6 188,765.4 189.9,768.5 191.8,769.1 193.7,769 195.6,768.7 197,770 198.2,730 199,730 200.2,771 201.3,767.6 203.2,767.6 205.1,771 207,771.6 208.9,772.5 210.8,765.2 212.7,772.1 214.6,772.7 216.5,765.8 218.4,771.1 220.3,765.9 222.2,772.5 224.4,770 225.6,762 226.4,762 227.6,771 229.8,769.5 231.7,766.6 233.6,766.2 235.5,766.1 237.4,766.8 239.3,772.6 241.2,767.5 243.1,766.8 245,771.7 246.9,766 248.8,766.8 250.7,771.1 252.6,771.1 254.5,765.9 256.4,767 258.3,768 260.2,772.5 262.1,770 263.3,757.6 264.1,757.6 265.3,771 265.9,772.1 267.8,772.1 269.7,770.8 271.6,766.7 273.5,771.9 275.4,771.9 277.3,765.5 279.2,767 281.1,767.2 283,769.7 284.9,766.5 286.8,765.7 288.4,770 289.6,760 290.4,760 291.6,771 292.5,772.2 294.4,765.3 296.6,770 297.8,747.5 298.6,747.5 299.8,771 302,768 303.9,772.7 305.8,770.5 307.7,770.5 309.6,765.3 311.5,770.5 313.4,765.4 315.3,768.9 317.2,767.6 319.1,765.8 321,770.8 322.9,770.8 324.8,771.2 326.7,767.9 328.6,772 330.5,768.4 332.4,771.8 334.3,769.9 336.2,769.6 338.1,765.8 340,772.7 341.9,770.7 343.8,770.8 345.7,768.5 347.4,770 348.6,762 349.4,762 350.6,771 351.4,768.9 353.3,770.5 355.2,769.9 357.1,769.9 359,767.5 360.9,767.5 362.8,772.1 364.7,768.6 366.6,767.7 369,770 370.2,664.3 371,664.3 372.2,777.6 374.2,769.6 376.1,766.2 378,771.6 379.9,770.6 381.8,770.6 383.7,768.6 385.6,766.8 387.5,770 389.4,767.6 391.3,772.7 393.2,772.7 395.1,772.7 397,770.6 398.9,767.5 400.8,767.5 401.4,770 402.6,751 403.4,751 404.6,771 406.5,771.5 408.4,770 410.3,770 412.2,771.3 414.1,771.3 416,771.3 417.9,765.3 419.8,765.3 421.7,767.3 423.6,770.5 425.5,769.9 427.4,768.2 429.3,768.2 431.2,772.3 433.1,766.2 435,770 436.9,768.1 438.8,771.9 440.7,772.4 442.6,770.2 444.6,770 445.8,746.8 446.6,746.8 447.8,771 450.2,772.7 452.1,769.3 454,767.6 455.9,771.7" fill="none" stroke="#231F20" stroke-width="3.8" stroke-linejoin="round" stroke-linecap="round"/>
<polyline points="457,770.6 458.9,770.6 460.8,767.1 462.7,769.1 464.6,772.2 466.5,771.2 468.4,768.1 470.3,768.2 472.2,767.4 474.1,767.6 476,769.6 477.9,769.6 479.8,767.5 481.7,767.5 483.6,774.5 485.5,767.9 487.4,768 489.3,768 491.2,768 493.1,768.3 495,770 496.9,771.5 498.8,771.5 500.4,771.8 501.6,764 502.4,764 503.6,772.8 504.5,769.7 506.4,772.2 508.3,767.9 510.2,769.8 512.1,773.2 514,767.2 515.9,770.3 517.8,768.7 519.7,770 521.3,771.8 522.5,744.8 523.3,744.8 524.5,772.8 525.4,767.3 527.3,769.6 529.2,767.4 531.1,768.6 533,770.6 534.9,770.7 536.8,768.3 538.7,768.3 540.6,772.7 542.5,767.1 544.4,772.9 546.3,772.9 548.2,767.3 550.1,774.5 552,774.5 553.9,769.5 555.8,773.3 557.7,768.7 559.6,770.6 561.5,769 563.4,769 565.3,769.2 567.2,769.1 569.1,770.9 571,772.4 572.9,769.2 574.8,772.2 576.7,768 578.6,770.2 580.5,770.3 582.4,771.3 584.3,774 586.2,772.8 588.1,771.5 590,773 591.9,769.6 593.8,772.6 595.7,767.1 597.6,773.9 599.5,773.8 601.4,771.1 603.3,771.1 605.2,769.7 607.1,774.1 609,771.1 610.9,767.9 612.8,772.3 614.7,768.9 616.6,769.5 618.5,769.5 620.4,769.4 622.3,772.8 624.2,774.1 626.1,767.2 628,767.2 629.9,772.1 631.8,768.8 633.7,768.8 635.6,769.7 637.5,768.5 639.4,768.7 641.3,770.8 643.2,768.2 645.1,771.6 647,768.9 648.9,773.5 650.8,768.7 652.7,772.8 654.6,772.1 656.5,774.4 658.4,772.2 660.3,772.6 662.2,770.8 664.1,770.8 666,768.7 666.7,771.8 667.9,689 668.7,689 669.9,779 671.7,774.1 673,771.8 674.2,760 675,760 676.2,772.8 677.4,768 679.3,773.4 681.7,771.8 682.9,756 683.7,756 684.9,772.8 686.9,769.9 688.8,769.9 690.7,768.6 692.6,774.4 694.5,767.4 696.4,773.6 698.3,769.7 700.2,769.7 702.1,773.6 704,768.6 705.9,767.2 707.8,767.2 709.7,768.2 711.6,768.2 713.5,768.4 715.4,773.6 717.3,767.8 719.2,771.1 721.1,771 723,773.1 724.9,771.8 726.8,771.8 728.7,770.2 730.6,772.4 732.5,774 734.4,773.5 736.3,774.3 738.2,770.2 740.1,771.6 742,771.6 743.9,771.6 745.8,771.6 747.7,767.1 749.9,771.8 751.1,678.7 751.9,678.7 753.1,780 755.3,774.3 757.2,768.7 759.1,770.6 761,772.8 762.9,771.1 764.8,771.1 766.7,771.6 768.6,774.5 770.5,774.1 772.4,769.3" fill="none" stroke="#D1CEC7" stroke-width="3.8" stroke-linejoin="round" stroke-linecap="round"/>
<line x1="679.2" y1="796.6" x2="775.8" y2="796.6" stroke="#231F20" stroke-width="3.1" stroke-linecap="round"/>
<text x="723.9" y="820.4" font-size="20.5" text-anchor="middle">100 s</text>
<text x="0" y="868.5" font-size="66">e</text>
<text x="53" y="903.3" font-size="31.5" fill="#939598">Novel object</text>
<text x="53" y="941.4" font-size="31.5" fill="#939598">exploration</text>
<rect x="234.3" y="902.4" width="18.7" height="12.4" fill="#D1CEC7"/>
<rect x="258.7" y="902.4" width="30.8" height="12.4" fill="#D1CEC7"/>
<rect x="310" y="902.4" width="42.8" height="12.4" fill="#D1CEC7"/>
<rect x="418.3" y="902.4" width="22.4" height="12.4" fill="#D1CEC7"/>
<rect x="445.6" y="902.4" width="19" height="12.4" fill="#D1CEC7"/>
<rect x="488" y="902.4" width="25" height="12.4" fill="#D1CEC7"/>
<rect x="602.7" y="902.4" width="22" height="12.4" fill="#D1CEC7"/>
<rect x="645.2" y="902.4" width="24.8" height="12.4" fill="#D1CEC7"/>
<rect x="676" y="902.4" width="63.4" height="12.4" fill="#D1CEC7"/>
<path d="M162.2,1017.6 C162.5,1019.4 162.9,1027.0 163.6,1028.1 C164.3,1029.2 165.5,1025.2 166.4,1024.3 C167.4,1023.3 168.5,1022.4 169.3,1022.4 C170.1,1022.4 170.4,1022.9 171.2,1024.3 C172.0,1025.7 173.1,1031.0 174.0,1031.0 C175.0,1031.0 176.0,1025.6 176.9,1024.3 C177.9,1023.0 178.7,1023.2 179.8,1023.3 C180.9,1023.5 182.3,1024.6 183.6,1025.2 C184.8,1025.9 186.1,1025.4 187.4,1027.1 C188.7,1028.9 189.9,1035.4 191.2,1035.7 C192.5,1036.0 193.9,1030.2 195.0,1029.0 C196.1,1027.9 196.6,1028.4 197.9,1029.0 C199.1,1029.7 201.0,1033.2 202.6,1032.9 C204.2,1032.5 205.8,1027.6 207.4,1027.1 C209.0,1026.7 210.7,1029.5 212.1,1030.0 C213.6,1030.5 214.7,1029.8 216.0,1030.0 C217.2,1030.2 218.7,1030.6 219.8,1031.0 C220.9,1031.3 221.7,1030.5 222.6,1031.9 C223.6,1033.3 224.5,1042.1 225.5,1039.5 C226.4,1037.0 227.4,1024.3 228.3,1016.7 C229.3,1009.0 230.4,996.7 231.2,993.8 C232.0,991.0 232.5,994.4 233.1,999.5 C233.7,1004.6 234.3,1018.7 235.0,1024.3 C235.7,1029.8 236.2,1032.7 237.3,1032.9 C238.4,1033.0 240.5,1026.3 241.7,1025.2 C242.9,1024.1 243.6,1025.1 244.5,1026.2 C245.5,1027.3 246.1,1032.5 247.4,1031.9 C248.7,1031.3 250.9,1022.7 252.1,1022.4 C253.4,1022.1 254.0,1029.0 255.0,1030.0 C256.0,1031.0 256.3,1028.6 257.9,1028.1 C259.4,1027.6 262.6,1027.0 264.5,1027.1 C266.4,1027.3 267.7,1028.4 269.3,1029.0 C270.9,1029.7 272.5,1031.3 274.0,1031.0 C275.6,1030.6 277.4,1027.3 278.8,1027.1 C280.2,1027.0 281.2,1030.5 282.6,1030.0 C284.0,1029.5 285.8,1024.0 287.4,1024.3 C289.0,1024.6 290.7,1031.7 292.1,1031.9 C293.6,1032.1 294.7,1025.7 296.0,1025.2 C297.2,1024.8 298.5,1028.3 299.8,1029.0 C301.0,1029.8 302.3,1030.2 303.6,1030.0 C304.8,1029.8 306.1,1027.9 307.4,1027.7 C308.7,1027.6 310.1,1028.8 311.2,1029.0 C312.3,1029.3 313.1,1031.3 314.0,1029.0 C315.0,1026.8 316.0,1015.2 316.9,1015.7 C317.9,1016.2 319.0,1030.8 319.8,1031.9 C320.6,1033.0 320.9,1024.3 321.7,1022.4 C322.5,1020.5 323.6,1019.0 324.5,1020.5 C325.5,1021.9 325.8,1031.9 327.4,1031.0 C329.0,1030.0 332.1,1014.8 334.0,1014.8 C336.0,1014.8 336.7,1031.1 338.8,1031.0 C340.9,1030.8 343.9,1014.0 346.4,1013.8 C349.0,1013.7 351.7,1029.4 354.0,1030.0 C356.4,1030.6 358.8,1017.6 360.7,1017.6 C362.6,1017.6 364.2,1028.1 365.5,1030.0 C366.7,1031.9 367.2,1028.9 368.3,1029.0 C369.4,1029.2 370.9,1031.0 372.1,1031.0 C373.4,1031.0 375.0,1028.1 376.0,1029.0 C376.9,1030.0 377.1,1042.2 377.9,1036.7 C378.7,1031.1 379.8,1006.5 380.7,995.7 C381.7,984.9 382.6,971.9 383.6,971.9 C384.5,971.9 385.3,985.2 386.4,995.7 C387.5,1006.2 389.1,1029.0 390.2,1034.8 C391.3,1040.5 392.0,1030.8 393.1,1030.0 C394.2,1029.2 395.3,1031.6 396.9,1030.0 C398.5,1028.4 401.0,1020.5 402.6,1020.5 C404.2,1020.5 405.0,1031.0 406.4,1030.0 C407.9,1029.0 409.6,1013.8 411.2,1014.8 C412.8,1015.7 414.5,1034.3 416.0,1035.7 C417.4,1037.1 418.5,1025.2 419.8,1023.3 C421.0,1021.4 422.5,1023.2 423.6,1024.3 C424.7,1025.4 425.2,1030.5 426.4,1030.0 C427.7,1029.5 429.8,1021.9 431.2,1021.4 C432.6,1021.0 433.6,1027.6 435.0,1027.1 C436.4,1026.7 438.2,1018.1 439.8,1018.6 C441.3,1019.0 442.9,1032.9 444.5,1030.0 C446.1,1027.1 448.0,1007.9 449.3,1001.4 C450.6,994.9 451.0,991.0 452.1,991.0 C453.3,991.0 454.5,995.2 456.0,1001.4 C457.4,1007.6 459.1,1022.9 460.7,1028.1 C462.3,1033.3 464.0,1032.7 465.5,1032.9 C466.9,1033.0 467.7,1029.2 469.3,1029.0 C470.9,1028.9 473.3,1031.9 475.0,1031.9 C476.7,1031.9 477.8,1029.7 479.5,1029.0 C481.2,1028.4 483.8,1027.6 485.2,1028.1 C486.7,1028.6 487.0,1032.9 488.1,1031.9 C489.2,1031.0 490.6,1021.3 491.9,1022.4 C493.2,1023.5 494.4,1037.8 495.7,1038.6 C497.0,1039.4 498.1,1028.4 499.5,1027.1 C501.0,1025.9 502.9,1030.8 504.3,1031.0 C505.7,1031.1 506.7,1029.2 508.1,1028.1 C509.5,1027.0 511.3,1024.4 512.9,1024.3 C514.4,1024.1 516.0,1027.8 517.6,1027.1 C519.2,1026.5 520.8,1021.6 522.4,1020.5 C524.0,1019.4 525.7,1020.5 527.1,1020.5 C528.6,1020.4 529.8,1019.6 531.0,1020.1 C532.1,1020.6 532.7,1023.4 533.8,1023.3 C534.9,1023.2 536.3,1016.3 537.6,1019.5 C538.9,1022.7 540.2,1052.7 541.4,1042.4 C542.7,1032.1 544.2,977.8 545.2,957.6 C546.3,937.5 546.9,921.4 547.7,921.4 C548.5,921.4 549.0,938.7 550.0,957.6 C551.0,976.5 552.5,1023.8 553.8,1034.8 C555.1,1045.7 556.5,1024.1 557.6,1023.3 C558.7,1022.5 559.4,1029.7 560.5,1030.0 C561.6,1030.3 562.9,1024.9 564.3,1025.2 C565.7,1025.6 567.5,1031.4 569.0,1031.9 C570.6,1032.4 572.1,1028.6 573.8,1028.1 C575.6,1027.6 577.5,1030.0 579.5,1029.0 C581.6,1028.1 584.1,1021.9 586.2,1022.4 C588.3,1022.9 589.7,1032.2 591.9,1031.9 C594.1,1031.6 597.1,1020.3 599.5,1020.5 C601.9,1020.6 604.3,1031.7 606.2,1032.9 C608.1,1034.0 609.2,1027.6 611.0,1027.1 C612.7,1026.7 614.9,1029.4 616.7,1030.0 C618.4,1030.6 619.6,1033.5 621.4,1031.0 C623.3,1028.4 625.7,1015.6 627.7,1014.8 C629.8,1014.0 631.5,1023.8 633.8,1026.2 C636.1,1028.6 639.0,1028.4 641.4,1029.0 C643.8,1029.7 645.7,1031.0 648.1,1030.0 C650.5,1029.0 653.0,1023.0 655.7,1023.3 C658.4,1023.7 661.6,1033.5 664.3,1031.9 C667.0,1030.3 669.5,1014.0 671.9,1013.8 C674.3,1013.7 676.5,1028.4 678.6,1031.0 C680.6,1033.5 682.7,1029.2 684.3,1029.0 C685.9,1028.9 686.3,1031.3 688.1,1030.0 C689.8,1028.7 692.5,1021.4 694.8,1021.4 C697.0,1021.4 699.2,1028.3 701.4,1030.0 C703.7,1031.7 706.2,1032.4 708.1,1031.9 C710.0,1031.4 711.6,1027.5 712.9,1027.1 C714.1,1026.8 714.3,1031.4 715.7,1030.0 C717.1,1028.6 719.7,1018.1 721.4,1018.6 C723.2,1019.0 724.4,1031.0 726.2,1032.9 C727.9,1034.8 730.5,1037.8 731.9,1030.0 C733.3,1022.2 733.8,997.1 734.8,986.2 C735.7,975.2 736.7,964.3 737.6,964.3 C738.6,964.3 739.4,974.8 740.5,986.2 C741.6,997.6 742.9,1025.9 744.3,1032.9 C745.7,1039.8 747.5,1028.6 749.0,1028.1 C750.6,1027.6 752.1,1030.1 753.8,1030.0 C755.6,1029.9 757.6,1027.7 759.5,1027.7 C761.4,1027.7 764.0,1029.1 765.2,1030.0 C766.5,1030.9 766.0,1033.4 767.1,1032.9 C768.3,1032.3 770.3,1027.0 771.9,1026.6 C773.5,1026.1 775.1,1029.3 776.7,1030.0 C778.3,1030.7 780.6,1030.8 781.4,1031.0" fill="none" stroke="#231F20" stroke-width="2.8" stroke-linejoin="round" stroke-linecap="round"/>
<line x1="704" y1="1052.2" x2="779.4" y2="1052.2" stroke="#231F20" stroke-width="3.1" stroke-linecap="round"/>
<text x="744.5" y="1077.5" font-size="20.5" text-anchor="middle">50 s</text>
<text x="0" y="1113.2" font-size="66">f</text>
<text x="184.5" y="1173.7" font-size="31.5" fill="#939598">Feeding</text>
<rect x="317.2" y="1159.5" width="45.4" height="12.3" fill="#D1CEC7"/>
<rect x="373.4" y="1159.5" width="35.6" height="12.3" fill="#D1CEC7"/>
<rect x="422" y="1159.5" width="40.2" height="12.3" fill="#D1CEC7"/>
<rect x="532" y="1159.5" width="22.4" height="12.3" fill="#D1CEC7"/>
<rect x="736" y="1159.5" width="45.9" height="12.3" fill="#D1CEC7"/>
<path d="M165.5,1234.3 C165.8,1235.9 166.6,1243.5 167.4,1243.8 C168.2,1244.1 169.3,1237.8 170.2,1236.2 C171.2,1234.6 172.1,1234.0 173.1,1234.3 C174.0,1234.6 175.0,1236.8 176.0,1238.1 C176.9,1239.4 177.9,1242.2 178.8,1241.9 C179.8,1241.6 180.7,1237.9 181.7,1236.2 C182.6,1234.4 183.6,1231.3 184.5,1231.4 C185.5,1231.6 186.6,1235.4 187.4,1237.1 C188.2,1238.9 188.3,1241.6 189.3,1241.9 C190.2,1242.2 191.8,1239.2 193.1,1239.0 C194.4,1238.9 195.6,1240.5 196.9,1241.0 C198.2,1241.4 199.6,1242.2 200.7,1241.9 C201.8,1241.6 202.5,1238.7 203.6,1239.0 C204.7,1239.4 206.1,1243.7 207.4,1243.8 C208.7,1244.0 210.1,1240.5 211.2,1240.0 C212.3,1239.5 212.9,1240.3 214.0,1241.0 C215.2,1241.6 216.4,1244.4 217.9,1243.8 C219.3,1243.2 221.0,1237.0 222.6,1237.1 C224.2,1237.2 226.0,1243.7 227.4,1244.4 C228.8,1245.0 229.9,1241.5 231.2,1241.0 C232.5,1240.4 233.6,1241.0 235.0,1241.0 C236.4,1240.9 238.2,1240.8 239.8,1240.6 C241.3,1240.3 243.1,1239.2 244.5,1239.4 C246.0,1239.7 246.9,1242.5 248.3,1241.9 C249.8,1241.3 251.8,1236.3 253.1,1235.6 C254.4,1235.0 255.0,1236.7 256.0,1238.1 C256.9,1239.5 257.9,1243.3 258.8,1243.8 C259.8,1244.3 260.6,1241.1 261.7,1241.0 C262.8,1240.8 264.2,1242.8 265.5,1242.9 C266.7,1242.9 267.9,1241.7 269.3,1241.3 C270.7,1241.0 272.5,1243.2 274.0,1240.6 C275.6,1238.0 277.4,1225.5 278.8,1225.7 C280.2,1225.9 281.3,1239.2 282.6,1241.9 C283.9,1244.6 285.2,1241.9 286.4,1241.9 C287.7,1241.9 288.8,1242.9 290.2,1241.9 C291.7,1241.0 293.4,1235.6 295.0,1236.2 C296.6,1236.8 298.5,1246.0 299.8,1245.7 C301.0,1245.4 301.7,1238.3 302.6,1234.3 C303.6,1230.3 304.5,1221.7 305.5,1221.9 C306.4,1222.1 307.5,1231.4 308.3,1235.2 C309.1,1239.0 309.4,1243.8 310.2,1244.8 C311.0,1245.7 312.1,1241.7 313.1,1241.0 C314.0,1240.2 314.7,1242.7 316.0,1240.0 C317.2,1237.3 319.3,1225.2 320.7,1224.8 C322.1,1224.3 323.3,1234.0 324.5,1237.1 C325.8,1240.3 327.1,1243.2 328.3,1243.8 C329.6,1244.4 330.7,1241.4 332.1,1241.0 C333.6,1240.5 335.3,1241.1 336.9,1241.0 C338.5,1240.8 340.1,1241.2 341.7,1240.0 C343.3,1238.8 345.0,1233.2 346.4,1233.7 C347.9,1234.2 349.0,1241.7 350.2,1242.9 C351.5,1244.1 352.9,1241.3 354.0,1241.0 C355.2,1240.6 355.8,1242.1 356.9,1241.0 C358.0,1239.8 359.4,1234.4 360.7,1234.3 C362.0,1234.1 363.3,1238.6 364.5,1240.0 C365.8,1241.4 367.1,1243.7 368.3,1242.9 C369.6,1242.1 370.9,1235.1 372.1,1235.2 C373.4,1235.4 374.7,1242.9 376.0,1243.8 C377.2,1244.8 378.5,1241.5 379.8,1241.0 C381.0,1240.4 382.1,1240.3 383.6,1240.6 C385.0,1240.9 386.6,1244.3 388.3,1242.9 C390.1,1241.4 392.5,1231.8 394.0,1231.8 C395.6,1231.8 396.4,1241.8 397.9,1242.9 C399.3,1243.9 400.9,1239.0 402.6,1238.1 C404.4,1237.1 406.4,1237.5 408.3,1237.1 C410.2,1236.8 412.1,1235.2 414.0,1236.2 C416.0,1237.1 417.9,1242.9 419.8,1242.9 C421.7,1242.9 423.7,1236.8 425.5,1236.2 C427.2,1235.6 428.7,1238.1 430.2,1239.0 C431.8,1240.0 433.6,1241.6 435.0,1241.9 C436.4,1242.2 437.1,1243.7 438.8,1241.0 C440.6,1238.3 443.7,1227.0 445.5,1225.7 C447.2,1224.4 448.2,1230.3 449.3,1233.3 C450.4,1236.3 450.9,1244.3 452.1,1243.8 C453.4,1243.3 455.5,1230.3 456.9,1230.5 C458.3,1230.6 459.4,1243.0 460.7,1244.8 C462.0,1246.5 463.3,1242.2 464.5,1241.0 C465.8,1239.7 466.9,1237.1 468.3,1237.1 C469.8,1237.1 471.5,1240.5 473.1,1241.0 C474.6,1241.4 475.9,1240.0 477.6,1240.0 C479.3,1240.0 481.4,1240.7 483.3,1241.0 C485.2,1241.2 487.8,1241.0 489.0,1241.3 C490.3,1241.7 489.8,1244.2 491.0,1242.9 C492.1,1241.5 494.0,1233.5 495.7,1233.3 C497.5,1233.2 499.5,1242.2 501.4,1241.9 C503.3,1241.6 505.2,1231.4 507.1,1231.4 C509.0,1231.4 511.3,1241.4 512.9,1241.9 C514.4,1242.4 515.6,1234.9 516.7,1234.3 C517.8,1233.7 518.5,1240.3 519.5,1238.1 C520.6,1235.9 521.7,1220.2 523.0,1221.0 C524.2,1221.7 525.4,1240.3 526.8,1242.9 C528.1,1245.4 529.3,1235.9 531.0,1236.2 C532.6,1236.4 534.4,1244.4 536.7,1244.4 C538.9,1244.4 541.7,1236.8 544.3,1236.2 C546.8,1235.6 549.8,1240.5 551.9,1241.0 C554.0,1241.4 554.9,1238.6 556.7,1239.0 C558.4,1239.5 560.6,1243.5 562.4,1243.8 C564.1,1244.1 565.4,1243.0 567.1,1241.0 C568.9,1238.9 571.0,1230.8 572.9,1231.4 C574.7,1232.1 576.6,1242.9 578.2,1244.8 C579.8,1246.7 581.0,1243.7 582.4,1242.9 C583.7,1242.1 584.8,1239.7 586.2,1240.0 C587.6,1240.3 588.7,1245.8 591.0,1244.4 C593.2,1243.0 596.5,1231.5 599.5,1231.4 C602.5,1231.3 606.7,1242.9 609.0,1243.8 C611.4,1244.7 611.9,1237.3 613.8,1236.8 C615.7,1236.2 618.6,1239.7 620.5,1240.6 C622.4,1241.4 623.8,1241.8 625.2,1241.9 C626.7,1242.0 627.9,1240.5 629.0,1241.0 C630.2,1241.4 630.8,1250.5 631.9,1244.8 C633.0,1239.0 634.4,1206.8 635.7,1206.7 C637.0,1206.5 638.3,1238.3 639.5,1243.8 C640.8,1249.4 641.9,1241.0 643.3,1240.0 C644.8,1239.0 646.5,1237.8 648.1,1238.1 C649.7,1238.4 650.8,1241.9 652.9,1241.9 C654.9,1241.9 657.9,1237.9 660.5,1238.1 C663.0,1238.3 665.9,1242.7 668.1,1243.2 C670.3,1243.8 671.6,1241.7 673.8,1241.3 C676.0,1241.0 678.9,1241.7 681.4,1241.0 C684.0,1240.2 687.0,1236.2 689.0,1236.8 C691.1,1237.3 691.9,1244.0 693.8,1244.4 C695.7,1244.8 698.4,1239.8 700.5,1239.0 C702.5,1238.3 704.3,1239.6 706.2,1240.0 C708.1,1240.4 710.2,1240.7 711.9,1241.3 C713.7,1242.0 715.2,1246.7 716.7,1243.8 C718.1,1240.9 719.0,1224.0 720.5,1223.8 C721.9,1223.7 724.0,1239.8 725.2,1242.9 C726.5,1245.9 727.1,1241.3 728.1,1241.9 C729.0,1242.5 729.6,1254.2 731.0,1246.3 C732.3,1238.3 734.7,1194.9 736.3,1194.3 C737.9,1193.7 739.1,1235.1 740.5,1242.9 C741.8,1250.6 743.0,1241.2 744.3,1241.0 C745.6,1240.7 746.5,1243.9 748.1,1241.3 C749.7,1238.8 751.9,1226.7 753.8,1225.7 C755.7,1224.7 757.9,1233.5 759.5,1235.2 C761.1,1237.0 762.1,1235.1 763.3,1236.2 C764.6,1237.3 765.9,1241.2 767.1,1241.9 C768.4,1242.6 769.7,1240.6 771.0,1240.6 C772.2,1240.6 773.7,1241.8 774.8,1241.9 C775.9,1242.0 776.5,1240.8 777.6,1241.0 C778.7,1241.1 780.8,1242.5 781.4,1242.9" fill="none" stroke="#231F20" stroke-width="2.8" stroke-linejoin="round" stroke-linecap="round"/>
<line x1="709.1" y1="1268.6" x2="773.5" y2="1268.6" stroke="#231F20" stroke-width="3.1" stroke-linecap="round"/>
<text x="747.7" y="1291.6" font-size="20.8" text-anchor="middle">50 s</text>
<text x="0" y="1350" font-size="66">g</text>
<text x="103.5" y="1410" font-size="31.5" fill="#939598">Female</text>
<text x="103.5" y="1449" font-size="31.5" fill="#939598">exploration</text>
<rect x="223.5" y="1404.2" width="92.8" height="11.8" fill="#D1CEC7"/>
<rect x="389" y="1404.2" width="18.5" height="11.8" fill="#D1CEC7"/>
<rect x="449.5" y="1404.2" width="24.5" height="11.8" fill="#D1CEC7"/>
<rect x="491.5" y="1404.2" width="46.8" height="11.8" fill="#D1CEC7"/>
<rect x="620.8" y="1404.2" width="39.5" height="11.8" fill="#D1CEC7"/>
<rect x="664.7" y="1404.2" width="113.7" height="11.8" fill="#D1CEC7"/>
<path d="M163.6,1539.5 C164.0,1539.8 165.5,1542.5 166.4,1541.4 C167.4,1540.3 168.3,1534.6 169.3,1532.9 C170.2,1531.1 171.3,1530.5 172.1,1531.0 C172.9,1531.4 173.4,1535.7 174.0,1535.7 C174.7,1535.7 175.3,1533.0 176.0,1531.0 C176.7,1528.9 177.5,1523.3 178.2,1523.3 C178.9,1523.3 179.4,1530.2 180.1,1531.0 C180.9,1531.7 181.7,1526.8 182.6,1528.1 C183.5,1529.4 184.5,1536.3 185.5,1538.6 C186.4,1540.8 187.1,1542.1 188.3,1541.4 C189.6,1540.8 191.7,1536.2 193.1,1534.8 C194.5,1533.3 195.5,1531.9 196.9,1532.9 C198.3,1533.8 200.2,1539.8 201.7,1540.5 C203.1,1541.1 204.2,1536.5 205.5,1536.7 C206.7,1536.8 208.0,1541.4 209.3,1541.4 C210.6,1541.4 211.7,1537.6 213.1,1536.7 C214.5,1535.7 216.6,1536.2 217.9,1535.7 C219.1,1535.2 219.8,1532.9 220.7,1533.8 C221.7,1534.8 222.8,1541.7 223.6,1541.4 C224.4,1541.1 224.7,1531.7 225.5,1531.9 C226.3,1532.1 227.4,1542.2 228.3,1542.4 C229.3,1542.5 230.1,1534.9 231.2,1532.9 C232.3,1530.8 233.9,1528.6 235.0,1530.0 C236.1,1531.4 236.9,1541.0 237.9,1541.4 C238.8,1541.9 239.6,1533.8 240.7,1532.9 C241.8,1531.9 243.4,1536.0 244.5,1535.7 C245.6,1535.4 246.4,1529.8 247.4,1531.0 C248.3,1532.1 249.3,1541.6 250.2,1542.4 C251.2,1543.2 251.8,1537.3 253.1,1535.7 C254.4,1534.1 256.3,1532.5 257.9,1532.9 C259.4,1533.2 261.0,1536.7 262.6,1537.6 C264.2,1538.6 266.0,1538.9 267.4,1538.6 C268.8,1538.3 269.9,1536.8 271.2,1535.7 C272.5,1534.6 273.4,1531.0 275.0,1531.9 C276.6,1532.9 279.1,1540.8 280.7,1541.4 C282.3,1542.1 283.3,1535.6 284.5,1535.7 C285.8,1535.9 287.1,1542.2 288.3,1542.4 C289.6,1542.5 290.7,1537.0 292.1,1536.7 C293.6,1536.3 295.5,1540.3 296.9,1540.5 C298.3,1540.6 299.6,1537.0 300.7,1537.6 C301.8,1538.3 302.5,1544.3 303.6,1544.3 C304.7,1544.3 306.3,1539.0 307.4,1537.6 C308.5,1536.2 309.3,1536.9 310.2,1535.7 C311.2,1534.5 312.1,1530.6 313.1,1530.6 C314.0,1530.6 315.0,1535.0 316.0,1535.7 C316.9,1536.4 317.9,1534.1 318.8,1534.8 C319.8,1535.4 320.6,1538.9 321.7,1539.5 C322.8,1540.2 324.2,1540.6 325.5,1538.6 C326.7,1536.5 328.0,1527.8 329.3,1527.1 C330.6,1526.5 332.0,1533.2 333.1,1534.8 C334.2,1536.3 334.8,1535.9 336.0,1536.7 C337.1,1537.5 338.5,1539.7 339.8,1539.5 C341.0,1539.4 342.5,1535.4 343.6,1535.7 C344.7,1536.0 345.5,1541.4 346.4,1541.4 C347.4,1541.4 348.2,1536.5 349.3,1535.7 C350.4,1534.9 352.0,1537.3 353.1,1536.7 C354.2,1536.0 355.2,1531.0 356.0,1531.9 C356.7,1532.9 357.1,1542.9 357.9,1542.4 C358.6,1541.9 359.5,1529.2 360.3,1529.0 C361.1,1528.9 361.9,1541.9 362.6,1541.4 C363.4,1541.0 364.1,1526.0 364.9,1526.2 C365.7,1526.3 366.3,1541.3 367.4,1542.4 C368.4,1543.5 370.1,1535.7 371.2,1532.9 C372.2,1530.0 372.8,1524.0 373.7,1525.2 C374.5,1526.5 375.5,1537.6 376.3,1540.5 C377.2,1543.3 377.9,1543.8 378.8,1542.4 C379.8,1541.0 380.9,1532.5 382.0,1531.9 C383.2,1531.3 384.0,1537.1 385.5,1538.6 C387.0,1540.0 389.3,1540.8 391.2,1540.5 C393.1,1540.2 395.3,1536.8 396.9,1536.7 C398.5,1536.5 399.4,1539.8 400.7,1539.5 C402.0,1539.2 403.3,1534.6 404.5,1534.8 C405.8,1534.9 406.9,1540.8 408.3,1540.5 C409.8,1540.2 411.5,1533.0 413.1,1532.9 C414.7,1532.7 416.4,1538.3 417.9,1539.5 C419.3,1540.7 420.4,1542.2 421.7,1540.1 C422.9,1538.0 424.2,1526.9 425.5,1527.1 C426.7,1527.4 427.7,1540.9 429.3,1541.4 C430.9,1542.0 433.4,1531.5 435.0,1530.6 C436.6,1529.6 437.5,1534.2 438.8,1535.7 C440.1,1537.2 441.3,1539.2 442.6,1539.5 C443.9,1539.8 445.2,1537.3 446.4,1537.6 C447.7,1537.9 448.7,1544.3 450.2,1541.4 C451.8,1538.6 454.4,1521.6 456.0,1520.5 C457.5,1519.4 458.5,1531.7 459.8,1534.8 C461.0,1537.8 462.3,1538.1 463.6,1538.6 C464.8,1539.0 466.1,1538.1 467.4,1537.6 C468.7,1537.1 470.3,1534.8 471.2,1535.7 C472.1,1536.6 471.9,1542.9 472.9,1542.9 C473.8,1542.8 475.4,1535.6 476.7,1535.2 C477.9,1534.9 479.2,1541.4 480.5,1541.0 C481.7,1540.5 483.2,1532.5 484.3,1532.4 C485.4,1532.2 486.2,1539.4 487.1,1540.0 C488.1,1540.6 489.0,1536.0 490.0,1536.2 C491.0,1536.3 491.9,1542.9 492.9,1541.0 C493.8,1539.0 494.8,1524.8 495.7,1524.8 C496.7,1524.8 497.5,1538.7 498.6,1541.0 C499.7,1543.2 500.8,1538.3 502.4,1538.1 C504.0,1537.9 506.2,1539.9 508.1,1539.6 C510.0,1539.3 512.2,1535.8 513.8,1536.2 C515.4,1536.6 516.3,1541.3 517.6,1541.9 C518.9,1542.5 520.2,1541.0 521.4,1540.0 C522.7,1539.0 524.0,1536.3 525.2,1536.2 C526.5,1536.1 527.8,1539.2 529.0,1539.6 C530.3,1540.0 531.4,1537.9 532.9,1538.5 C534.3,1539.0 536.3,1544.3 537.6,1542.9 C539.0,1541.4 539.9,1530.0 540.9,1529.5 C541.8,1529.0 542.4,1539.0 543.3,1540.0 C544.2,1541.0 545.1,1535.7 546.2,1535.8 C547.3,1536.0 548.7,1539.5 550.0,1541.0 C551.3,1542.4 552.8,1548.1 553.8,1544.8 C554.8,1541.4 555.3,1530.0 556.1,1521.0 C556.9,1511.9 557.7,1490.5 558.6,1490.5 C559.5,1490.5 560.6,1512.2 561.4,1521.0 C562.2,1529.7 562.4,1540.0 563.3,1542.9 C564.3,1545.7 565.9,1541.0 567.1,1538.1 C568.3,1535.2 569.6,1524.1 570.6,1525.7 C571.6,1527.4 572.2,1546.3 573.2,1548.0 C574.3,1549.7 575.1,1537.7 576.7,1536.2 C578.2,1534.7 580.8,1538.4 582.4,1539.0 C584.0,1539.7 584.9,1540.5 586.2,1540.0 C587.5,1539.5 588.7,1536.2 590.0,1536.2 C591.3,1536.2 592.7,1539.8 593.8,1540.0 C594.9,1540.2 595.6,1537.3 596.7,1537.1 C597.8,1537.0 599.4,1539.1 600.5,1539.0 C601.6,1539.0 602.5,1536.1 603.3,1536.6 C604.2,1537.0 604.5,1541.5 605.6,1541.9 C606.7,1542.3 608.2,1540.0 610.0,1539.0 C611.8,1538.1 614.6,1536.0 616.7,1536.2 C618.7,1536.3 620.8,1538.7 622.4,1540.0 C624.0,1541.3 625.1,1545.7 626.2,1543.8 C627.3,1541.9 628.1,1531.6 629.0,1528.6 C630.0,1525.6 631.0,1528.7 631.9,1525.7 C632.9,1522.7 633.8,1507.6 634.8,1510.5 C635.7,1513.3 636.8,1538.4 637.6,1542.9 C638.4,1547.3 638.7,1536.8 639.5,1537.1 C640.3,1537.5 641.0,1549.5 642.4,1544.8 C643.7,1540.0 646.1,1509.0 647.5,1508.6 C649.0,1508.1 650.1,1536.8 651.0,1541.9 C651.8,1547.0 652.1,1537.5 652.9,1539.0 C653.7,1540.6 654.6,1561.7 655.7,1551.4 C656.8,1541.1 658.3,1477.8 659.5,1477.1 C660.8,1476.5 662.2,1537.6 663.3,1547.6 C664.4,1557.6 664.8,1538.7 666.2,1537.1 C667.6,1535.6 670.3,1538.1 671.9,1538.1 C673.5,1538.1 674.4,1537.0 675.7,1537.1 C677.0,1537.3 678.3,1539.4 679.5,1539.0 C680.8,1538.7 682.1,1536.3 683.3,1535.2 C684.5,1534.1 685.5,1531.9 686.8,1532.4 C688.0,1532.9 689.6,1537.3 691.0,1538.1 C692.3,1538.9 693.6,1536.6 694.8,1537.1 C696.0,1537.7 697.1,1544.9 698.2,1541.5 C699.3,1538.2 700.4,1518.8 701.4,1517.1 C702.4,1515.5 703.3,1530.0 704.3,1531.4 C705.2,1532.9 706.0,1524.3 707.1,1525.7 C708.3,1527.1 709.5,1538.1 711.0,1540.0 C712.4,1541.9 714.0,1536.8 715.7,1537.1 C717.5,1537.5 719.8,1541.4 721.4,1541.9 C723.0,1542.4 723.8,1541.1 725.2,1540.0 C726.7,1538.9 728.4,1535.6 730.0,1535.2 C731.6,1534.9 733.3,1537.8 734.8,1538.1 C736.2,1538.4 737.3,1537.1 738.6,1537.1 C739.8,1537.1 741.0,1538.3 742.4,1538.1 C743.8,1537.9 745.7,1536.0 747.1,1536.2 C748.6,1536.3 749.5,1538.8 751.0,1539.0 C752.4,1539.3 754.3,1536.3 755.7,1537.7 C757.1,1539.1 758.4,1556.4 759.5,1547.6 C760.6,1538.8 761.4,1484.1 762.4,1484.8 C763.3,1485.4 764.3,1543.3 765.2,1551.4 C766.2,1559.5 767.2,1534.4 768.1,1533.3 C769.0,1532.2 769.8,1545.7 770.6,1544.8 C771.4,1543.8 772.5,1530.5 772.9,1527.6" fill="none" stroke="#231F20" stroke-width="2.8" stroke-linejoin="round" stroke-linecap="round"/>
<line x1="709.1" y1="1570.4" x2="757.7" y2="1570.4" stroke="#231F20" stroke-width="3.1" stroke-linecap="round"/>
<text x="737.9" y="1591.4" font-size="20.8" text-anchor="middle">50 s</text>
<text x="0" y="1613.2" font-size="66">h</text>
<text x="241.6" y="1655.4" font-size="31.5" fill="#939598">Prey-aggression</text>
<rect x="471" y="1639.8" width="101.5" height="13.2" fill="#D1CEC7"/>
<rect x="593.5" y="1639.8" width="42.5" height="13.2" fill="#D1CEC7"/>
<rect x="638.4" y="1639.8" width="154.6" height="13.2" fill="#D1CEC7"/>
<path d="M164.1,1770.5 C164.5,1771.4 165.4,1774.9 166.4,1776.2 C167.4,1777.5 168.5,1778.5 170.2,1778.5 C172.0,1778.5 175.0,1776.3 176.9,1776.2 C178.8,1776.1 180.1,1777.4 181.7,1777.7 C183.3,1778.0 184.8,1778.3 186.4,1778.1 C188.0,1777.8 189.4,1777.1 191.2,1776.2 C192.9,1775.2 195.0,1773.2 196.9,1772.4 C198.8,1771.6 200.7,1771.6 202.6,1771.4 C204.5,1771.3 206.9,1771.0 208.3,1771.4 C209.8,1771.9 210.1,1772.7 211.2,1774.3 C212.3,1775.9 213.7,1783.8 215.0,1781.0 C216.3,1778.1 217.5,1765.9 218.8,1757.1 C220.1,1748.4 221.5,1734.9 222.6,1728.6 C223.7,1722.2 224.5,1719.0 225.5,1719.0 C226.4,1719.0 227.4,1722.2 228.3,1728.6 C229.3,1734.9 230.1,1747.3 231.2,1757.1 C232.3,1767.0 233.7,1783.8 235.0,1787.6 C236.3,1791.4 237.7,1782.1 238.8,1780.0 C239.9,1777.9 240.4,1775.8 241.7,1775.2 C242.9,1774.7 244.7,1776.5 246.4,1776.6 C248.2,1776.7 250.2,1776.2 252.1,1775.8 C254.0,1775.4 256.1,1774.2 257.9,1774.3 C259.6,1774.3 261.0,1775.5 262.6,1776.2 C264.2,1776.9 265.6,1779.0 267.4,1778.7 C269.1,1778.3 271.2,1774.3 273.1,1774.3 C275.0,1774.3 276.9,1777.8 278.8,1778.5 C280.7,1779.1 282.3,1778.5 284.5,1778.1 C286.7,1777.7 289.9,1776.2 292.1,1776.2 C294.4,1776.2 296.1,1777.7 297.9,1778.1 C299.6,1778.5 301.0,1779.1 302.6,1778.5 C304.2,1777.8 306.0,1775.6 307.4,1774.3 C308.8,1773.0 309.9,1770.7 311.2,1770.9 C312.5,1771.0 313.6,1773.9 315.0,1775.2 C316.4,1776.6 317.9,1778.7 319.8,1779.0 C321.7,1779.4 324.4,1777.7 326.4,1777.1 C328.5,1776.6 330.2,1775.8 332.1,1775.8 C334.0,1775.8 336.0,1777.1 337.9,1777.1 C339.8,1777.2 342.0,1776.5 343.6,1776.2 C345.2,1775.9 346.3,1774.8 347.4,1775.2 C348.5,1775.7 349.3,1777.9 350.2,1779.0 C351.2,1780.2 352.1,1784.6 353.1,1781.9 C354.0,1779.2 354.7,1768.4 356.0,1762.9 C357.2,1757.3 359.1,1748.6 360.3,1748.6 C361.6,1748.6 362.6,1758.3 363.6,1762.9 C364.6,1767.5 365.3,1772.9 366.4,1776.2 C367.5,1779.5 368.8,1782.5 370.2,1782.9 C371.7,1783.2 373.3,1779.8 375.0,1778.1 C376.7,1776.3 379.1,1773.2 380.7,1772.4 C382.3,1771.6 383.1,1772.3 384.5,1773.3 C386.0,1774.3 387.7,1779.1 389.3,1778.5 C390.9,1777.8 392.8,1770.7 394.0,1769.5 C395.3,1768.3 395.6,1769.9 396.9,1771.4 C398.2,1772.9 399.8,1779.1 401.7,1778.5 C403.6,1777.8 406.3,1768.8 408.3,1767.6 C410.4,1766.4 412.0,1769.2 414.0,1771.4 C416.1,1773.7 418.7,1780.2 420.7,1781.0 C422.8,1781.7 424.4,1777.8 426.4,1776.2 C428.5,1774.6 431.0,1772.1 433.1,1771.4 C435.2,1770.7 437.2,1771.5 438.8,1772.0 C440.4,1772.5 441.3,1773.2 442.6,1774.3 C443.9,1775.4 444.8,1779.2 446.4,1778.5 C448.0,1777.8 450.7,1771.3 452.1,1770.1 C453.6,1768.9 453.7,1770.3 455.0,1771.4 C456.3,1772.6 458.0,1776.3 459.8,1777.1 C461.5,1777.9 463.9,1776.0 465.5,1776.2 C467.1,1776.3 467.7,1778.4 469.3,1778.1 C470.9,1777.8 473.6,1776.0 475.0,1774.3 C476.4,1772.6 476.7,1768.2 477.5,1767.8 C478.3,1767.4 478.8,1770.2 479.8,1771.7 C480.8,1773.2 481.9,1777.0 483.4,1777.0 C484.8,1777.0 487.1,1772.2 488.7,1771.7 C490.2,1771.3 491.1,1772.8 492.6,1774.3 C494.1,1775.7 496.0,1783.1 497.5,1780.6 C499.0,1778.0 500.1,1765.7 501.4,1758.9 C502.7,1752.2 504.2,1740.3 505.4,1740.3 C506.5,1740.3 507.3,1752.1 508.3,1758.9 C509.4,1765.8 510.3,1783.2 511.7,1781.5 C513.0,1779.9 514.4,1758.3 516.2,1749.1 C517.9,1739.9 520.4,1726.5 522.1,1726.5 C523.7,1726.5 524.5,1739.6 526.0,1749.1 C527.5,1758.6 529.6,1780.9 530.9,1783.5 C532.2,1786.1 532.9,1770.2 533.9,1764.8 C534.8,1759.5 535.8,1751.8 536.8,1751.5 C537.8,1751.1 538.7,1759.4 539.7,1762.9 C540.8,1766.3 541.9,1773.0 543.1,1772.3 C544.2,1771.6 545.4,1762.6 546.6,1758.9 C547.9,1755.2 549.3,1748.8 550.6,1750.1 C551.8,1751.4 552.8,1762.0 554.1,1766.8 C555.3,1771.5 556.6,1778.6 558.0,1778.6 C559.4,1778.6 560.8,1769.5 562.3,1766.8 C563.9,1764.1 565.6,1762.5 567.2,1762.5 C568.9,1762.5 570.5,1764.8 572.2,1766.8 C573.8,1768.8 575.4,1773.0 577.1,1774.7 C578.7,1776.3 580.3,1776.9 582.0,1776.6 C583.6,1776.3 585.3,1773.8 586.9,1772.7 C588.5,1771.5 590.3,1769.6 591.8,1769.7 C593.3,1769.9 594.3,1772.4 595.7,1773.7 C597.2,1775.0 599.0,1777.6 600.6,1777.6 C602.3,1777.6 604.1,1774.6 605.6,1773.7 C607.0,1772.8 608.2,1772.8 609.5,1772.3 C610.8,1771.8 611.9,1773.6 613.4,1770.7 C614.9,1767.8 616.7,1758.9 618.3,1755.0 C620.0,1751.1 621.6,1746.5 623.2,1747.2 C624.9,1747.8 626.4,1754.4 628.2,1758.9 C630.0,1763.5 632.2,1772.9 634.0,1774.7 C635.8,1776.5 637.2,1772.7 639.0,1769.7 C640.8,1766.8 642.9,1760.6 644.9,1757.0 C646.8,1753.4 648.8,1748.1 650.7,1748.1 C652.7,1748.1 654.7,1752.7 656.6,1757.0 C658.6,1761.2 660.9,1770.6 662.5,1773.7 C664.2,1776.8 665.2,1775.5 666.5,1775.6 C667.8,1775.7 668.9,1773.9 670.4,1774.3 C671.9,1774.6 673.5,1777.8 675.3,1777.6 C677.1,1777.4 679.4,1773.4 681.2,1773.1 C683.0,1772.8 684.6,1775.0 686.1,1775.6 C687.6,1776.3 688.4,1777.8 690.0,1777.0 C691.7,1776.2 693.5,1773.2 695.9,1770.7 C698.4,1768.2 702.5,1762.2 704.8,1761.9 C707.1,1761.6 707.9,1765.7 709.7,1768.8 C711.5,1771.9 713.6,1779.4 715.6,1780.6 C717.5,1781.7 719.2,1777.4 721.5,1775.6 C723.8,1773.8 727.0,1769.9 729.3,1769.7 C731.6,1769.6 733.1,1772.9 735.2,1774.7 C737.4,1776.5 739.8,1781.4 742.1,1780.6 C744.4,1779.7 746.4,1771.0 749.0,1769.7 C751.6,1768.5 755.2,1773.6 757.8,1773.1 C760.4,1772.6 762.6,1768.8 764.7,1766.8 C766.8,1764.8 768.6,1761.1 770.6,1761.3 C772.6,1761.5 774.5,1765.1 776.5,1767.8 C778.4,1770.5 780.4,1776.5 782.4,1777.6 C784.3,1778.7 787.3,1774.8 788.3,1774.3" fill="none" stroke="#231F20" stroke-width="2.8" stroke-linejoin="round" stroke-linecap="round"/>
<line x1="692.3" y1="1801.8" x2="790.3" y2="1801.8" stroke="#231F20" stroke-width="3.1" stroke-linecap="round"/>
<text x="737.3" y="1822.5" font-size="21" text-anchor="middle">20 s</text>
<text x="970.6" y="628" font-size="66">i</text>
<line x1="1122.5" y1="648.8" x2="1122.5" y2="997.3" stroke="#000" stroke-width="3"/>
<line x1="1121" y1="995.8" x2="1646.7" y2="995.8" stroke="#000" stroke-width="3"/>
<line x1="1114" y1="995.8" x2="1122.5" y2="995.8" stroke="#000" stroke-width="3"/>
<text x="1110.2" y="1004.6" font-size="26" font-weight="bold" text-anchor="end">0</text>
<line x1="1114" y1="926.4" x2="1122.5" y2="926.4" stroke="#000" stroke-width="3"/>
<text x="1110.2" y="935.2" font-size="26" font-weight="bold" text-anchor="end">200</text>
<line x1="1114" y1="857" x2="1122.5" y2="857" stroke="#000" stroke-width="3"/>
<text x="1110.2" y="865.8" font-size="26" font-weight="bold" text-anchor="end">400</text>
<line x1="1114" y1="787.6" x2="1122.5" y2="787.6" stroke="#000" stroke-width="3"/>
<text x="1110.2" y="796.4" font-size="26" font-weight="bold" text-anchor="end">600</text>
<line x1="1114" y1="718.2" x2="1122.5" y2="718.2" stroke="#000" stroke-width="3"/>
<text x="1110.2" y="727" font-size="26" font-weight="bold" text-anchor="end">800</text>
<line x1="1114" y1="648.8" x2="1122.5" y2="648.8" stroke="#000" stroke-width="3"/>
<text x="1110.2" y="657.6" font-size="26" font-weight="bold" text-anchor="end">1000</text>
<line x1="1116.5" y1="961.1" x2="1122.5" y2="961.1" stroke="#000" stroke-width="3"/>
<line x1="1116.5" y1="891.7" x2="1122.5" y2="891.7" stroke="#000" stroke-width="3"/>
<line x1="1116.5" y1="822.3" x2="1122.5" y2="822.3" stroke="#000" stroke-width="3"/>
<line x1="1116.5" y1="752.9" x2="1122.5" y2="752.9" stroke="#000" stroke-width="3"/>
<line x1="1116.5" y1="683.5" x2="1122.5" y2="683.5" stroke="#000" stroke-width="3"/>
<rect x="1149" y="958.8" width="47.8" height="37" fill="#fff"/>
<rect x="1219.9" y="964" width="47.8" height="31.8" fill="#fff"/>
<rect x="1290.6" y="966" width="47.8" height="29.8" fill="#fff"/>
<rect x="1361.8" y="943" width="47.8" height="52.8" fill="#fff"/>
<rect x="1432.9" y="947" width="47.8" height="48.8" fill="#fff"/>
<rect x="1503.9" y="946" width="47.8" height="49.8" fill="#fff"/>
<rect x="1575.3" y="861.3" width="47.8" height="134.5" fill="#fff"/>
<g fill="#A7A7A7"><circle cx="1172.6" cy="801.6" r="4.6"/><circle cx="1172.6" cy="819.3" r="4.6"/><circle cx="1172.6" cy="836.3" r="4.6"/><circle cx="1179.8" cy="872.3" r="4.6"/><circle cx="1165.1" cy="878.9" r="4.6"/><circle cx="1187.4" cy="902.1" r="4.6"/><circle cx="1157.8" cy="912.9" r="4.6"/><circle cx="1172.6" cy="914.9" r="4.6"/><circle cx="1154.9" cy="934.5" r="4.6"/><circle cx="1178.5" cy="936.5" r="4.6"/><circle cx="1190.2" cy="934.5" r="4.6"/><circle cx="1166.7" cy="947" r="4.6"/><circle cx="1165.4" cy="954.2" r="4.6"/><circle cx="1179.8" cy="956.8" r="4.6"/><circle cx="1156.2" cy="966.6" r="4.6"/><circle cx="1160.4" cy="966.6" r="4.6"/><circle cx="1164.6" cy="966.6" r="4.6"/><circle cx="1168.8" cy="966.6" r="4.6"/><circle cx="1173" cy="966.6" r="4.6"/><circle cx="1177.1" cy="966.6" r="4.6"/><circle cx="1181.3" cy="966.6" r="4.6"/><circle cx="1185.5" cy="966.6" r="4.6"/><circle cx="1189.7" cy="966.6" r="4.6"/><circle cx="1157.5" cy="970.5" r="4.6"/><circle cx="1161.4" cy="970.5" r="4.6"/><circle cx="1165.4" cy="970.5" r="4.6"/><circle cx="1169.3" cy="970.5" r="4.6"/><circle cx="1173.2" cy="970.5" r="4.6"/><circle cx="1177.1" cy="970.5" r="4.6"/><circle cx="1181.1" cy="970.5" r="4.6"/><circle cx="1185" cy="970.5" r="4.6"/><circle cx="1188.9" cy="970.5" r="4.6"/><circle cx="1160.1" cy="974.5" r="4.6"/><circle cx="1164" cy="974.5" r="4.6"/><circle cx="1168" cy="974.5" r="4.6"/><circle cx="1171.9" cy="974.5" r="4.6"/><circle cx="1175.8" cy="974.5" r="4.6"/><circle cx="1179.8" cy="974.5" r="4.6"/><circle cx="1183.7" cy="974.5" r="4.6"/><circle cx="1163.4" cy="978.4" r="4.6"/><circle cx="1167.1" cy="978.4" r="4.6"/><circle cx="1170.7" cy="978.4" r="4.6"/><circle cx="1174.4" cy="978.4" r="4.6"/><circle cx="1178.1" cy="978.4" r="4.6"/><circle cx="1181.7" cy="978.4" r="4.6"/><circle cx="1168" cy="981.7" r="4.6"/><circle cx="1172.6" cy="981.7" r="4.6"/><circle cx="1177.1" cy="981.7" r="4.6"/></g>
<g fill="#939393"><circle cx="1243.7" cy="877.6" r="4.6"/><circle cx="1243.7" cy="896.6" r="4.6"/><circle cx="1243.7" cy="940.4" r="4.6"/><circle cx="1261.4" cy="944.7" r="4.6"/><circle cx="1226" cy="951.6" r="4.6"/><circle cx="1237.4" cy="955.5" r="4.6"/><circle cx="1249.2" cy="955.5" r="4.6"/><circle cx="1243.7" cy="988.2" r="4.6"/><circle cx="1226.9" cy="969.2" r="4.6"/><circle cx="1230.8" cy="969.2" r="4.6"/><circle cx="1234.8" cy="969.2" r="4.6"/><circle cx="1238.7" cy="969.2" r="4.6"/><circle cx="1242.6" cy="969.2" r="4.6"/><circle cx="1246.6" cy="969.2" r="4.6"/><circle cx="1250.5" cy="969.2" r="4.6"/><circle cx="1254.4" cy="969.2" r="4.6"/><circle cx="1258.3" cy="969.2" r="4.6"/><circle cx="1226.9" cy="973.8" r="4.6"/><circle cx="1230.8" cy="973.8" r="4.6"/><circle cx="1234.8" cy="973.8" r="4.6"/><circle cx="1238.7" cy="973.8" r="4.6"/><circle cx="1242.6" cy="973.8" r="4.6"/><circle cx="1246.6" cy="973.8" r="4.6"/><circle cx="1250.5" cy="973.8" r="4.6"/><circle cx="1254.4" cy="973.8" r="4.6"/><circle cx="1258.3" cy="973.8" r="4.6"/><circle cx="1233.5" cy="977.1" r="4.6"/><circle cx="1237.6" cy="977.1" r="4.6"/><circle cx="1241.8" cy="977.1" r="4.6"/><circle cx="1246" cy="977.1" r="4.6"/><circle cx="1250.2" cy="977.1" r="4.6"/><circle cx="1254.4" cy="977.1" r="4.6"/><circle cx="1240" cy="979.7" r="4.6"/><circle cx="1243.9" cy="979.7" r="4.6"/><circle cx="1247.9" cy="979.7" r="4.6"/></g>
<g fill="#939393"><circle cx="1314.7" cy="875.6" r="4.6"/><circle cx="1314.7" cy="928.6" r="4.6"/><circle cx="1300" cy="948.3" r="4.6"/><circle cx="1314.7" cy="950.9" r="4.6"/><circle cx="1329.3" cy="950.9" r="4.6"/><circle cx="1306.8" cy="955.5" r="4.6"/><circle cx="1321.9" cy="956.1" r="4.6"/><circle cx="1298.9" cy="969.9" r="4.6"/><circle cx="1302.9" cy="969.9" r="4.6"/><circle cx="1306.8" cy="969.9" r="4.6"/><circle cx="1310.7" cy="969.9" r="4.6"/><circle cx="1314.7" cy="969.9" r="4.6"/><circle cx="1318.6" cy="969.9" r="4.6"/><circle cx="1322.5" cy="969.9" r="4.6"/><circle cx="1326.4" cy="969.9" r="4.6"/><circle cx="1330.4" cy="969.9" r="4.6"/><circle cx="1297.6" cy="973.8" r="4.6"/><circle cx="1301.6" cy="973.8" r="4.6"/><circle cx="1305.5" cy="973.8" r="4.6"/><circle cx="1309.4" cy="973.8" r="4.6"/><circle cx="1313.3" cy="973.8" r="4.6"/><circle cx="1317.3" cy="973.8" r="4.6"/><circle cx="1321.2" cy="973.8" r="4.6"/><circle cx="1325.1" cy="973.8" r="4.6"/><circle cx="1329.1" cy="973.8" r="4.6"/><circle cx="1301.6" cy="977.7" r="4.6"/><circle cx="1305.5" cy="977.7" r="4.6"/><circle cx="1309.4" cy="977.7" r="4.6"/><circle cx="1313.3" cy="977.7" r="4.6"/><circle cx="1317.3" cy="977.7" r="4.6"/><circle cx="1321.2" cy="977.7" r="4.6"/><circle cx="1325.1" cy="977.7" r="4.6"/><circle cx="1306.8" cy="981.7" r="4.6"/><circle cx="1310.7" cy="981.7" r="4.6"/><circle cx="1314.7" cy="981.7" r="4.6"/><circle cx="1318.6" cy="981.7" r="4.6"/><circle cx="1322.5" cy="981.7" r="4.6"/><circle cx="1312" cy="985" r="4.6"/><circle cx="1317.3" cy="985" r="4.6"/></g>
<g fill="#939393"><circle cx="1385.6" cy="837.6" r="4.6"/><circle cx="1385.6" cy="873.6" r="4.6"/><circle cx="1378.2" cy="884.1" r="4.6"/><circle cx="1393.2" cy="896.6" r="4.6"/><circle cx="1393.2" cy="933.2" r="4.6"/><circle cx="1376.2" cy="940.4" r="4.6"/><circle cx="1381.4" cy="947.6" r="4.6"/><circle cx="1389.3" cy="939.1" r="4.6"/><circle cx="1397.1" cy="939.1" r="4.6"/><circle cx="1402.4" cy="950.2" r="4.6"/><circle cx="1369.6" cy="956.8" r="4.6"/><circle cx="1393.2" cy="958.1" r="4.6"/><circle cx="1380.1" cy="963.3" r="4.6"/><circle cx="1389.3" cy="962.7" r="4.6"/><circle cx="1397.1" cy="968.6" r="4.6"/><circle cx="1373.6" cy="973.8" r="4.6"/><circle cx="1381.4" cy="980.4" r="4.6"/><circle cx="1389.3" cy="975.1" r="4.6"/><circle cx="1385.4" cy="970.5" r="4.6"/><circle cx="1376.2" cy="968.6" r="4.6"/></g>
<g fill="#1A8FEA"><circle cx="1456.7" cy="840.9" r="4.6"/><circle cx="1449.3" cy="860.9" r="4.6"/><circle cx="1464.2" cy="858.3" r="4.6"/><circle cx="1439.1" cy="878.9" r="4.6"/><circle cx="1450.8" cy="886.7" r="4.6"/><circle cx="1462.6" cy="886.7" r="4.6"/><circle cx="1474.4" cy="886.1" r="4.6"/><circle cx="1440.4" cy="910.3" r="4.6"/><circle cx="1448.9" cy="911.6" r="4.6"/><circle cx="1473.1" cy="910.3" r="4.6"/><circle cx="1465" cy="918.8" r="4.6"/><circle cx="1456.7" cy="924.1" r="4.6"/><circle cx="1440.4" cy="928.6" r="4.6"/><circle cx="1446.9" cy="930.6" r="4.6"/><circle cx="1452.1" cy="934.5" r="4.6"/><circle cx="1461.3" cy="933.2" r="4.6"/><circle cx="1467.9" cy="929.3" r="4.6"/><circle cx="1473.8" cy="928.6" r="4.6"/><circle cx="1456.7" cy="942.4" r="4.6"/><circle cx="1467.9" cy="952.9" r="4.6"/><circle cx="1444.3" cy="956.8" r="4.6"/><circle cx="1452.1" cy="958.1" r="4.6"/><circle cx="1460" cy="955.5" r="4.6"/><circle cx="1446.9" cy="962.7" r="4.6"/><circle cx="1444.9" cy="968.6" r="4.6"/><circle cx="1465.2" cy="968.6" r="4.6"/><circle cx="1469.8" cy="969.9" r="4.6"/><circle cx="1452.1" cy="975.1" r="4.6"/><circle cx="1458.7" cy="975.1" r="4.6"/><circle cx="1462.6" cy="980.4" r="4.6"/><circle cx="1449.5" cy="982.3" r="4.6"/><circle cx="1440.4" cy="986.9" r="4.6"/><circle cx="1449.5" cy="988.2" r="4.6"/><circle cx="1460" cy="988.2" r="4.6"/><circle cx="1473.1" cy="987.6" r="4.6"/><circle cx="1444.3" cy="992.2" r="4.6"/><circle cx="1454.8" cy="994.8" r="4.6"/><circle cx="1465.2" cy="993.5" r="4.6"/><circle cx="1474.4" cy="990.8" r="4.6"/><circle cx="1441.7" cy="948.9" r="4.6"/><circle cx="1449.5" cy="950.2" r="4.6"/><circle cx="1458.7" cy="948.3" r="4.6"/><circle cx="1450.8" cy="966" r="4.6"/><circle cx="1457.4" cy="963.3" r="4.6"/><circle cx="1441.7" cy="992.2" r="4.6"/><circle cx="1454.8" cy="989.5" r="4.6"/></g>
<g fill="#939393"><circle cx="1520.2" cy="799.4" r="4.6"/><circle cx="1534.9" cy="810.1" r="4.6"/><circle cx="1527.8" cy="832.4" r="4.6"/><circle cx="1527.8" cy="869.1" r="4.6"/><circle cx="1534.9" cy="910.7" r="4.6"/><circle cx="1513" cy="922.1" r="4.6"/><circle cx="1520.2" cy="926.7" r="4.6"/><circle cx="1534.9" cy="935.8" r="4.6"/><circle cx="1515.7" cy="937.2" r="4.6"/><circle cx="1538.6" cy="937.2" r="4.6"/><circle cx="1520.2" cy="941.7" r="4.6"/><circle cx="1533.3" cy="942.4" r="4.6"/><circle cx="1512.4" cy="955.5" r="4.6"/><circle cx="1520.2" cy="954.2" r="4.6"/><circle cx="1526.8" cy="956.8" r="4.6"/><circle cx="1541.2" cy="953.5" r="4.6"/><circle cx="1533.3" cy="959.4" r="4.6"/><circle cx="1512.4" cy="971.2" r="4.6"/><circle cx="1520.2" cy="971.2" r="4.6"/><circle cx="1526.8" cy="975.1" r="4.6"/><circle cx="1536" cy="969.9" r="4.6"/><circle cx="1542.5" cy="972.5" r="4.6"/><circle cx="1513.7" cy="981.7" r="4.6"/><circle cx="1522.9" cy="977.7" r="4.6"/><circle cx="1533.3" cy="980.4" r="4.6"/><circle cx="1538.6" cy="983" r="4.6"/><circle cx="1516.3" cy="989.5" r="4.6"/><circle cx="1524.2" cy="990.8" r="4.6"/><circle cx="1532" cy="988.2" r="4.6"/><circle cx="1522.9" cy="994.8" r="4.6"/><circle cx="1520.2" cy="960.7" r="4.6"/></g>
<g fill="#EE2A1A"><circle cx="1591.5" cy="707.3" r="4.6"/><circle cx="1606.1" cy="707.6" r="4.6"/><circle cx="1598.7" cy="788.8" r="4.6"/><circle cx="1598.7" cy="813.7" r="4.6"/><circle cx="1606.4" cy="833.3" r="4.6"/><circle cx="1591.5" cy="838.2" r="4.6"/><circle cx="1615.3" cy="853.3" r="4.6"/><circle cx="1582.3" cy="858.2" r="4.6"/><circle cx="1590.7" cy="860.5" r="4.6"/><circle cx="1598.7" cy="863.6" r="4.6"/><circle cx="1606.8" cy="859" r="4.6"/><circle cx="1583.8" cy="877.9" r="4.6"/><circle cx="1613.8" cy="882.8" r="4.6"/><circle cx="1598.7" cy="887.1" r="4.6"/><circle cx="1598.7" cy="907.4" r="4.6"/><circle cx="1606.4" cy="915.1" r="4.6"/><circle cx="1591.5" cy="928.6" r="4.6"/><circle cx="1598.7" cy="961.2" r="4.6"/><circle cx="1598.7" cy="983.4" r="4.6"/></g>
<polyline points="1149,995.8 1149,958.8 1196.8,958.8 1196.8,995.8" fill="none" stroke="#000" stroke-width="3" stroke-linejoin="round" stroke-linecap="round" stroke-linejoin="miter" stroke-linecap="butt"/>
<line x1="1172.9" y1="995.8" x2="1172.9" y2="1005.3" stroke="#000" stroke-width="3"/>
<line x1="1172.9" y1="951.6" x2="1172.9" y2="962" stroke="#000" stroke-width="3"/>
<line x1="1160.3" y1="951.6" x2="1185.5" y2="951.6" stroke="#000" stroke-width="3"/>
<line x1="1160.3" y1="962" x2="1185.5" y2="962" stroke="#000" stroke-width="3"/>
<polyline points="1219.9,995.8 1219.9,964 1267.7,964 1267.7,995.8" fill="none" stroke="#000" stroke-width="3" stroke-linejoin="round" stroke-linecap="round" stroke-linejoin="miter" stroke-linecap="butt"/>
<line x1="1243.8" y1="995.8" x2="1243.8" y2="1005.3" stroke="#000" stroke-width="3"/>
<line x1="1243.8" y1="958.3" x2="1243.8" y2="966.7" stroke="#000" stroke-width="3"/>
<line x1="1231.2" y1="958.3" x2="1256.4" y2="958.3" stroke="#000" stroke-width="3"/>
<line x1="1231.2" y1="966.7" x2="1256.4" y2="966.7" stroke="#000" stroke-width="3"/>
<polyline points="1290.6,995.8 1290.6,966 1338.4,966 1338.4,995.8" fill="none" stroke="#000" stroke-width="3" stroke-linejoin="round" stroke-linecap="round" stroke-linejoin="miter" stroke-linecap="butt"/>
<line x1="1314.5" y1="995.8" x2="1314.5" y2="1005.3" stroke="#000" stroke-width="3"/>
<line x1="1314.5" y1="960.4" x2="1314.5" y2="968.8" stroke="#000" stroke-width="3"/>
<line x1="1301.9" y1="960.4" x2="1327.1" y2="960.4" stroke="#000" stroke-width="3"/>
<line x1="1301.9" y1="968.8" x2="1327.1" y2="968.8" stroke="#000" stroke-width="3"/>
<polyline points="1361.8,995.8 1361.8,943 1409.6,943 1409.6,995.8" fill="none" stroke="#000" stroke-width="3" stroke-linejoin="round" stroke-linecap="round" stroke-linejoin="miter" stroke-linecap="butt"/>
<line x1="1385.7" y1="995.8" x2="1385.7" y2="1005.3" stroke="#000" stroke-width="3"/>
<line x1="1385.7" y1="933.3" x2="1385.7" y2="948.8" stroke="#000" stroke-width="3"/>
<line x1="1373.1" y1="933.3" x2="1398.3" y2="933.3" stroke="#000" stroke-width="3"/>
<line x1="1373.1" y1="948.8" x2="1398.3" y2="948.8" stroke="#000" stroke-width="3"/>
<polyline points="1432.9,995.8 1432.9,947 1480.7,947 1480.7,995.8" fill="none" stroke="#000" stroke-width="3" stroke-linejoin="round" stroke-linecap="round" stroke-linejoin="miter" stroke-linecap="butt"/>
<line x1="1456.8" y1="995.8" x2="1456.8" y2="1005.3" stroke="#000" stroke-width="3"/>
<line x1="1456.8" y1="938.3" x2="1456.8" y2="952" stroke="#000" stroke-width="3"/>
<line x1="1444.2" y1="938.3" x2="1469.4" y2="938.3" stroke="#000" stroke-width="3"/>
<line x1="1444.2" y1="952" x2="1469.4" y2="952" stroke="#000" stroke-width="3"/>
<polyline points="1503.9,995.8 1503.9,946 1551.7,946 1551.7,995.8" fill="none" stroke="#000" stroke-width="3" stroke-linejoin="round" stroke-linecap="round" stroke-linejoin="miter" stroke-linecap="butt"/>
<line x1="1527.8" y1="995.8" x2="1527.8" y2="1005.3" stroke="#000" stroke-width="3"/>
<line x1="1527.8" y1="936.2" x2="1527.8" y2="952" stroke="#000" stroke-width="3"/>
<line x1="1515.2" y1="936.2" x2="1540.4" y2="936.2" stroke="#000" stroke-width="3"/>
<line x1="1515.2" y1="952" x2="1540.4" y2="952" stroke="#000" stroke-width="3"/>
<polyline points="1575.3,995.8 1575.3,861.3 1623.1,861.3 1623.1,995.8" fill="none" stroke="#000" stroke-width="3" stroke-linejoin="round" stroke-linecap="round" stroke-linejoin="miter" stroke-linecap="butt"/>
<line x1="1599.2" y1="995.8" x2="1599.2" y2="1005.3" stroke="#000" stroke-width="3"/>
<line x1="1599.2" y1="843.2" x2="1599.2" y2="875.9" stroke="#000" stroke-width="3"/>
<line x1="1586.6" y1="843.2" x2="1611.8" y2="843.2" stroke="#000" stroke-width="3"/>
<line x1="1586.6" y1="875.9" x2="1611.8" y2="875.9" stroke="#000" stroke-width="3"/>
<line x1="1122.5" y1="961.1" x2="1646.7" y2="961.1" stroke="#000" stroke-width="3" stroke-dasharray="11.5 8"/>
<text x="1387.7" y="784.6" font-size="42" font-weight="bold" text-anchor="middle" letter-spacing="4">*</text>
<text x="1458.8" y="825.4" font-size="42" font-weight="bold" text-anchor="middle" letter-spacing="4">*</text>
<text x="1529.8" y="743.3" font-size="42" font-weight="bold" text-anchor="middle" letter-spacing="4">*</text>
<text x="1604.5" y="701.7" font-size="42" font-weight="bold" text-anchor="middle" letter-spacing="4">****</text>
<text transform="translate(1184,1028.6) rotate(-45)" font-size="25.5" font-weight="bold" text-anchor="end">Novel environment</text>
<text transform="translate(1258.1,1028.6) rotate(-45)" font-size="25.5" font-weight="bold" text-anchor="end">Novel object</text>
<text transform="translate(1331.2,1028.6) rotate(-45)" font-size="25.5" font-weight="bold" text-anchor="end">Feeding</text>
<text transform="translate(1401.6,1028.6) rotate(-45)" font-size="25.5" font-weight="bold" text-anchor="end">Female</text>
<text transform="translate(1474.3,1028.6) rotate(-45)" font-size="25.5" font-weight="bold" text-anchor="end">Male</text>
<text transform="translate(1540.8,1028.6) rotate(-45)" font-size="25.5" font-weight="bold" text-anchor="end">Prey-aggression</text>
<text transform="translate(1609.4,1028.6) rotate(-45)" font-size="25.5" font-weight="bold" text-anchor="end">Social aggression</text>
<text x="1042" y="833.8" font-size="29.2" font-weight="bold" text-anchor="middle" transform="rotate(-90 1042 833.8)" textLength="178.8" lengthAdjust="spacingAndGlyphs">% Max (CA2)</text>
<text x="970.2" y="1290.2" font-size="66">j</text>
<line x1="1121.7" y1="1283.3" x2="1121.7" y2="1630.5" stroke="#000" stroke-width="3"/>
<line x1="1120.2" y1="1629" x2="1644" y2="1629" stroke="#000" stroke-width="3"/>
<line x1="1113.2" y1="1629" x2="1121.7" y2="1629" stroke="#000" stroke-width="3"/>
<text x="1109.4" y="1637.8" font-size="26" font-weight="bold" text-anchor="end">0</text>
<line x1="1113.2" y1="1513.8" x2="1121.7" y2="1513.8" stroke="#000" stroke-width="3"/>
<text x="1109.4" y="1522.6" font-size="26" font-weight="bold" text-anchor="end">200</text>
<line x1="1113.2" y1="1398.5" x2="1121.7" y2="1398.5" stroke="#000" stroke-width="3"/>
<text x="1109.4" y="1407.4" font-size="26" font-weight="bold" text-anchor="end">400</text>
<line x1="1113.2" y1="1283.3" x2="1121.7" y2="1283.3" stroke="#000" stroke-width="3"/>
<text x="1109.4" y="1292.1" font-size="26" font-weight="bold" text-anchor="end">600</text>
<line x1="1115.7" y1="1571.4" x2="1121.7" y2="1571.4" stroke="#000" stroke-width="3"/>
<line x1="1115.7" y1="1456.2" x2="1121.7" y2="1456.2" stroke="#000" stroke-width="3"/>
<line x1="1115.7" y1="1340.9" x2="1121.7" y2="1340.9" stroke="#000" stroke-width="3"/>
<rect x="1146.7" y="1565.4" width="47.8" height="63.6" fill="#fff"/>
<rect x="1217.6" y="1571.7" width="47.8" height="57.3" fill="#fff"/>
<rect x="1288.5" y="1573.3" width="47.8" height="55.7" fill="#fff"/>
<rect x="1359.3" y="1556.4" width="47.8" height="72.6" fill="#fff"/>
<rect x="1430" y="1555.5" width="47.8" height="73.5" fill="#fff"/>
<rect x="1501.4" y="1547" width="47.8" height="82" fill="#fff"/>
<rect x="1571.9" y="1496.6" width="47.8" height="132.4" fill="#fff"/>
<g fill="#939393"><circle cx="1163.6" cy="1304.6" r="4.6"/><circle cx="1178.3" cy="1309.3" r="4.6"/><circle cx="1170.8" cy="1369.9" r="4.6"/><circle cx="1170.8" cy="1476.5" r="4.6"/><circle cx="1178.3" cy="1486.3" r="4.6"/><circle cx="1163.6" cy="1493.9" r="4.6"/><circle cx="1149" cy="1514.4" r="4.6"/><circle cx="1193" cy="1514" r="4.6"/><circle cx="1170.8" cy="1520.8" r="4.6"/><circle cx="1156.1" cy="1527.1" r="4.6"/><circle cx="1185.7" cy="1528.2" r="4.6"/><circle cx="1170.8" cy="1538.2" r="4.6"/><circle cx="1187.3" cy="1540.1" r="4.6"/><circle cx="1154.5" cy="1546.1" r="4.6"/><circle cx="1161.7" cy="1548" r="4.6"/><circle cx="1180.6" cy="1547.2" r="4.6"/><circle cx="1168" cy="1552.7" r="4.6"/><circle cx="1175.9" cy="1552.7" r="4.6"/><circle cx="1153.7" cy="1559.1" r="4.6"/><circle cx="1158.5" cy="1559.1" r="4.6"/><circle cx="1163.2" cy="1559.1" r="4.6"/><circle cx="1168" cy="1559.1" r="4.6"/><circle cx="1172.7" cy="1559.1" r="4.6"/><circle cx="1177.5" cy="1559.1" r="4.6"/><circle cx="1182.2" cy="1559.1" r="4.6"/><circle cx="1187" cy="1559.1" r="4.6"/><circle cx="1151.4" cy="1564.6" r="4.6"/><circle cx="1156.3" cy="1564.6" r="4.6"/><circle cx="1161.2" cy="1564.6" r="4.6"/><circle cx="1166.1" cy="1564.6" r="4.6"/><circle cx="1171" cy="1564.6" r="4.6"/><circle cx="1175.9" cy="1564.6" r="4.6"/><circle cx="1180.8" cy="1564.6" r="4.6"/><circle cx="1185.7" cy="1564.6" r="4.6"/><circle cx="1190.6" cy="1564.6" r="4.6"/><circle cx="1150.6" cy="1570.2" r="4.6"/><circle cx="1155.6" cy="1570.2" r="4.6"/><circle cx="1160.7" cy="1570.2" r="4.6"/><circle cx="1165.8" cy="1570.2" r="4.6"/><circle cx="1170.8" cy="1570.2" r="4.6"/><circle cx="1175.9" cy="1570.2" r="4.6"/><circle cx="1181" cy="1570.2" r="4.6"/><circle cx="1186" cy="1570.2" r="4.6"/><circle cx="1191.1" cy="1570.2" r="4.6"/><circle cx="1152.2" cy="1575.7" r="4.6"/><circle cx="1156.1" cy="1575.7" r="4.6"/><circle cx="1160.1" cy="1575.7" r="4.6"/><circle cx="1164" cy="1575.7" r="4.6"/><circle cx="1176.7" cy="1575.7" r="4.6"/><circle cx="1181.1" cy="1575.7" r="4.6"/><circle cx="1185.6" cy="1575.7" r="4.6"/><circle cx="1190" cy="1575.7" r="4.6"/><circle cx="1153.7" cy="1581.2" r="4.6"/><circle cx="1158.5" cy="1581.2" r="4.6"/><circle cx="1163.2" cy="1581.2" r="4.6"/><circle cx="1168" cy="1581.2" r="4.6"/><circle cx="1172.7" cy="1581.2" r="4.6"/><circle cx="1177.5" cy="1581.2" r="4.6"/><circle cx="1182.2" cy="1581.2" r="4.6"/><circle cx="1187" cy="1581.2" r="4.6"/><circle cx="1152.2" cy="1586.8" r="4.6"/><circle cx="1156.9" cy="1586.8" r="4.6"/><circle cx="1161.7" cy="1586.8" r="4.6"/><circle cx="1166.4" cy="1586.8" r="4.6"/><circle cx="1171.2" cy="1586.8" r="4.6"/><circle cx="1175.9" cy="1586.8" r="4.6"/><circle cx="1180.6" cy="1586.8" r="4.6"/><circle cx="1185.4" cy="1586.8" r="4.6"/><circle cx="1190.1" cy="1586.8" r="4.6"/><circle cx="1158.5" cy="1591.5" r="4.6"/><circle cx="1164" cy="1591.5" r="4.6"/><circle cx="1176.7" cy="1591.5" r="4.6"/><circle cx="1182.2" cy="1591.5" r="4.6"/><circle cx="1163.2" cy="1596.3" r="4.6"/><circle cx="1168" cy="1596.3" r="4.6"/><circle cx="1172.7" cy="1596.3" r="4.6"/><circle cx="1177.5" cy="1596.3" r="4.6"/><circle cx="1168" cy="1601" r="4.6"/><circle cx="1172.7" cy="1601" r="4.6"/></g>
<g fill="#939393"><circle cx="1241.6" cy="1384.5" r="4.6"/><circle cx="1241.6" cy="1466" r="4.6"/><circle cx="1241.6" cy="1533.4" r="4.6"/><circle cx="1234.5" cy="1549.9" r="4.6"/><circle cx="1256.6" cy="1559.1" r="4.6"/><circle cx="1223.4" cy="1565.4" r="4.6"/><circle cx="1231.3" cy="1568.6" r="4.6"/><circle cx="1250.3" cy="1567" r="4.6"/><circle cx="1259.8" cy="1568.6" r="4.6"/><circle cx="1224.2" cy="1595.5" r="4.6"/><circle cx="1247.1" cy="1597.1" r="4.6"/><circle cx="1259.5" cy="1592.3" r="4.6"/><circle cx="1235.7" cy="1606.6" r="4.6"/><circle cx="1223.4" cy="1573.3" r="4.6"/><circle cx="1228" cy="1573.3" r="4.6"/><circle cx="1232.6" cy="1573.3" r="4.6"/><circle cx="1237.2" cy="1573.3" r="4.6"/><circle cx="1241.7" cy="1573.3" r="4.6"/><circle cx="1246.3" cy="1573.3" r="4.6"/><circle cx="1250.9" cy="1573.3" r="4.6"/><circle cx="1255.5" cy="1573.3" r="4.6"/><circle cx="1225" cy="1578.9" r="4.6"/><circle cx="1228.9" cy="1578.9" r="4.6"/><circle cx="1232.9" cy="1578.9" r="4.6"/><circle cx="1246.3" cy="1578.9" r="4.6"/><circle cx="1250.3" cy="1578.9" r="4.6"/><circle cx="1254.2" cy="1578.9" r="4.6"/><circle cx="1258.2" cy="1578.9" r="4.6"/><circle cx="1228.1" cy="1583.6" r="4.6"/><circle cx="1233.2" cy="1583.6" r="4.6"/><circle cx="1238.3" cy="1583.6" r="4.6"/><circle cx="1243.3" cy="1583.6" r="4.6"/><circle cx="1248.4" cy="1583.6" r="4.6"/><circle cx="1253.5" cy="1583.6" r="4.6"/><circle cx="1234.5" cy="1588.4" r="4.6"/><circle cx="1240.8" cy="1588.4" r="4.6"/><circle cx="1247.1" cy="1588.4" r="4.6"/></g>
<g fill="#939393"><circle cx="1312.8" cy="1508.7" r="4.6"/><circle cx="1305.4" cy="1530.3" r="4.6"/><circle cx="1319.9" cy="1526.2" r="4.6"/><circle cx="1312.8" cy="1545.1" r="4.6"/><circle cx="1297.8" cy="1551.2" r="4.6"/><circle cx="1327.5" cy="1559.1" r="4.6"/><circle cx="1312.8" cy="1565.4" r="4.6"/><circle cx="1304.1" cy="1568.6" r="4.6"/><circle cx="1319.9" cy="1568.6" r="4.6"/><circle cx="1295.4" cy="1574.9" r="4.6"/><circle cx="1300.3" cy="1574.9" r="4.6"/><circle cx="1305.2" cy="1574.9" r="4.6"/><circle cx="1310.1" cy="1574.9" r="4.6"/><circle cx="1315" cy="1574.9" r="4.6"/><circle cx="1319.9" cy="1574.9" r="4.6"/><circle cx="1324.8" cy="1574.9" r="4.6"/><circle cx="1329.7" cy="1574.9" r="4.6"/><circle cx="1293.8" cy="1581.2" r="4.6"/><circle cx="1298.6" cy="1581.2" r="4.6"/><circle cx="1303.3" cy="1581.2" r="4.6"/><circle cx="1308.1" cy="1581.2" r="4.6"/><circle cx="1312.8" cy="1581.2" r="4.6"/><circle cx="1317.6" cy="1581.2" r="4.6"/><circle cx="1322.3" cy="1581.2" r="4.6"/><circle cx="1327.1" cy="1581.2" r="4.6"/><circle cx="1331.8" cy="1581.2" r="4.6"/><circle cx="1294.6" cy="1587.6" r="4.6"/><circle cx="1299.4" cy="1587.6" r="4.6"/><circle cx="1304.1" cy="1587.6" r="4.6"/><circle cx="1318.4" cy="1587.6" r="4.6"/><circle cx="1322.6" cy="1587.6" r="4.6"/><circle cx="1326.9" cy="1587.6" r="4.6"/><circle cx="1299.4" cy="1593.1" r="4.6"/><circle cx="1304.4" cy="1593.1" r="4.6"/><circle cx="1309.5" cy="1593.1" r="4.6"/><circle cx="1314.6" cy="1593.1" r="4.6"/><circle cx="1319.6" cy="1593.1" r="4.6"/><circle cx="1324.7" cy="1593.1" r="4.6"/><circle cx="1305.7" cy="1597.9" r="4.6"/><circle cx="1310.4" cy="1597.9" r="4.6"/><circle cx="1315.2" cy="1597.9" r="4.6"/></g>
<g fill="#939393"><circle cx="1375.9" cy="1492.5" r="4.6"/><circle cx="1390.7" cy="1494.3" r="4.6"/><circle cx="1383.6" cy="1513.9" r="4.6"/><circle cx="1375.9" cy="1527.3" r="4.6"/><circle cx="1397.9" cy="1535.7" r="4.6"/><circle cx="1390.7" cy="1539.8" r="4.6"/><circle cx="1375.9" cy="1542.5" r="4.6"/><circle cx="1367" cy="1555" r="4.6"/><circle cx="1400" cy="1555.9" r="4.6"/><circle cx="1383.6" cy="1565.7" r="4.6"/><circle cx="1375" cy="1569.3" r="4.6"/><circle cx="1392" cy="1567.5" r="4.6"/><circle cx="1367" cy="1576.4" r="4.6"/><circle cx="1400" cy="1571.1" r="4.6"/><circle cx="1375" cy="1580" r="4.6"/><circle cx="1383.6" cy="1583.6" r="4.6"/><circle cx="1392.9" cy="1580" r="4.6"/><circle cx="1383.9" cy="1575.5" r="4.6"/><circle cx="1371.4" cy="1551.4" r="4.6"/><circle cx="1394.6" cy="1550.5" r="4.6"/><circle cx="1367.9" cy="1565.7" r="4.6"/><circle cx="1398.2" cy="1563.9" r="4.6"/><circle cx="1383.6" cy="1555" r="4.6"/><circle cx="1387.5" cy="1544.3" r="4.6"/><circle cx="1371.4" cy="1544.3" r="4.6"/></g>
<g fill="#1A8FEA"><circle cx="1454.5" cy="1492.5" r="4.6"/><circle cx="1438.4" cy="1513" r="4.6"/><circle cx="1444.6" cy="1513" r="4.6"/><circle cx="1451.8" cy="1515.7" r="4.6"/><circle cx="1457.1" cy="1513.9" r="4.6"/><circle cx="1461.6" cy="1508.6" r="4.6"/><circle cx="1467" cy="1511.2" r="4.6"/><circle cx="1469.6" cy="1518.4" r="4.6"/><circle cx="1438.4" cy="1523.8" r="4.6"/><circle cx="1454.5" cy="1532.7" r="4.6"/><circle cx="1437.5" cy="1534.5" r="4.6"/><circle cx="1442.9" cy="1539.8" r="4.6"/><circle cx="1471.4" cy="1537.1" r="4.6"/><circle cx="1464.3" cy="1542.5" r="4.6"/><circle cx="1447.3" cy="1544.3" r="4.6"/><circle cx="1439.3" cy="1558.6" r="4.6"/><circle cx="1449.1" cy="1562.1" r="4.6"/><circle cx="1460.7" cy="1562.1" r="4.6"/><circle cx="1469.6" cy="1559.5" r="4.6"/><circle cx="1437.5" cy="1569.3" r="4.6"/><circle cx="1444.6" cy="1574.6" r="4.6"/><circle cx="1454.5" cy="1580" r="4.6"/><circle cx="1464.3" cy="1574.6" r="4.6"/><circle cx="1471.4" cy="1569.3" r="4.6"/><circle cx="1442.9" cy="1583.6" r="4.6"/><circle cx="1454.5" cy="1585.4" r="4.6"/><circle cx="1464.3" cy="1581.8" r="4.6"/><circle cx="1433.9" cy="1567.5" r="4.6"/><circle cx="1473.2" cy="1565.7" r="4.6"/><circle cx="1433.9" cy="1558.6" r="4.6"/><circle cx="1473.2" cy="1551.4" r="4.6"/><circle cx="1467.9" cy="1547.9" r="4.6"/><circle cx="1442.9" cy="1551.4" r="4.6"/><circle cx="1450" cy="1519.3" r="4.6"/><circle cx="1464.3" cy="1517.5" r="4.6"/></g>
<g fill="#939393"><circle cx="1525" cy="1356.4" r="4.6"/><circle cx="1525" cy="1408.9" r="4.6"/><circle cx="1517" cy="1502.3" r="4.6"/><circle cx="1532.1" cy="1503.2" r="4.6"/><circle cx="1512.5" cy="1508.6" r="4.6"/><circle cx="1537.5" cy="1508.6" r="4.6"/><circle cx="1527.7" cy="1515.7" r="4.6"/><circle cx="1533.9" cy="1521.1" r="4.6"/><circle cx="1517.9" cy="1524.6" r="4.6"/><circle cx="1512.5" cy="1530" r="4.6"/><circle cx="1524.1" cy="1533.6" r="4.6"/><circle cx="1528.6" cy="1537.1" r="4.6"/><circle cx="1507.1" cy="1547.9" r="4.6"/><circle cx="1541.1" cy="1544.3" r="4.6"/><circle cx="1510.7" cy="1555" r="4.6"/><circle cx="1521.4" cy="1558.6" r="4.6"/><circle cx="1533.9" cy="1555" r="4.6"/><circle cx="1541.1" cy="1560.4" r="4.6"/><circle cx="1508.9" cy="1565.7" r="4.6"/><circle cx="1517.9" cy="1569.3" r="4.6"/><circle cx="1525" cy="1574.6" r="4.6"/><circle cx="1533.9" cy="1569.3" r="4.6"/><circle cx="1508" cy="1581.8" r="4.6"/><circle cx="1541.1" cy="1578.2" r="4.6"/><circle cx="1517.9" cy="1587.1" r="4.6"/><circle cx="1525" cy="1590.7" r="4.6"/><circle cx="1533.9" cy="1583.6" r="4.6"/><circle cx="1507.1" cy="1597.9" r="4.6"/><circle cx="1542.9" cy="1594.3" r="4.6"/><circle cx="1530.4" cy="1599.6" r="4.6"/><circle cx="1518.8" cy="1606.8" r="4.6"/><circle cx="1512.5" cy="1558.6" r="4.6"/><circle cx="1537.5" cy="1565.7" r="4.6"/><circle cx="1517.9" cy="1547.9" r="4.6"/><circle cx="1530.4" cy="1547.9" r="4.6"/><circle cx="1521.4" cy="1565.7" r="4.6"/></g>
<g fill="#EE2A1A"><circle cx="1596.1" cy="1334.5" r="4.6"/><circle cx="1588.4" cy="1397.5" r="4.6"/><circle cx="1603.2" cy="1402.9" r="4.6"/><circle cx="1596.1" cy="1443.4" r="4.6"/><circle cx="1596.1" cy="1464.3" r="4.6"/><circle cx="1581.2" cy="1475.5" r="4.6"/><circle cx="1610.7" cy="1483.2" r="4.6"/><circle cx="1596.1" cy="1490.7" r="4.6"/><circle cx="1581.2" cy="1506.8" r="4.6"/><circle cx="1588.4" cy="1513.9" r="4.6"/><circle cx="1596.1" cy="1518" r="4.6"/><circle cx="1603.6" cy="1508.6" r="4.6"/><circle cx="1612.5" cy="1506.4" r="4.6"/><circle cx="1578.6" cy="1545.2" r="4.6"/><circle cx="1585.7" cy="1549.6" r="4.6"/><circle cx="1591.1" cy="1554.1" r="4.6"/><circle cx="1596.1" cy="1556.4" r="4.6"/><circle cx="1601.8" cy="1554.1" r="4.6"/><circle cx="1607.1" cy="1549.6" r="4.6"/><circle cx="1612.5" cy="1545.2" r="4.6"/><circle cx="1582.1" cy="1547.9" r="4.6"/><circle cx="1609.8" cy="1547.9" r="4.6"/></g>
<polyline points="1146.7,1629 1146.7,1565.4 1194.5,1565.4 1194.5,1629" fill="none" stroke="#000" stroke-width="3" stroke-linejoin="round" stroke-linecap="round" stroke-linejoin="miter" stroke-linecap="butt"/>
<line x1="1170.6" y1="1629" x2="1170.6" y2="1638.5" stroke="#000" stroke-width="3"/>
<line x1="1170.6" y1="1558.6" x2="1170.6" y2="1568.1" stroke="#000" stroke-width="3"/>
<line x1="1158" y1="1558.6" x2="1183.2" y2="1558.6" stroke="#000" stroke-width="3"/>
<line x1="1158" y1="1568.1" x2="1183.2" y2="1568.1" stroke="#000" stroke-width="3"/>
<polyline points="1217.6,1629 1217.6,1571.7 1265.4,1571.7 1265.4,1629" fill="none" stroke="#000" stroke-width="3" stroke-linejoin="round" stroke-linecap="round" stroke-linejoin="miter" stroke-linecap="butt"/>
<line x1="1241.5" y1="1629" x2="1241.5" y2="1638.5" stroke="#000" stroke-width="3"/>
<line x1="1241.5" y1="1561.1" x2="1241.5" y2="1574.9" stroke="#000" stroke-width="3"/>
<line x1="1228.9" y1="1561.1" x2="1254.1" y2="1561.1" stroke="#000" stroke-width="3"/>
<line x1="1228.9" y1="1574.9" x2="1254.1" y2="1574.9" stroke="#000" stroke-width="3"/>
<polyline points="1288.5,1629 1288.5,1573.3 1336.3,1573.3 1336.3,1629" fill="none" stroke="#000" stroke-width="3" stroke-linejoin="round" stroke-linecap="round" stroke-linejoin="miter" stroke-linecap="butt"/>
<line x1="1312.4" y1="1629" x2="1312.4" y2="1638.5" stroke="#000" stroke-width="3"/>
<line x1="1312.4" y1="1567.8" x2="1312.4" y2="1576.5" stroke="#000" stroke-width="3"/>
<line x1="1299.8" y1="1567.8" x2="1325" y2="1567.8" stroke="#000" stroke-width="3"/>
<line x1="1299.8" y1="1576.5" x2="1325" y2="1576.5" stroke="#000" stroke-width="3"/>
<polyline points="1359.3,1629 1359.3,1556.4 1407.1,1556.4 1407.1,1629" fill="none" stroke="#000" stroke-width="3" stroke-linejoin="round" stroke-linecap="round" stroke-linejoin="miter" stroke-linecap="butt"/>
<line x1="1383.2" y1="1629" x2="1383.2" y2="1638.5" stroke="#000" stroke-width="3"/>
<line x1="1383.2" y1="1549.6" x2="1383.2" y2="1559.5" stroke="#000" stroke-width="3"/>
<line x1="1370.6" y1="1549.6" x2="1395.8" y2="1549.6" stroke="#000" stroke-width="3"/>
<line x1="1370.6" y1="1559.5" x2="1395.8" y2="1559.5" stroke="#000" stroke-width="3"/>
<polyline points="1430,1629 1430,1555.5 1477.8,1555.5 1477.8,1629" fill="none" stroke="#000" stroke-width="3" stroke-linejoin="round" stroke-linecap="round" stroke-linejoin="miter" stroke-linecap="butt"/>
<line x1="1453.9" y1="1629" x2="1453.9" y2="1638.5" stroke="#000" stroke-width="3"/>
<line x1="1453.9" y1="1549.6" x2="1453.9" y2="1557.7" stroke="#000" stroke-width="3"/>
<line x1="1441.3" y1="1549.6" x2="1466.5" y2="1549.6" stroke="#000" stroke-width="3"/>
<line x1="1441.3" y1="1557.7" x2="1466.5" y2="1557.7" stroke="#000" stroke-width="3"/>
<polyline points="1501.4,1629 1501.4,1547 1549.2,1547 1549.2,1629" fill="none" stroke="#000" stroke-width="3" stroke-linejoin="round" stroke-linecap="round" stroke-linejoin="miter" stroke-linecap="butt"/>
<line x1="1525.3" y1="1629" x2="1525.3" y2="1638.5" stroke="#000" stroke-width="3"/>
<line x1="1525.3" y1="1537.1" x2="1525.3" y2="1552.9" stroke="#000" stroke-width="3"/>
<line x1="1512.7" y1="1537.1" x2="1537.9" y2="1537.1" stroke="#000" stroke-width="3"/>
<line x1="1512.7" y1="1552.9" x2="1537.9" y2="1552.9" stroke="#000" stroke-width="3"/>
<polyline points="1571.9,1629 1571.9,1496.6 1619.7,1496.6 1619.7,1629" fill="none" stroke="#000" stroke-width="3" stroke-linejoin="round" stroke-linecap="round" stroke-linejoin="miter" stroke-linecap="butt"/>
<line x1="1595.8" y1="1629" x2="1595.8" y2="1638.5" stroke="#000" stroke-width="3"/>
<line x1="1595.8" y1="1480.9" x2="1595.8" y2="1508.2" stroke="#000" stroke-width="3"/>
<line x1="1583.2" y1="1480.9" x2="1608.4" y2="1480.9" stroke="#000" stroke-width="3"/>
<line x1="1583.2" y1="1508.2" x2="1608.4" y2="1508.2" stroke="#000" stroke-width="3"/>
<line x1="1121.7" y1="1571.4" x2="1646" y2="1571.4" stroke="#000" stroke-width="3" stroke-dasharray="11.5 8"/>
<text x="1384" y="1409.4" font-size="42" font-weight="bold" text-anchor="middle" letter-spacing="4">**</text>
<text x="1461.8" y="1457.6" font-size="42" font-weight="bold" text-anchor="middle" letter-spacing="4">****</text>
<text x="1523.4" y="1360.8" font-size="42" font-weight="bold" text-anchor="middle" letter-spacing="4">**</text>
<text x="1600.2" y="1314.8" font-size="42" font-weight="bold" text-anchor="middle" letter-spacing="4">****</text>
<text transform="translate(1182.7,1659.2) rotate(-45)" font-size="25.5" font-weight="bold" text-anchor="end">Novel environment</text>
<text transform="translate(1256.5,1659.2) rotate(-45)" font-size="25.5" font-weight="bold" text-anchor="end">Novel object</text>
<text transform="translate(1327.4,1659.2) rotate(-45)" font-size="25.5" font-weight="bold" text-anchor="end">Feeding</text>
<text transform="translate(1401.1,1659.2) rotate(-45)" font-size="25.5" font-weight="bold" text-anchor="end">Female</text>
<text transform="translate(1471.7,1659.2) rotate(-45)" font-size="25.5" font-weight="bold" text-anchor="end">Male</text>
<text transform="translate(1540.3,1659.2) rotate(-45)" font-size="25.5" font-weight="bold" text-anchor="end">Prey-aggression</text>
<text transform="translate(1609.3,1659.2) rotate(-45)" font-size="25.5" font-weight="bold" text-anchor="end">Social aggression</text>
<text x="1043.5" y="1460.4" font-size="29.2" font-weight="bold" text-anchor="middle" transform="rotate(-90 1043.5 1460.4)" textLength="195.3" lengthAdjust="spacingAndGlyphs">% Mean (CA2)</text>
<text x="0" y="1998.6" font-size="66">k</text>
<line x1="112.7" y1="2034.2" x2="112.7" y2="2357.8" stroke="#000" stroke-width="3"/>
<line x1="111.2" y1="2356.3" x2="597" y2="2356.3" stroke="#000" stroke-width="3"/>
<line x1="101.7" y1="2356.3" x2="112.7" y2="2356.3" stroke="#000" stroke-width="3"/>
<text x="98.7" y="2363.1" font-size="26" font-weight="bold" text-anchor="end">0</text>
<line x1="101.7" y1="2209.3" x2="112.7" y2="2209.3" stroke="#000" stroke-width="3"/>
<text x="98.7" y="2216.1" font-size="26" font-weight="bold" text-anchor="end">50</text>
<line x1="101.7" y1="2062.3" x2="112.7" y2="2062.3" stroke="#000" stroke-width="3"/>
<text x="98.7" y="2069.1" font-size="26" font-weight="bold" text-anchor="end">100</text>
<line x1="106.2" y1="2282.8" x2="112.7" y2="2282.8" stroke="#000" stroke-width="3"/>
<line x1="106.2" y1="2135.8" x2="112.7" y2="2135.8" stroke="#000" stroke-width="3"/>
<line x1="173.2" y1="2356.3" x2="173.2" y2="2367.3" stroke="#000" stroke-width="3"/>
<line x1="263.9" y1="2356.3" x2="263.9" y2="2367.3" stroke="#000" stroke-width="3"/>
<line x1="354.5" y1="2356.3" x2="354.5" y2="2367.3" stroke="#000" stroke-width="3"/>
<line x1="445.5" y1="2356.3" x2="445.5" y2="2367.3" stroke="#000" stroke-width="3"/>
<line x1="535.8" y1="2356.3" x2="535.8" y2="2367.3" stroke="#000" stroke-width="3"/>
<polyline points="173.2,2199.4 263.9,2226 354.5,2228.2 445.5,2266.2 535.8,2089.4" fill="none" stroke="#000" stroke-width="3.2" stroke-linejoin="round" stroke-linecap="round" stroke-linecap="butt"/>
<line x1="173.2" y1="2190.2" x2="173.2" y2="2208.6" stroke="#000" stroke-width="3"/>
<line x1="165.4" y1="2190.2" x2="181" y2="2190.2" stroke="#000" stroke-width="3"/>
<line x1="165.4" y1="2208.6" x2="181" y2="2208.6" stroke="#000" stroke-width="3"/>
<line x1="263.9" y1="2205.7" x2="263.9" y2="2245.2" stroke="#000" stroke-width="3"/>
<line x1="256.1" y1="2205.7" x2="271.7" y2="2205.7" stroke="#000" stroke-width="3"/>
<line x1="256.1" y1="2245.2" x2="271.7" y2="2245.2" stroke="#000" stroke-width="3"/>
<line x1="354.5" y1="2221.2" x2="354.5" y2="2235.2" stroke="#000" stroke-width="3"/>
<line x1="346.7" y1="2221.2" x2="362.3" y2="2221.2" stroke="#000" stroke-width="3"/>
<line x1="346.7" y1="2235.2" x2="362.3" y2="2235.2" stroke="#000" stroke-width="3"/>
<line x1="445.5" y1="2239.6" x2="445.5" y2="2291.3" stroke="#000" stroke-width="3"/>
<line x1="437.7" y1="2239.6" x2="453.3" y2="2239.6" stroke="#000" stroke-width="3"/>
<line x1="437.7" y1="2291.3" x2="453.3" y2="2291.3" stroke="#000" stroke-width="3"/>
<line x1="535.8" y1="2057" x2="535.8" y2="2120.8" stroke="#000" stroke-width="3"/>
<line x1="528" y1="2057" x2="543.6" y2="2057" stroke="#000" stroke-width="3"/>
<line x1="528" y1="2120.8" x2="543.6" y2="2120.8" stroke="#000" stroke-width="3"/>
<g fill="#000"><circle cx="173.2" cy="2199.4" r="6.8"/><circle cx="263.9" cy="2226" r="6.8"/><circle cx="354.5" cy="2228.2" r="6.8"/><circle cx="445.5" cy="2266.2" r="6.8"/><circle cx="535.8" cy="2089.4" r="6.8"/></g>
<line x1="445.4" y1="2032.5" x2="535.9" y2="2032.5" stroke="#000" stroke-width="3"/>
<text x="495.9" y="2032.3" font-size="42" font-weight="bold" text-anchor="middle" letter-spacing="4">**</text>
<text transform="translate(180.3,2385.6) rotate(-45)" font-size="25.5" font-weight="bold" text-anchor="end">Trial 1</text>
<text transform="translate(271,2385.6) rotate(-45)" font-size="25.5" font-weight="bold" text-anchor="end">Trial 2</text>
<text transform="translate(361.6,2385.6) rotate(-45)" font-size="25.5" font-weight="bold" text-anchor="end">Trial 3</text>
<text transform="translate(452.6,2385.6) rotate(-45)" font-size="25.5" font-weight="bold" text-anchor="end">Trial 4</text>
<text transform="translate(542.9,2385.6) rotate(-45)" font-size="25.5" font-weight="bold" text-anchor="end"><tspan x="0" y="0">Trial 5</tspan><tspan x="1" y="34.5">(new mouse)</tspan></text>
<text x="48.6" y="2191.6" font-size="29.5" font-weight="bold" text-anchor="middle" transform="rotate(-90 48.6 2191.6)" textLength="243" lengthAdjust="spacingAndGlyphs">Interaction time (s)</text>
<text x="658.2" y="1995.5" font-size="66">l</text>
<line x1="780.6" y1="2034.5" x2="780.6" y2="2356.5" stroke="#000" stroke-width="3"/>
<line x1="779.1" y1="2355" x2="1261.7" y2="2355" stroke="#000" stroke-width="3"/>
<line x1="771.1" y1="2355" x2="780.6" y2="2355" stroke="#000" stroke-width="3"/>
<text x="767.3" y="2363.8" font-size="26" font-weight="bold" text-anchor="end">0</text>
<line x1="771.1" y1="2248.2" x2="780.6" y2="2248.2" stroke="#000" stroke-width="3"/>
<text x="767.3" y="2257" font-size="26" font-weight="bold" text-anchor="end">100</text>
<line x1="771.1" y1="2141.3" x2="780.6" y2="2141.3" stroke="#000" stroke-width="3"/>
<text x="767.3" y="2150.2" font-size="26" font-weight="bold" text-anchor="end">200</text>
<line x1="771.1" y1="2034.5" x2="780.6" y2="2034.5" stroke="#000" stroke-width="3"/>
<text x="767.3" y="2043.3" font-size="26" font-weight="bold" text-anchor="end">300</text>
<line x1="774.6" y1="2301.6" x2="780.6" y2="2301.6" stroke="#000" stroke-width="3"/>
<line x1="774.6" y1="2194.8" x2="780.6" y2="2194.8" stroke="#000" stroke-width="3"/>
<line x1="774.6" y1="2087.9" x2="780.6" y2="2087.9" stroke="#000" stroke-width="3"/>
<rect x="809.9" y="2193.6" width="60.2" height="161.4" fill="#fff"/>
<rect x="899.8" y="2214.3" width="60.2" height="140.7" fill="#fff"/>
<rect x="989.9" y="2215.7" width="60.2" height="139.3" fill="#fff"/>
<rect x="1079.5" y="2210.2" width="60.2" height="144.8" fill="#fff"/>
<rect x="1169.9" y="2164.6" width="60.2" height="190.4" fill="#fff"/>
<g fill="#A6A6A6"><circle cx="840" cy="2062.1" r="4.6"/><circle cx="840" cy="2137.9" r="4.6"/><circle cx="840" cy="2173.1" r="4.6"/><circle cx="854.3" cy="2222.6" r="4.6"/><circle cx="825.7" cy="2234" r="4.6"/><circle cx="840" cy="2234.6" r="4.6"/><circle cx="847.1" cy="2245.7" r="4.6"/><circle cx="832.9" cy="2249.3" r="4.6"/><circle cx="855" cy="2250" r="4.6"/><circle cx="825" cy="2253.6" r="4.6"/><circle cx="835" cy="2258.6" r="4.6"/><circle cx="845" cy="2254.3" r="4.6"/></g>
<g fill="#A6A6A6"><circle cx="929.7" cy="2106.9" r="4.6"/><circle cx="929.7" cy="2135.7" r="4.6"/><circle cx="929.7" cy="2155" r="4.6"/><circle cx="937.1" cy="2208.3" r="4.6"/><circle cx="922.6" cy="2218.6" r="4.6"/><circle cx="915.4" cy="2237.1" r="4.6"/><circle cx="929.7" cy="2238.3" r="4.6"/><circle cx="944.3" cy="2235" r="4.6"/><circle cx="908.3" cy="2250" r="4.6"/><circle cx="951.4" cy="2248.9" r="4.6"/><circle cx="922.6" cy="2255.4" r="4.6"/><circle cx="937.1" cy="2254.3" r="4.6"/></g>
<g fill="#A6A6A6"><circle cx="1019.9" cy="2133.6" r="4.6"/><circle cx="1012.8" cy="2148.3" r="4.6"/><circle cx="1027.2" cy="2153.8" r="4.6"/><circle cx="998.3" cy="2194.5" r="4.6"/><circle cx="1041.6" cy="2192.1" r="4.6"/><circle cx="1012.8" cy="2200.2" r="4.6"/><circle cx="1027.2" cy="2199.4" r="4.6"/><circle cx="1012.8" cy="2225.7" r="4.6"/><circle cx="1027.2" cy="2224.9" r="4.6"/><circle cx="1034.9" cy="2229.1" r="4.6"/><circle cx="1004.8" cy="2233.5" r="4.6"/><circle cx="1014.8" cy="2235.8" r="4.6"/><circle cx="1024.9" cy="2234.7" r="4.6"/><circle cx="1034.5" cy="2240.1" r="4.6"/><circle cx="1005.5" cy="2247.4" r="4.6"/><circle cx="1019.9" cy="2253.3" r="4.6"/><circle cx="1019.9" cy="2271.4" r="4.6"/></g>
<g fill="#A6A6A6"><circle cx="1109.7" cy="2162.3" r="4.6"/><circle cx="1117" cy="2168.5" r="4.6"/><circle cx="1095.3" cy="2180.1" r="4.6"/><circle cx="1094.5" cy="2191.7" r="4.6"/><circle cx="1102.3" cy="2189.3" r="4.6"/><circle cx="1104.6" cy="2193.2" r="4.6"/><circle cx="1117" cy="2190.9" r="4.6"/><circle cx="1124.7" cy="2191.7" r="4.6"/><circle cx="1114.6" cy="2196.3" r="4.6"/><circle cx="1087.6" cy="2199.4" r="4.6"/><circle cx="1132.4" cy="2200.6" r="4.6"/><circle cx="1098.4" cy="2204" r="4.6"/><circle cx="1120.8" cy="2208.7" r="4.6"/><circle cx="1109.7" cy="2214.9" r="4.6"/><circle cx="1095.3" cy="2240.1" r="4.6"/><circle cx="1124.2" cy="2240.1" r="4.6"/><circle cx="1109.7" cy="2248.2" r="4.6"/><circle cx="1117" cy="2260.5" r="4.6"/><circle cx="1102.3" cy="2263.6" r="4.6"/></g>
<g fill="#A6A6A6"><circle cx="1199.8" cy="2077.9" r="4.6"/><circle cx="1185.5" cy="2093.9" r="4.6"/><circle cx="1214.5" cy="2091.8" r="4.6"/><circle cx="1199.8" cy="2101.6" r="4.6"/><circle cx="1199.8" cy="2134.4" r="4.6"/><circle cx="1192.8" cy="2142.9" r="4.6"/><circle cx="1206.7" cy="2150.7" r="4.6"/><circle cx="1177.3" cy="2155.8" r="4.6"/><circle cx="1188.6" cy="2159.9" r="4.6"/><circle cx="1222.2" cy="2159.5" r="4.6"/><circle cx="1199.8" cy="2168.5" r="4.6"/><circle cx="1210.6" cy="2167.2" r="4.6"/><circle cx="1192.8" cy="2180.1" r="4.6"/><circle cx="1206.7" cy="2184.7" r="4.6"/><circle cx="1184.6" cy="2188.6" r="4.6"/><circle cx="1194.8" cy="2193.2" r="4.6"/><circle cx="1204.7" cy="2194" r="4.6"/><circle cx="1214.9" cy="2189.8" r="4.6"/><circle cx="1177.3" cy="2207.1" r="4.6"/><circle cx="1188.6" cy="2210.2" r="4.6"/><circle cx="1222.2" cy="2209" r="4.6"/><circle cx="1210.6" cy="2214.6" r="4.6"/><circle cx="1199.8" cy="2220.8" r="4.6"/><circle cx="1192.8" cy="2240" r="4.6"/><circle cx="1214.5" cy="2241.2" r="4.6"/><circle cx="1206.7" cy="2252" r="4.6"/><circle cx="1192.8" cy="2257" r="4.6"/></g>
<polyline points="809.9,2355 809.9,2193.6 870.1,2193.6 870.1,2355" fill="none" stroke="#000" stroke-width="3" stroke-linejoin="round" stroke-linecap="round" stroke-linejoin="miter" stroke-linecap="butt"/>
<line x1="840" y1="2355" x2="840" y2="2366" stroke="#000" stroke-width="3"/>
<line x1="840" y1="2162.9" x2="840" y2="2219.7" stroke="#000" stroke-width="3"/>
<line x1="824.2" y1="2162.9" x2="855.8" y2="2162.9" stroke="#000" stroke-width="3"/>
<line x1="824.2" y1="2219.7" x2="855.8" y2="2219.7" stroke="#000" stroke-width="3"/>
<polyline points="899.8,2355 899.8,2214.3 960,2214.3 960,2355" fill="none" stroke="#000" stroke-width="3" stroke-linejoin="round" stroke-linecap="round" stroke-linejoin="miter" stroke-linecap="butt"/>
<line x1="929.9" y1="2355" x2="929.9" y2="2366" stroke="#000" stroke-width="3"/>
<line x1="929.9" y1="2197.1" x2="929.9" y2="2226.4" stroke="#000" stroke-width="3"/>
<line x1="914.1" y1="2197.1" x2="945.7" y2="2197.1" stroke="#000" stroke-width="3"/>
<line x1="914.1" y1="2226.4" x2="945.7" y2="2226.4" stroke="#000" stroke-width="3"/>
<polyline points="989.9,2355 989.9,2215.7 1050.1,2215.7 1050.1,2355" fill="none" stroke="#000" stroke-width="3" stroke-linejoin="round" stroke-linecap="round" stroke-linejoin="miter" stroke-linecap="butt"/>
<line x1="1020" y1="2355" x2="1020" y2="2366" stroke="#000" stroke-width="3"/>
<line x1="1020" y1="2204.5" x2="1020" y2="2222.3" stroke="#000" stroke-width="3"/>
<line x1="1004.2" y1="2204.5" x2="1035.8" y2="2204.5" stroke="#000" stroke-width="3"/>
<line x1="1004.2" y1="2222.3" x2="1035.8" y2="2222.3" stroke="#000" stroke-width="3"/>
<polyline points="1079.5,2355 1079.5,2210.2 1139.7,2210.2 1139.7,2355" fill="none" stroke="#000" stroke-width="3" stroke-linejoin="round" stroke-linecap="round" stroke-linejoin="miter" stroke-linecap="butt"/>
<line x1="1109.6" y1="2355" x2="1109.6" y2="2366" stroke="#000" stroke-width="3"/>
<line x1="1109.6" y1="2201" x2="1109.6" y2="2214.9" stroke="#000" stroke-width="3"/>
<line x1="1093.8" y1="2201" x2="1125.4" y2="2201" stroke="#000" stroke-width="3"/>
<line x1="1093.8" y1="2214.9" x2="1125.4" y2="2214.9" stroke="#000" stroke-width="3"/>
<polyline points="1169.9,2355 1169.9,2164.6 1230.1,2164.6 1230.1,2355" fill="none" stroke="#000" stroke-width="3" stroke-linejoin="round" stroke-linecap="round" stroke-linejoin="miter" stroke-linecap="butt"/>
<line x1="1200" y1="2355" x2="1200" y2="2366" stroke="#000" stroke-width="3"/>
<line x1="1200" y1="2144" x2="1200" y2="2180" stroke="#000" stroke-width="3"/>
<line x1="1184.2" y1="2144" x2="1215.8" y2="2144" stroke="#000" stroke-width="3"/>
<line x1="1184.2" y1="2180" x2="1215.8" y2="2180" stroke="#000" stroke-width="3"/>
<line x1="780.6" y1="2248.2" x2="1261.7" y2="2248.2" stroke="#000" stroke-width="3" stroke-dasharray="11.5 8"/>
<text x="706.9" y="2193.2" font-size="29.2" font-weight="bold" text-anchor="middle" transform="rotate(-90 706.9 2193.2)" textLength="167.5" lengthAdjust="spacingAndGlyphs">% Max (CA2)</text>
<text transform="translate(849.1,2385.8) rotate(-45)" font-size="25.5" font-weight="bold" text-anchor="end">Trial 1</text>
<text transform="translate(939,2385.8) rotate(-45)" font-size="25.5" font-weight="bold" text-anchor="end">Trial 2</text>
<text transform="translate(1029.1,2385.8) rotate(-45)" font-size="25.5" font-weight="bold" text-anchor="end">Trial 3</text>
<text transform="translate(1118.7,2385.8) rotate(-45)" font-size="25.5" font-weight="bold" text-anchor="end">Trial 4</text>
<text transform="translate(1209.1,2385.8) rotate(-45)" font-size="25.5" font-weight="bold" text-anchor="end"><tspan x="0" y="0">Trial 5</tspan><tspan x="0" y="35.5">(new mouse)</tspan></text>
<line x1="1112.1" y1="2055.6" x2="1198.2" y2="2055.6" stroke="#000" stroke-width="3" stroke-linecap="round"/>
<text x="1161.5" y="2054.4" font-size="42" font-weight="bold" text-anchor="middle" letter-spacing="4">*</text>
<text x="1272" y="2004.8" font-size="66">m</text>
<line x1="1432" y1="2034" x2="1432" y2="2356.1" stroke="#000" stroke-width="3"/>
<line x1="1430.5" y1="2354.6" x2="1913" y2="2354.6" stroke="#000" stroke-width="3"/>
<line x1="1422.5" y1="2354.6" x2="1432" y2="2354.6" stroke="#000" stroke-width="3"/>
<text x="1418.7" y="2363.4" font-size="26" font-weight="bold" text-anchor="end">0</text>
<line x1="1422.5" y1="2201.6" x2="1432" y2="2201.6" stroke="#000" stroke-width="3"/>
<text x="1418.7" y="2210.4" font-size="26" font-weight="bold" text-anchor="end">100</text>
<line x1="1422.5" y1="2048.6" x2="1432" y2="2048.6" stroke="#000" stroke-width="3"/>
<text x="1418.7" y="2057.4" font-size="26" font-weight="bold" text-anchor="end">200</text>
<line x1="1426" y1="2278.1" x2="1432" y2="2278.1" stroke="#000" stroke-width="3"/>
<line x1="1426" y1="2125.1" x2="1432" y2="2125.1" stroke="#000" stroke-width="3"/>
<rect x="1461.5" y="2163.4" width="60.2" height="191.2" fill="#fff"/>
<rect x="1551.4" y="2190.2" width="60.2" height="164.4" fill="#fff"/>
<rect x="1641.9" y="2185.5" width="60.2" height="169.1" fill="#fff"/>
<rect x="1731.4" y="2171.8" width="60.2" height="182.8" fill="#fff"/>
<rect x="1821.5" y="2137.8" width="60.2" height="216.8" fill="#fff"/>
<g fill="#A6A6A6"><circle cx="1484.4" cy="2046.6" r="4.6"/><circle cx="1498.8" cy="2054.5" r="4.6"/><circle cx="1498.8" cy="2163.9" r="4.6"/><circle cx="1484.4" cy="2167.7" r="4.6"/><circle cx="1469.8" cy="2182.4" r="4.6"/><circle cx="1498.8" cy="2188.6" r="4.6"/><circle cx="1484.4" cy="2193.3" r="4.6"/><circle cx="1505.7" cy="2194.4" r="4.6"/><circle cx="1498.8" cy="2206.7" r="4.6"/><circle cx="1484.4" cy="2214.5" r="4.6"/></g>
<g fill="#A6A6A6"><circle cx="1567.3" cy="2155" r="4.6"/><circle cx="1589" cy="2153.5" r="4.6"/><circle cx="1574.3" cy="2168.5" r="4.6"/><circle cx="1595.9" cy="2173.2" r="4.6"/><circle cx="1559.9" cy="2184" r="4.6"/><circle cx="1603.2" cy="2182.4" r="4.6"/><circle cx="1574.3" cy="2187.9" r="4.6"/><circle cx="1589" cy="2186.3" r="4.6"/><circle cx="1581.5" cy="2205.7" r="4.6"/><circle cx="1567.3" cy="2211.4" r="4.6"/><circle cx="1595.9" cy="2215.7" r="4.6"/><circle cx="1581.5" cy="2225.3" r="4.6"/></g>
<g fill="#A6A6A6"><circle cx="1671.6" cy="2130.6" r="4.6"/><circle cx="1678.7" cy="2150.4" r="4.6"/><circle cx="1650" cy="2159.7" r="4.6"/><circle cx="1664.3" cy="2155" r="4.6"/><circle cx="1693.3" cy="2165.4" r="4.6"/><circle cx="1664.3" cy="2170.1" r="4.6"/><circle cx="1678.7" cy="2171.6" r="4.6"/><circle cx="1650" cy="2182.4" r="4.6"/><circle cx="1693.3" cy="2182" r="4.6"/><circle cx="1649.6" cy="2191.7" r="4.6"/><circle cx="1657.1" cy="2196.4" r="4.6"/><circle cx="1664.3" cy="2191.3" r="4.6"/><circle cx="1678.7" cy="2189.4" r="4.6"/><circle cx="1686.8" cy="2194.8" r="4.6"/><circle cx="1693.8" cy="2191.7" r="4.6"/><circle cx="1664.3" cy="2201.8" r="4.6"/><circle cx="1671.6" cy="2205.7" r="4.6"/><circle cx="1678.7" cy="2202.1" r="4.6"/><circle cx="1678.7" cy="2215.7" r="4.6"/><circle cx="1664.3" cy="2221.9" r="4.6"/></g>
<g fill="#A6A6A6"><circle cx="1776.1" cy="2124.7" r="4.6"/><circle cx="1747.4" cy="2129.2" r="4.6"/><circle cx="1761.7" cy="2133.7" r="4.6"/><circle cx="1739.9" cy="2144.2" r="4.6"/><circle cx="1783.2" cy="2141.1" r="4.6"/><circle cx="1768.9" cy="2145.8" r="4.6"/><circle cx="1754.4" cy="2151.8" r="4.6"/><circle cx="1738.1" cy="2158" r="4.6"/><circle cx="1784.5" cy="2156.7" r="4.6"/><circle cx="1743.5" cy="2161.8" r="4.6"/><circle cx="1779.3" cy="2158.6" r="4.6"/><circle cx="1748.6" cy="2163.1" r="4.6"/><circle cx="1771.7" cy="2160.5" r="4.6"/><circle cx="1756.3" cy="2165.7" r="4.6"/><circle cx="1765.3" cy="2164.4" r="4.6"/><circle cx="1754.4" cy="2185.5" r="4.6"/><circle cx="1768.9" cy="2184.2" r="4.6"/><circle cx="1739.9" cy="2208.5" r="4.6"/><circle cx="1783.2" cy="2214.9" r="4.6"/><circle cx="1754.4" cy="2220.9" r="4.6"/><circle cx="1768.9" cy="2222" r="4.6"/><circle cx="1761.7" cy="2238.9" r="4.6"/></g>
<g fill="#A6A6A6"><circle cx="1837.2" cy="2068.1" r="4.6"/><circle cx="1851.7" cy="2075.8" r="4.6"/><circle cx="1866.1" cy="2069.7" r="4.6"/><circle cx="1844.4" cy="2097.2" r="4.6"/><circle cx="1858.7" cy="2109.3" r="4.6"/><circle cx="1837.2" cy="2125" r="4.6"/><circle cx="1866.1" cy="2129.2" r="4.6"/><circle cx="1851.7" cy="2136.2" r="4.6"/><circle cx="1844.4" cy="2140.7" r="4.6"/><circle cx="1858.7" cy="2142.6" r="4.6"/><circle cx="1837.2" cy="2145.8" r="4.6"/><circle cx="1867" cy="2145.8" r="4.6"/><circle cx="1846.5" cy="2150.3" r="4.6"/><circle cx="1858.7" cy="2155.4" r="4.6"/><circle cx="1836.3" cy="2165.7" r="4.6"/><circle cx="1844.4" cy="2164.4" r="4.6"/><circle cx="1846.5" cy="2168.9" r="4.6"/><circle cx="1856.8" cy="2167.6" r="4.6"/><circle cx="1867" cy="2164.1" r="4.6"/><circle cx="1844.4" cy="2183.8" r="4.6"/><circle cx="1858.7" cy="2185.5" r="4.6"/><circle cx="1837.2" cy="2207.2" r="4.6"/><circle cx="1866.1" cy="2207.2" r="4.6"/><circle cx="1851.7" cy="2217.5" r="4.6"/></g>
<polyline points="1461.5,2354.6 1461.5,2163.4 1521.7,2163.4 1521.7,2354.6" fill="none" stroke="#000" stroke-width="3" stroke-linejoin="round" stroke-linecap="round" stroke-linejoin="miter" stroke-linecap="butt"/>
<line x1="1491.6" y1="2354.6" x2="1491.6" y2="2365.6" stroke="#000" stroke-width="3"/>
<line x1="1491.6" y1="2142.2" x2="1491.6" y2="2180.4" stroke="#000" stroke-width="3"/>
<line x1="1475.8" y1="2142.2" x2="1507.4" y2="2142.2" stroke="#000" stroke-width="3"/>
<line x1="1475.8" y1="2180.4" x2="1507.4" y2="2180.4" stroke="#000" stroke-width="3"/>
<polyline points="1551.4,2354.6 1551.4,2190.2 1611.6,2190.2 1611.6,2354.6" fill="none" stroke="#000" stroke-width="3" stroke-linejoin="round" stroke-linecap="round" stroke-linejoin="miter" stroke-linecap="butt"/>
<line x1="1581.5" y1="2354.6" x2="1581.5" y2="2365.6" stroke="#000" stroke-width="3"/>
<line x1="1581.5" y1="2180.9" x2="1581.5" y2="2194.4" stroke="#000" stroke-width="3"/>
<line x1="1565.7" y1="2180.9" x2="1597.3" y2="2180.9" stroke="#000" stroke-width="3"/>
<line x1="1565.7" y1="2194.4" x2="1597.3" y2="2194.4" stroke="#000" stroke-width="3"/>
<polyline points="1641.9,2354.6 1641.9,2185.5 1702.1,2185.5 1702.1,2354.6" fill="none" stroke="#000" stroke-width="3" stroke-linejoin="round" stroke-linecap="round" stroke-linejoin="miter" stroke-linecap="butt"/>
<line x1="1672" y1="2354.6" x2="1672" y2="2365.6" stroke="#000" stroke-width="3"/>
<line x1="1672" y1="2178.3" x2="1672" y2="2188.6" stroke="#000" stroke-width="3"/>
<line x1="1656.2" y1="2178.3" x2="1687.8" y2="2178.3" stroke="#000" stroke-width="3"/>
<line x1="1656.2" y1="2188.6" x2="1687.8" y2="2188.6" stroke="#000" stroke-width="3"/>
<polyline points="1731.4,2354.6 1731.4,2171.8 1791.6,2171.8 1791.6,2354.6" fill="none" stroke="#000" stroke-width="3" stroke-linejoin="round" stroke-linecap="round" stroke-linejoin="miter" stroke-linecap="butt"/>
<line x1="1761.5" y1="2354.6" x2="1761.5" y2="2365.6" stroke="#000" stroke-width="3"/>
<line x1="1761.5" y1="2163.1" x2="1761.5" y2="2176.1" stroke="#000" stroke-width="3"/>
<line x1="1745.7" y1="2163.1" x2="1777.3" y2="2163.1" stroke="#000" stroke-width="3"/>
<line x1="1745.7" y1="2176.1" x2="1777.3" y2="2176.1" stroke="#000" stroke-width="3"/>
<polyline points="1821.5,2354.6 1821.5,2137.8 1881.7,2137.8 1881.7,2354.6" fill="none" stroke="#000" stroke-width="3" stroke-linejoin="round" stroke-linecap="round" stroke-linejoin="miter" stroke-linecap="butt"/>
<line x1="1851.6" y1="2354.6" x2="1851.6" y2="2365.6" stroke="#000" stroke-width="3"/>
<line x1="1851.6" y1="2121.5" x2="1851.6" y2="2149.7" stroke="#000" stroke-width="3"/>
<line x1="1835.8" y1="2121.5" x2="1867.4" y2="2121.5" stroke="#000" stroke-width="3"/>
<line x1="1835.8" y1="2149.7" x2="1867.4" y2="2149.7" stroke="#000" stroke-width="3"/>
<line x1="1432" y1="2201.6" x2="1915" y2="2201.6" stroke="#000" stroke-width="3" stroke-dasharray="11.5 8"/>
<text x="1359" y="2198.4" font-size="29.2" font-weight="bold" text-anchor="middle" transform="rotate(-90 1359 2198.4)" textLength="193.5" lengthAdjust="spacingAndGlyphs">% Mean (CA2)</text>
<text transform="translate(1506.3,2385.4) rotate(-45)" font-size="25.5" font-weight="bold" text-anchor="end">Trial 1</text>
<text transform="translate(1596.2,2385.4) rotate(-45)" font-size="25.5" font-weight="bold" text-anchor="end">Trial 2</text>
<text transform="translate(1686.7,2385.4) rotate(-45)" font-size="25.5" font-weight="bold" text-anchor="end">Trial 3</text>
<text transform="translate(1776.2,2385.4) rotate(-45)" font-size="25.5" font-weight="bold" text-anchor="end">Trial 4</text>
<text transform="translate(1866.3,2385.4) rotate(-45)" font-size="25.5" font-weight="bold" text-anchor="end"><tspan x="0" y="0">Trial 5</tspan><tspan x="-4.2" y="28.7">(new mouse)</tspan></text>
<line x1="1771" y1="2052.5" x2="1857.1" y2="2052.5" stroke="#000" stroke-width="3" stroke-linecap="round"/>
<text x="1824.1" y="2048.3" font-size="42" font-weight="bold" text-anchor="middle" letter-spacing="4">*</text>
</svg>
</body></html>
